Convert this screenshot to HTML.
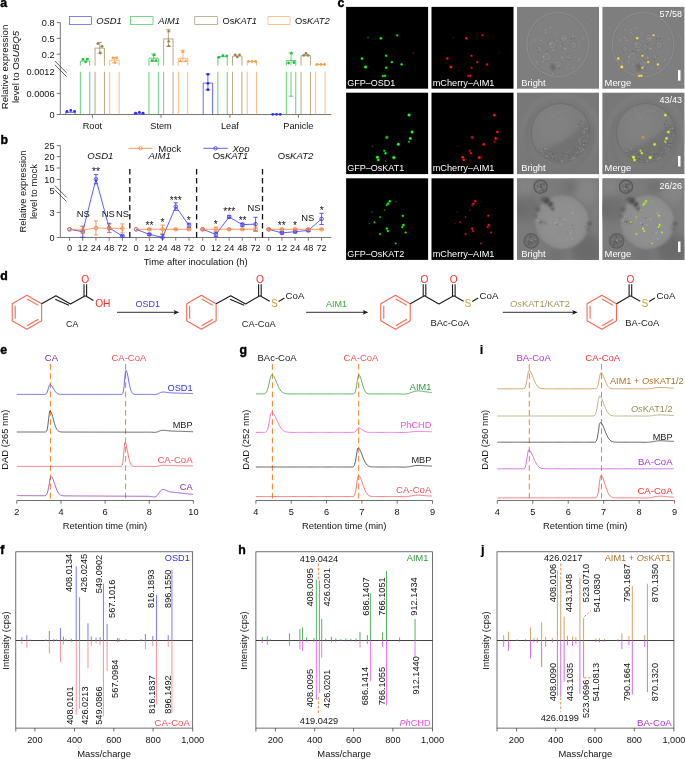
<!DOCTYPE html>
<html><head><meta charset="utf-8"><title>Figure</title>
<style>
html,body{margin:0;padding:0;background:#fff;}
svg{display:block;font-family:"Liberation Sans",sans-serif;}
</style></head><body>
<svg width="685" height="759" viewBox="0 0 685 759">
<rect width="685" height="759" fill="#fff"/>
<text x="0.20" y="6.60" font-size="12.3" fill="#000" font-weight="bold" stroke="#000" stroke-width="0.4" stroke-linejoin="round">a</text>
<text x="7.80" y="67.00" font-size="9.7" text-anchor="middle" fill="#111" transform="rotate(-90 7.80 67.00)">Relative expression</text>
<text x="18.80" y="67.00" font-size="9.7" text-anchor="middle" fill="#111" transform="rotate(-90 18.80 67.00)">level to Os<tspan font-style="italic">UBQ5</tspan></text>
<line x1="60.30" y1="22.60" x2="60.30" y2="114.50" stroke="#777" stroke-width="1.0" />
<line x1="54.80" y1="61.00" x2="66.60" y2="72.80" stroke="#3a3a3a" stroke-width="0.8" />
<line x1="54.80" y1="64.80" x2="66.60" y2="76.60" stroke="#3a3a3a" stroke-width="0.8" />
<line x1="56.80" y1="22.60" x2="60.30" y2="22.60" stroke="#777" stroke-width="1.0" />
<text x="54.60" y="25.90" font-size="9.2" text-anchor="end" fill="#111">0.8</text>
<line x1="56.80" y1="38.40" x2="60.30" y2="38.40" stroke="#777" stroke-width="1.0" />
<text x="54.60" y="41.70" font-size="9.2" text-anchor="end" fill="#111">0.5</text>
<line x1="56.80" y1="54.20" x2="60.30" y2="54.20" stroke="#777" stroke-width="1.0" />
<text x="54.60" y="57.50" font-size="9.2" text-anchor="end" fill="#111">0.2</text>
<text x="54.60" y="75.00" font-size="9.2" text-anchor="end" fill="#111">0.0012</text>
<line x1="56.80" y1="93.40" x2="60.30" y2="93.40" stroke="#777" stroke-width="1.0" />
<text x="54.60" y="96.70" font-size="9.2" text-anchor="end" fill="#111">0.0006</text>
<line x1="56.80" y1="114.50" x2="60.30" y2="114.50" stroke="#777" stroke-width="1.0" />
<text x="54.60" y="117.80" font-size="9.2" text-anchor="end" fill="#111">0</text>
<line x1="59.80" y1="114.50" x2="331.40" y2="114.50" stroke="#777" stroke-width="1.0" />
<line x1="92.40" y1="114.50" x2="92.40" y2="117.80" stroke="#777" stroke-width="1.0" />
<text x="92.40" y="128.60" font-size="9.2" text-anchor="middle" fill="#111">Root</text>
<line x1="161.00" y1="114.50" x2="161.00" y2="117.80" stroke="#777" stroke-width="1.0" />
<text x="161.00" y="128.60" font-size="9.2" text-anchor="middle" fill="#111">Stem</text>
<line x1="229.90" y1="114.50" x2="229.90" y2="117.80" stroke="#777" stroke-width="1.0" />
<text x="229.90" y="128.60" font-size="9.2" text-anchor="middle" fill="#111">Leaf</text>
<line x1="298.40" y1="114.50" x2="298.40" y2="117.80" stroke="#777" stroke-width="1.0" />
<text x="298.40" y="128.60" font-size="9.2" text-anchor="middle" fill="#111">Panicle</text>
<rect x="69.60" y="16.70" width="22.00" height="7.60" fill="none" stroke="#2a2aff" stroke-width="0.6" />
<text x="96.20" y="24.00" font-size="9.35" fill="#111"><tspan font-style="italic">OSD1</tspan></text>
<rect x="130.40" y="16.70" width="22.60" height="7.60" fill="none" stroke="#1fbf3a" stroke-width="0.6" />
<text x="158.20" y="24.00" font-size="9.35" fill="#111"><tspan font-style="italic">AIM1</tspan></text>
<rect x="194.80" y="16.70" width="22.80" height="7.60" fill="none" stroke="#9a8450" stroke-width="0.6" />
<text x="222.40" y="24.00" font-size="9.35" fill="#111">Os<tspan font-style="italic">KAT1</tspan></text>
<rect x="268.00" y="16.70" width="22.00" height="7.60" fill="none" stroke="#ff9d45" stroke-width="0.6" />
<text x="295.00" y="24.00" font-size="9.35" fill="#111">Os<tspan font-style="italic">KAT2</tspan></text>
<path d="M65.70,114.5 V112.30 H75.10 V114.5" fill="none" stroke="#2a2aff" stroke-width="0.7" />
<circle cx="66.90" cy="111.50" r="1.40" fill="#2a2aff" />
<circle cx="70.80" cy="110.40" r="1.40" fill="#2a2aff" />
<circle cx="74.60" cy="111.40" r="1.40" fill="#2a2aff" />
<path d="M80.35,65.6 V61.00 H89.75 V65.6" fill="none" stroke="#1fbf3a" stroke-width="0.7" />
<line x1="80.35" y1="71.80" x2="80.35" y2="114.50" stroke="#1fbf3a" stroke-width="0.7" />
<line x1="89.75" y1="71.80" x2="89.75" y2="114.50" stroke="#1fbf3a" stroke-width="0.7" />
<circle cx="83.00" cy="59.40" r="1.40" fill="#1fbf3a" />
<circle cx="87.40" cy="59.20" r="1.40" fill="#1fbf3a" />
<circle cx="85.70" cy="61.80" r="1.40" fill="#1fbf3a" />
<path d="M95.05,65.6 V48.10 H104.45 V65.6" fill="none" stroke="#9a8450" stroke-width="0.7" />
<line x1="95.05" y1="71.80" x2="95.05" y2="114.50" stroke="#9a8450" stroke-width="0.7" />
<line x1="104.45" y1="71.80" x2="104.45" y2="114.50" stroke="#9a8450" stroke-width="0.7" />
<line x1="99.75" y1="42.40" x2="99.75" y2="53.30" stroke="#9a8450" stroke-width="0.7" />
<line x1="97.35" y1="42.40" x2="102.15" y2="42.40" stroke="#9a8450" stroke-width="0.7" />
<line x1="97.35" y1="53.30" x2="102.15" y2="53.30" stroke="#9a8450" stroke-width="0.7" />
<circle cx="97.90" cy="43.70" r="1.40" fill="#9a8450" />
<circle cx="102.00" cy="46.30" r="1.40" fill="#9a8450" />
<circle cx="100.20" cy="53.00" r="1.40" fill="#9a8450" />
<path d="M109.70,65.6 V60.30 H119.10 V65.6" fill="none" stroke="#ff9d45" stroke-width="0.7" />
<line x1="109.70" y1="71.80" x2="109.70" y2="114.50" stroke="#ff9d45" stroke-width="0.7" />
<line x1="119.10" y1="71.80" x2="119.10" y2="114.50" stroke="#ff9d45" stroke-width="0.7" />
<line x1="114.40" y1="57.60" x2="114.40" y2="62.80" stroke="#ff9d45" stroke-width="0.7" />
<line x1="112.00" y1="57.60" x2="116.80" y2="57.60" stroke="#ff9d45" stroke-width="0.7" />
<line x1="112.00" y1="62.80" x2="116.80" y2="62.80" stroke="#ff9d45" stroke-width="0.7" />
<circle cx="112.80" cy="57.80" r="1.40" fill="#ff9d45" />
<circle cx="116.70" cy="57.80" r="1.40" fill="#ff9d45" />
<circle cx="114.90" cy="62.60" r="1.40" fill="#ff9d45" />
<path d="M134.30,114.5 V113.20 H143.70 V114.5" fill="none" stroke="#2a2aff" stroke-width="0.7" />
<circle cx="135.60" cy="113.20" r="1.40" fill="#2a2aff" />
<circle cx="139.40" cy="112.30" r="1.40" fill="#2a2aff" />
<circle cx="143.10" cy="113.20" r="1.40" fill="#2a2aff" />
<path d="M148.95,65.6 V58.20 H158.35 V65.6" fill="none" stroke="#1fbf3a" stroke-width="0.7" />
<line x1="148.95" y1="71.80" x2="148.95" y2="114.50" stroke="#1fbf3a" stroke-width="0.7" />
<line x1="158.35" y1="71.80" x2="158.35" y2="114.50" stroke="#1fbf3a" stroke-width="0.7" />
<line x1="153.65" y1="54.00" x2="153.65" y2="61.20" stroke="#1fbf3a" stroke-width="0.7" />
<line x1="151.25" y1="54.00" x2="156.05" y2="54.00" stroke="#1fbf3a" stroke-width="0.7" />
<line x1="151.25" y1="61.20" x2="156.05" y2="61.20" stroke="#1fbf3a" stroke-width="0.7" />
<path d="M152.20,55.90 L155.80,55.90 L154.00,52.80Z" fill="#1fbf3a" stroke="none" stroke-width="0" />
<path d="M150.10,61.70 L153.70,61.70 L151.90,58.60Z" fill="#1fbf3a" stroke="none" stroke-width="0" />
<path d="M154.30,61.70 L157.90,61.70 L156.10,58.60Z" fill="#1fbf3a" stroke="none" stroke-width="0" />
<path d="M163.65,65.6 V38.90 H173.05 V65.6" fill="none" stroke="#9a8450" stroke-width="0.7" />
<line x1="163.65" y1="71.80" x2="163.65" y2="114.50" stroke="#9a8450" stroke-width="0.7" />
<line x1="173.05" y1="71.80" x2="173.05" y2="114.50" stroke="#9a8450" stroke-width="0.7" />
<line x1="168.35" y1="29.80" x2="168.35" y2="46.40" stroke="#9a8450" stroke-width="0.7" />
<line x1="165.95" y1="29.80" x2="170.75" y2="29.80" stroke="#9a8450" stroke-width="0.7" />
<line x1="165.95" y1="46.40" x2="170.75" y2="46.40" stroke="#9a8450" stroke-width="0.7" />
<path d="M166.90,32.30 L170.50,32.30 L168.70,29.20Z" fill="#9a8450" stroke="none" stroke-width="0" />
<path d="M166.90,42.30 L170.50,42.30 L168.70,39.20Z" fill="#9a8450" stroke="none" stroke-width="0" />
<path d="M166.90,46.90 L170.50,46.90 L168.70,43.80Z" fill="#9a8450" stroke="none" stroke-width="0" />
<path d="M178.30,65.6 V58.20 H187.70 V65.6" fill="none" stroke="#ff9d45" stroke-width="0.7" />
<line x1="178.30" y1="71.80" x2="178.30" y2="114.50" stroke="#ff9d45" stroke-width="0.7" />
<line x1="187.70" y1="71.80" x2="187.70" y2="114.50" stroke="#ff9d45" stroke-width="0.7" />
<line x1="183.00" y1="50.40" x2="183.00" y2="61.60" stroke="#ff9d45" stroke-width="0.7" />
<line x1="180.60" y1="50.40" x2="185.40" y2="50.40" stroke="#ff9d45" stroke-width="0.7" />
<line x1="180.60" y1="61.60" x2="185.40" y2="61.60" stroke="#ff9d45" stroke-width="0.7" />
<path d="M181.00,52.70 L184.60,52.70 L182.80,49.60Z" fill="#ff9d45" stroke="none" stroke-width="0" />
<path d="M178.60,62.10 L182.20,62.10 L180.40,59.00Z" fill="#ff9d45" stroke="none" stroke-width="0" />
<path d="M183.90,62.10 L187.50,62.10 L185.70,59.00Z" fill="#ff9d45" stroke="none" stroke-width="0" />
<path d="M203.20,114.5 V83.10 H212.60 V114.5" fill="none" stroke="#2a2aff" stroke-width="0.7" />
<line x1="207.90" y1="74.10" x2="207.90" y2="90.00" stroke="#2a2aff" stroke-width="0.7" />
<line x1="205.50" y1="74.10" x2="210.30" y2="74.10" stroke="#2a2aff" stroke-width="0.7" />
<line x1="205.50" y1="90.00" x2="210.30" y2="90.00" stroke="#2a2aff" stroke-width="0.7" />
<circle cx="207.90" cy="74.30" r="1.40" fill="#2a2aff" />
<circle cx="207.90" cy="83.30" r="1.40" fill="#2a2aff" />
<circle cx="207.90" cy="89.70" r="1.40" fill="#2a2aff" />
<path d="M217.85,65.6 V56.60 H227.25 V65.6" fill="none" stroke="#1fbf3a" stroke-width="0.7" />
<line x1="217.85" y1="71.80" x2="217.85" y2="114.50" stroke="#1fbf3a" stroke-width="0.7" />
<line x1="227.25" y1="71.80" x2="227.25" y2="114.50" stroke="#1fbf3a" stroke-width="0.7" />
<circle cx="218.90" cy="57.30" r="1.40" fill="#1fbf3a" />
<circle cx="223.00" cy="55.70" r="1.40" fill="#1fbf3a" />
<circle cx="226.70" cy="55.90" r="1.40" fill="#1fbf3a" />
<path d="M232.55,65.6 V56.10 H241.95 V65.6" fill="none" stroke="#9a8450" stroke-width="0.7" />
<line x1="232.55" y1="71.80" x2="232.55" y2="114.50" stroke="#9a8450" stroke-width="0.7" />
<line x1="241.95" y1="71.80" x2="241.95" y2="114.50" stroke="#9a8450" stroke-width="0.7" />
<circle cx="235.20" cy="54.80" r="1.40" fill="#9a8450" />
<circle cx="237.30" cy="56.90" r="1.40" fill="#9a8450" />
<circle cx="239.50" cy="54.80" r="1.40" fill="#9a8450" />
<path d="M247.20,65.6 V61.60 H256.60 V65.6" fill="none" stroke="#ff9d45" stroke-width="0.7" />
<line x1="247.20" y1="71.80" x2="247.20" y2="114.50" stroke="#ff9d45" stroke-width="0.7" />
<line x1="256.60" y1="71.80" x2="256.60" y2="114.50" stroke="#ff9d45" stroke-width="0.7" />
<line x1="247.90" y1="61.40" x2="255.90" y2="61.40" stroke="#ff9d45" stroke-width="0.7" />
<circle cx="248.50" cy="61.40" r="1.40" fill="#ff9d45" />
<circle cx="252.10" cy="61.40" r="1.40" fill="#ff9d45" />
<circle cx="255.70" cy="61.40" r="1.40" fill="#ff9d45" />
<line x1="272.40" y1="114.30" x2="280.40" y2="114.30" stroke="#2a2aff" stroke-width="0.7" />
<circle cx="272.70" cy="114.30" r="1.40" fill="#2a2aff" />
<circle cx="276.50" cy="114.30" r="1.40" fill="#2a2aff" />
<circle cx="280.20" cy="114.30" r="1.40" fill="#2a2aff" />
<path d="M286.35,65.6 V60.50 H295.75 V65.6" fill="none" stroke="#1fbf3a" stroke-width="0.7" />
<line x1="286.35" y1="71.80" x2="286.35" y2="114.50" stroke="#1fbf3a" stroke-width="0.7" />
<line x1="295.75" y1="71.80" x2="295.75" y2="114.50" stroke="#1fbf3a" stroke-width="0.7" />
<line x1="291.05" y1="52.80" x2="291.05" y2="65.60" stroke="#1fbf3a" stroke-width="0.7" />
<line x1="291.05" y1="71.80" x2="291.05" y2="96.20" stroke="#1fbf3a" stroke-width="0.7" />
<line x1="288.65" y1="52.80" x2="293.45" y2="52.80" stroke="#1fbf3a" stroke-width="0.7" />
<line x1="288.65" y1="96.20" x2="293.45" y2="96.20" stroke="#1fbf3a" stroke-width="0.7" />
<path d="M289.60,54.30 L293.20,54.30 L291.40,51.20Z" fill="#1fbf3a" stroke="none" stroke-width="0" />
<circle cx="288.60" cy="63.00" r="1.40" fill="#1fbf3a" />
<circle cx="293.90" cy="62.50" r="1.40" fill="#1fbf3a" />
<path d="M301.05,65.6 V55.70 H310.45 V65.6" fill="none" stroke="#9a8450" stroke-width="0.7" />
<line x1="301.05" y1="71.80" x2="301.05" y2="114.50" stroke="#9a8450" stroke-width="0.7" />
<line x1="310.45" y1="71.80" x2="310.45" y2="114.50" stroke="#9a8450" stroke-width="0.7" />
<circle cx="303.90" cy="55.30" r="1.40" fill="#9a8450" />
<circle cx="306.00" cy="53.40" r="1.40" fill="#9a8450" />
<circle cx="308.00" cy="55.30" r="1.40" fill="#9a8450" />
<path d="M315.70,65.6 V64.40 H325.10 V65.6" fill="none" stroke="#ff9d45" stroke-width="0.7" />
<line x1="315.70" y1="71.80" x2="315.70" y2="114.50" stroke="#ff9d45" stroke-width="0.7" />
<line x1="325.10" y1="71.80" x2="325.10" y2="114.50" stroke="#ff9d45" stroke-width="0.7" />
<line x1="316.40" y1="64.50" x2="324.40" y2="64.50" stroke="#ff9d45" stroke-width="0.7" />
<circle cx="317.20" cy="64.50" r="1.40" fill="#ff9d45" />
<circle cx="320.90" cy="64.50" r="1.40" fill="#ff9d45" />
<circle cx="324.60" cy="64.50" r="1.40" fill="#ff9d45" />
<text x="0.40" y="143.70" font-size="12.3" fill="#000" font-weight="bold" stroke="#000" stroke-width="0.4" stroke-linejoin="round">b</text>
<text x="25.60" y="191.50" font-size="9.4" text-anchor="middle" fill="#111" transform="rotate(-90 25.60 191.50)">Relative expression</text>
<text x="36.70" y="191.50" font-size="9.45" text-anchor="middle" fill="#111" transform="rotate(-90 36.70 191.50)">level to mock</text>
<line x1="60.30" y1="145.60" x2="60.30" y2="237.50" stroke="#777" stroke-width="1.0" />
<line x1="54.80" y1="185.60" x2="66.80" y2="197.60" stroke="#3a3a3a" stroke-width="0.8" />
<line x1="54.80" y1="189.80" x2="66.40" y2="201.40" stroke="#3a3a3a" stroke-width="0.8" />
<line x1="56.80" y1="145.60" x2="60.30" y2="145.60" stroke="#777" stroke-width="1.0" />
<text x="54.60" y="148.90" font-size="9.2" text-anchor="end" fill="#111">25</text>
<line x1="56.80" y1="156.60" x2="60.30" y2="156.60" stroke="#777" stroke-width="1.0" />
<text x="54.60" y="159.90" font-size="9.2" text-anchor="end" fill="#111">20</text>
<line x1="56.80" y1="168.00" x2="60.30" y2="168.00" stroke="#777" stroke-width="1.0" />
<text x="54.60" y="171.30" font-size="9.2" text-anchor="end" fill="#111">15</text>
<line x1="56.80" y1="179.40" x2="60.30" y2="179.40" stroke="#777" stroke-width="1.0" />
<text x="54.60" y="182.70" font-size="9.2" text-anchor="end" fill="#111">10</text>
<text x="54.60" y="194.10" font-size="9.2" text-anchor="end" fill="#111">5</text>
<line x1="56.80" y1="212.40" x2="60.30" y2="212.40" stroke="#777" stroke-width="1.0" />
<text x="54.60" y="215.70" font-size="9.2" text-anchor="end" fill="#111">3</text>
<line x1="56.80" y1="237.50" x2="60.30" y2="237.50" stroke="#777" stroke-width="1.0" />
<text x="54.60" y="240.80" font-size="9.2" text-anchor="end" fill="#111">0</text>
<line x1="59.80" y1="237.50" x2="331.40" y2="237.50" stroke="#777" stroke-width="1.0" />
<line x1="69.50" y1="237.50" x2="69.50" y2="240.70" stroke="#777" stroke-width="1.0" />
<text x="69.50" y="251.30" font-size="9.2" text-anchor="middle" fill="#111">0</text>
<line x1="82.72" y1="237.50" x2="82.72" y2="240.70" stroke="#777" stroke-width="1.0" />
<text x="82.72" y="251.30" font-size="9.2" text-anchor="middle" fill="#111">12</text>
<line x1="95.94" y1="237.50" x2="95.94" y2="240.70" stroke="#777" stroke-width="1.0" />
<text x="95.94" y="251.30" font-size="9.2" text-anchor="middle" fill="#111">24</text>
<line x1="109.16" y1="237.50" x2="109.16" y2="240.70" stroke="#777" stroke-width="1.0" />
<text x="109.16" y="251.30" font-size="9.2" text-anchor="middle" fill="#111">48</text>
<line x1="122.38" y1="237.50" x2="122.38" y2="240.70" stroke="#777" stroke-width="1.0" />
<text x="122.38" y="251.30" font-size="9.2" text-anchor="middle" fill="#111">72</text>
<line x1="136.10" y1="237.50" x2="136.10" y2="240.70" stroke="#777" stroke-width="1.0" />
<text x="136.10" y="251.30" font-size="9.2" text-anchor="middle" fill="#111">0</text>
<line x1="149.32" y1="237.50" x2="149.32" y2="240.70" stroke="#777" stroke-width="1.0" />
<text x="149.32" y="251.30" font-size="9.2" text-anchor="middle" fill="#111">12</text>
<line x1="162.54" y1="237.50" x2="162.54" y2="240.70" stroke="#777" stroke-width="1.0" />
<text x="162.54" y="251.30" font-size="9.2" text-anchor="middle" fill="#111">24</text>
<line x1="175.76" y1="237.50" x2="175.76" y2="240.70" stroke="#777" stroke-width="1.0" />
<text x="175.76" y="251.30" font-size="9.2" text-anchor="middle" fill="#111">48</text>
<line x1="188.98" y1="237.50" x2="188.98" y2="240.70" stroke="#777" stroke-width="1.0" />
<text x="188.98" y="251.30" font-size="9.2" text-anchor="middle" fill="#111">72</text>
<line x1="202.70" y1="237.50" x2="202.70" y2="240.70" stroke="#777" stroke-width="1.0" />
<text x="202.70" y="251.30" font-size="9.2" text-anchor="middle" fill="#111">0</text>
<line x1="215.92" y1="237.50" x2="215.92" y2="240.70" stroke="#777" stroke-width="1.0" />
<text x="215.92" y="251.30" font-size="9.2" text-anchor="middle" fill="#111">12</text>
<line x1="229.14" y1="237.50" x2="229.14" y2="240.70" stroke="#777" stroke-width="1.0" />
<text x="229.14" y="251.30" font-size="9.2" text-anchor="middle" fill="#111">24</text>
<line x1="242.36" y1="237.50" x2="242.36" y2="240.70" stroke="#777" stroke-width="1.0" />
<text x="242.36" y="251.30" font-size="9.2" text-anchor="middle" fill="#111">48</text>
<line x1="255.58" y1="237.50" x2="255.58" y2="240.70" stroke="#777" stroke-width="1.0" />
<text x="255.58" y="251.30" font-size="9.2" text-anchor="middle" fill="#111">72</text>
<line x1="268.70" y1="237.50" x2="268.70" y2="240.70" stroke="#777" stroke-width="1.0" />
<text x="268.70" y="251.30" font-size="9.2" text-anchor="middle" fill="#111">0</text>
<line x1="281.92" y1="237.50" x2="281.92" y2="240.70" stroke="#777" stroke-width="1.0" />
<text x="281.92" y="251.30" font-size="9.2" text-anchor="middle" fill="#111">12</text>
<line x1="295.14" y1="237.50" x2="295.14" y2="240.70" stroke="#777" stroke-width="1.0" />
<text x="295.14" y="251.30" font-size="9.2" text-anchor="middle" fill="#111">24</text>
<line x1="308.36" y1="237.50" x2="308.36" y2="240.70" stroke="#777" stroke-width="1.0" />
<text x="308.36" y="251.30" font-size="9.2" text-anchor="middle" fill="#111">48</text>
<line x1="321.58" y1="237.50" x2="321.58" y2="240.70" stroke="#777" stroke-width="1.0" />
<text x="321.58" y="251.30" font-size="9.2" text-anchor="middle" fill="#111">72</text>
<text x="195.70" y="265.30" font-size="9.45" text-anchor="middle" fill="#111">Time after inoculation (h)</text>
<line x1="129.80" y1="169.00" x2="129.80" y2="237.50" stroke="#111" stroke-width="1.3" stroke-dasharray="5.6 3.4"/>
<line x1="196.60" y1="169.00" x2="196.60" y2="237.50" stroke="#111" stroke-width="1.3" stroke-dasharray="5.6 3.4"/>
<line x1="262.50" y1="169.00" x2="262.50" y2="237.50" stroke="#111" stroke-width="1.3" stroke-dasharray="5.6 3.4"/>
<text x="100.40" y="159.30" font-size="9.6" text-anchor="middle" fill="#111"><tspan font-style="italic">OSD1</tspan></text>
<text x="159.60" y="159.30" font-size="9.6" text-anchor="middle" fill="#111"><tspan font-style="italic">AIM1</tspan></text>
<text x="230.40" y="159.30" font-size="9.6" text-anchor="middle" fill="#111">Os<tspan font-style="italic">KAT1</tspan></text>
<text x="295.60" y="159.30" font-size="9.6" text-anchor="middle" fill="#111">Os<tspan font-style="italic">KAT2</tspan></text>
<line x1="128.50" y1="148.30" x2="152.60" y2="148.30" stroke="#f5823e" stroke-width="0.8" />
<circle cx="140.50" cy="148.30" r="1.70" fill="none" stroke="#f5823e" stroke-width="0.8" />
<text x="158.20" y="151.70" font-size="9.6" fill="#111">Mock</text>
<line x1="203.40" y1="148.30" x2="227.70" y2="148.30" stroke="#3636f5" stroke-width="0.8" />
<circle cx="215.50" cy="148.30" r="1.70" fill="none" stroke="#3636f5" stroke-width="0.8" />
<text x="232.40" y="151.70" font-size="9.6" fill="#111"><tspan font-style="italic">Xoo</tspan></text>
<path d="M69.50,229.30 L82.72,231.70 L95.94,179.20 L109.16,227.90 L122.38,236.00" fill="none" stroke="#3636f5" stroke-width="0.8" />
<circle cx="69.50" cy="229.30" r="1.80" fill="none" stroke="#3636f5" stroke-width="0.8" />
<line x1="82.72" y1="226.20" x2="82.72" y2="237.20" stroke="#3636f5" stroke-width="0.8" />
<line x1="80.52" y1="226.20" x2="84.92" y2="226.20" stroke="#3636f5" stroke-width="0.8" />
<line x1="80.52" y1="237.20" x2="84.92" y2="237.20" stroke="#3636f5" stroke-width="0.8" />
<circle cx="82.72" cy="231.70" r="1.80" fill="none" stroke="#3636f5" stroke-width="0.8" />
<line x1="95.94" y1="174.60" x2="95.94" y2="183.80" stroke="#3636f5" stroke-width="0.8" />
<line x1="93.74" y1="174.60" x2="98.14" y2="174.60" stroke="#3636f5" stroke-width="0.8" />
<line x1="93.74" y1="183.80" x2="98.14" y2="183.80" stroke="#3636f5" stroke-width="0.8" />
<circle cx="95.94" cy="179.20" r="1.80" fill="none" stroke="#3636f5" stroke-width="0.8" />
<line x1="109.16" y1="223.30" x2="109.16" y2="232.50" stroke="#3636f5" stroke-width="0.8" />
<line x1="106.96" y1="223.30" x2="111.36" y2="223.30" stroke="#3636f5" stroke-width="0.8" />
<line x1="106.96" y1="232.50" x2="111.36" y2="232.50" stroke="#3636f5" stroke-width="0.8" />
<circle cx="109.16" cy="227.90" r="1.80" fill="none" stroke="#3636f5" stroke-width="0.8" />
<line x1="122.38" y1="235.00" x2="122.38" y2="237.00" stroke="#3636f5" stroke-width="0.8" />
<line x1="120.18" y1="235.00" x2="124.58" y2="235.00" stroke="#3636f5" stroke-width="0.8" />
<line x1="120.18" y1="237.00" x2="124.58" y2="237.00" stroke="#3636f5" stroke-width="0.8" />
<circle cx="122.38" cy="236.00" r="1.80" fill="none" stroke="#3636f5" stroke-width="0.8" />
<path d="M69.50,229.30 L82.72,230.20 L95.94,227.90 L109.16,228.40 L122.38,228.40" fill="none" stroke="#f5823e" stroke-width="0.8" />
<circle cx="69.50" cy="229.30" r="1.80" fill="none" stroke="#f5823e" stroke-width="0.8" />
<line x1="82.72" y1="226.60" x2="82.72" y2="233.80" stroke="#f5823e" stroke-width="0.8" />
<line x1="80.52" y1="226.60" x2="84.92" y2="226.60" stroke="#f5823e" stroke-width="0.8" />
<line x1="80.52" y1="233.80" x2="84.92" y2="233.80" stroke="#f5823e" stroke-width="0.8" />
<circle cx="82.72" cy="230.20" r="1.80" fill="none" stroke="#f5823e" stroke-width="0.8" />
<line x1="95.94" y1="220.90" x2="95.94" y2="234.90" stroke="#f5823e" stroke-width="0.8" />
<line x1="93.74" y1="220.90" x2="98.14" y2="220.90" stroke="#f5823e" stroke-width="0.8" />
<line x1="93.74" y1="234.90" x2="98.14" y2="234.90" stroke="#f5823e" stroke-width="0.8" />
<circle cx="95.94" cy="227.90" r="1.80" fill="none" stroke="#f5823e" stroke-width="0.8" />
<line x1="109.16" y1="224.20" x2="109.16" y2="232.60" stroke="#f5823e" stroke-width="0.8" />
<line x1="106.96" y1="224.20" x2="111.36" y2="224.20" stroke="#f5823e" stroke-width="0.8" />
<line x1="106.96" y1="232.60" x2="111.36" y2="232.60" stroke="#f5823e" stroke-width="0.8" />
<circle cx="109.16" cy="228.40" r="1.80" fill="none" stroke="#f5823e" stroke-width="0.8" />
<line x1="122.38" y1="223.90" x2="122.38" y2="232.90" stroke="#f5823e" stroke-width="0.8" />
<line x1="120.18" y1="223.90" x2="124.58" y2="223.90" stroke="#f5823e" stroke-width="0.8" />
<line x1="120.18" y1="232.90" x2="124.58" y2="232.90" stroke="#f5823e" stroke-width="0.8" />
<circle cx="122.38" cy="228.40" r="1.80" fill="none" stroke="#f5823e" stroke-width="0.8" />
<path d="M136.10,229.30 L149.32,234.40 L162.54,237.40 L175.76,206.60 L188.98,225.40" fill="none" stroke="#3636f5" stroke-width="0.8" />
<circle cx="136.10" cy="229.30" r="1.80" fill="none" stroke="#3636f5" stroke-width="0.8" />
<line x1="149.32" y1="233.40" x2="149.32" y2="235.40" stroke="#3636f5" stroke-width="0.8" />
<line x1="147.12" y1="233.40" x2="151.52" y2="233.40" stroke="#3636f5" stroke-width="0.8" />
<line x1="147.12" y1="235.40" x2="151.52" y2="235.40" stroke="#3636f5" stroke-width="0.8" />
<circle cx="149.32" cy="234.40" r="1.80" fill="none" stroke="#3636f5" stroke-width="0.8" />
<line x1="162.54" y1="234.60" x2="162.54" y2="240.20" stroke="#3636f5" stroke-width="0.8" />
<line x1="160.34" y1="234.60" x2="164.74" y2="234.60" stroke="#3636f5" stroke-width="0.8" />
<circle cx="162.54" cy="237.40" r="1.80" fill="none" stroke="#3636f5" stroke-width="0.8" />
<line x1="175.76" y1="202.80" x2="175.76" y2="210.40" stroke="#3636f5" stroke-width="0.8" />
<line x1="173.56" y1="202.80" x2="177.96" y2="202.80" stroke="#3636f5" stroke-width="0.8" />
<line x1="173.56" y1="210.40" x2="177.96" y2="210.40" stroke="#3636f5" stroke-width="0.8" />
<circle cx="175.76" cy="206.60" r="1.80" fill="none" stroke="#3636f5" stroke-width="0.8" />
<line x1="188.98" y1="223.20" x2="188.98" y2="227.60" stroke="#3636f5" stroke-width="0.8" />
<line x1="186.78" y1="223.20" x2="191.18" y2="223.20" stroke="#3636f5" stroke-width="0.8" />
<line x1="186.78" y1="227.60" x2="191.18" y2="227.60" stroke="#3636f5" stroke-width="0.8" />
<circle cx="188.98" cy="225.40" r="1.80" fill="none" stroke="#3636f5" stroke-width="0.8" />
<path d="M136.10,229.30 L149.32,229.30 L162.54,229.30 L175.76,229.30 L188.98,229.30" fill="none" stroke="#f5823e" stroke-width="0.8" />
<circle cx="136.10" cy="229.30" r="1.80" fill="none" stroke="#f5823e" stroke-width="0.8" />
<line x1="149.32" y1="228.50" x2="149.32" y2="230.10" stroke="#f5823e" stroke-width="0.8" />
<line x1="147.12" y1="228.50" x2="151.52" y2="228.50" stroke="#f5823e" stroke-width="0.8" />
<line x1="147.12" y1="230.10" x2="151.52" y2="230.10" stroke="#f5823e" stroke-width="0.8" />
<circle cx="149.32" cy="229.30" r="1.80" fill="none" stroke="#f5823e" stroke-width="0.8" />
<line x1="162.54" y1="225.10" x2="162.54" y2="233.50" stroke="#f5823e" stroke-width="0.8" />
<line x1="160.34" y1="225.10" x2="164.74" y2="225.10" stroke="#f5823e" stroke-width="0.8" />
<line x1="160.34" y1="233.50" x2="164.74" y2="233.50" stroke="#f5823e" stroke-width="0.8" />
<circle cx="162.54" cy="229.30" r="1.80" fill="none" stroke="#f5823e" stroke-width="0.8" />
<line x1="175.76" y1="228.70" x2="175.76" y2="229.90" stroke="#f5823e" stroke-width="0.8" />
<line x1="173.56" y1="228.70" x2="177.96" y2="228.70" stroke="#f5823e" stroke-width="0.8" />
<line x1="173.56" y1="229.90" x2="177.96" y2="229.90" stroke="#f5823e" stroke-width="0.8" />
<circle cx="175.76" cy="229.30" r="1.80" fill="none" stroke="#f5823e" stroke-width="0.8" />
<line x1="188.98" y1="228.70" x2="188.98" y2="229.90" stroke="#f5823e" stroke-width="0.8" />
<line x1="186.78" y1="228.70" x2="191.18" y2="228.70" stroke="#f5823e" stroke-width="0.8" />
<line x1="186.78" y1="229.90" x2="191.18" y2="229.90" stroke="#f5823e" stroke-width="0.8" />
<circle cx="188.98" cy="229.30" r="1.80" fill="none" stroke="#f5823e" stroke-width="0.8" />
<path d="M202.70,229.30 L215.92,234.40 L229.14,216.90 L242.36,224.70 L255.58,224.10" fill="none" stroke="#3636f5" stroke-width="0.8" />
<circle cx="202.70" cy="229.30" r="1.80" fill="none" stroke="#3636f5" stroke-width="0.8" />
<line x1="215.92" y1="232.20" x2="215.92" y2="236.60" stroke="#3636f5" stroke-width="0.8" />
<line x1="213.72" y1="232.20" x2="218.12" y2="232.20" stroke="#3636f5" stroke-width="0.8" />
<line x1="213.72" y1="236.60" x2="218.12" y2="236.60" stroke="#3636f5" stroke-width="0.8" />
<circle cx="215.92" cy="234.40" r="1.80" fill="none" stroke="#3636f5" stroke-width="0.8" />
<line x1="229.14" y1="215.70" x2="229.14" y2="218.10" stroke="#3636f5" stroke-width="0.8" />
<line x1="226.94" y1="215.70" x2="231.34" y2="215.70" stroke="#3636f5" stroke-width="0.8" />
<line x1="226.94" y1="218.10" x2="231.34" y2="218.10" stroke="#3636f5" stroke-width="0.8" />
<circle cx="229.14" cy="216.90" r="1.80" fill="none" stroke="#3636f5" stroke-width="0.8" />
<line x1="242.36" y1="223.10" x2="242.36" y2="226.30" stroke="#3636f5" stroke-width="0.8" />
<line x1="240.16" y1="223.10" x2="244.56" y2="223.10" stroke="#3636f5" stroke-width="0.8" />
<line x1="240.16" y1="226.30" x2="244.56" y2="226.30" stroke="#3636f5" stroke-width="0.8" />
<circle cx="242.36" cy="224.70" r="1.80" fill="none" stroke="#3636f5" stroke-width="0.8" />
<line x1="255.58" y1="217.30" x2="255.58" y2="230.90" stroke="#3636f5" stroke-width="0.8" />
<line x1="253.38" y1="217.30" x2="257.78" y2="217.30" stroke="#3636f5" stroke-width="0.8" />
<line x1="253.38" y1="230.90" x2="257.78" y2="230.90" stroke="#3636f5" stroke-width="0.8" />
<circle cx="255.58" cy="224.10" r="1.80" fill="none" stroke="#3636f5" stroke-width="0.8" />
<path d="M202.70,229.30 L215.92,229.30 L229.14,229.30 L242.36,229.30 L255.58,229.30" fill="none" stroke="#f5823e" stroke-width="0.8" />
<line x1="202.70" y1="228.50" x2="202.70" y2="230.10" stroke="#f5823e" stroke-width="0.8" />
<line x1="200.50" y1="228.50" x2="204.90" y2="228.50" stroke="#f5823e" stroke-width="0.8" />
<line x1="200.50" y1="230.10" x2="204.90" y2="230.10" stroke="#f5823e" stroke-width="0.8" />
<circle cx="202.70" cy="229.30" r="1.80" fill="none" stroke="#f5823e" stroke-width="0.8" />
<line x1="215.92" y1="227.00" x2="215.92" y2="231.60" stroke="#f5823e" stroke-width="0.8" />
<line x1="213.72" y1="227.00" x2="218.12" y2="227.00" stroke="#f5823e" stroke-width="0.8" />
<line x1="213.72" y1="231.60" x2="218.12" y2="231.60" stroke="#f5823e" stroke-width="0.8" />
<circle cx="215.92" cy="229.30" r="1.80" fill="none" stroke="#f5823e" stroke-width="0.8" />
<line x1="229.14" y1="228.50" x2="229.14" y2="230.10" stroke="#f5823e" stroke-width="0.8" />
<line x1="226.94" y1="228.50" x2="231.34" y2="228.50" stroke="#f5823e" stroke-width="0.8" />
<line x1="226.94" y1="230.10" x2="231.34" y2="230.10" stroke="#f5823e" stroke-width="0.8" />
<circle cx="229.14" cy="229.30" r="1.80" fill="none" stroke="#f5823e" stroke-width="0.8" />
<line x1="242.36" y1="228.70" x2="242.36" y2="229.90" stroke="#f5823e" stroke-width="0.8" />
<line x1="240.16" y1="228.70" x2="244.56" y2="228.70" stroke="#f5823e" stroke-width="0.8" />
<line x1="240.16" y1="229.90" x2="244.56" y2="229.90" stroke="#f5823e" stroke-width="0.8" />
<circle cx="242.36" cy="229.30" r="1.80" fill="none" stroke="#f5823e" stroke-width="0.8" />
<line x1="255.58" y1="227.10" x2="255.58" y2="231.50" stroke="#f5823e" stroke-width="0.8" />
<line x1="253.38" y1="227.10" x2="257.78" y2="227.10" stroke="#f5823e" stroke-width="0.8" />
<line x1="253.38" y1="231.50" x2="257.78" y2="231.50" stroke="#f5823e" stroke-width="0.8" />
<circle cx="255.58" cy="229.30" r="1.80" fill="none" stroke="#f5823e" stroke-width="0.8" />
<path d="M268.70,229.30 L281.92,232.90 L295.14,231.70 L308.36,230.40 L321.58,218.90" fill="none" stroke="#3636f5" stroke-width="0.8" />
<circle cx="268.70" cy="229.30" r="1.80" fill="none" stroke="#3636f5" stroke-width="0.8" />
<line x1="281.92" y1="231.70" x2="281.92" y2="234.10" stroke="#3636f5" stroke-width="0.8" />
<line x1="279.72" y1="231.70" x2="284.12" y2="231.70" stroke="#3636f5" stroke-width="0.8" />
<line x1="279.72" y1="234.10" x2="284.12" y2="234.10" stroke="#3636f5" stroke-width="0.8" />
<circle cx="281.92" cy="232.90" r="1.80" fill="none" stroke="#3636f5" stroke-width="0.8" />
<line x1="295.14" y1="230.50" x2="295.14" y2="232.90" stroke="#3636f5" stroke-width="0.8" />
<line x1="292.94" y1="230.50" x2="297.34" y2="230.50" stroke="#3636f5" stroke-width="0.8" />
<line x1="292.94" y1="232.90" x2="297.34" y2="232.90" stroke="#3636f5" stroke-width="0.8" />
<circle cx="295.14" cy="231.70" r="1.80" fill="none" stroke="#3636f5" stroke-width="0.8" />
<line x1="308.36" y1="229.20" x2="308.36" y2="231.60" stroke="#3636f5" stroke-width="0.8" />
<line x1="306.16" y1="229.20" x2="310.56" y2="229.20" stroke="#3636f5" stroke-width="0.8" />
<line x1="306.16" y1="231.60" x2="310.56" y2="231.60" stroke="#3636f5" stroke-width="0.8" />
<circle cx="308.36" cy="230.40" r="1.80" fill="none" stroke="#3636f5" stroke-width="0.8" />
<line x1="321.58" y1="213.30" x2="321.58" y2="224.50" stroke="#3636f5" stroke-width="0.8" />
<line x1="319.38" y1="213.30" x2="323.78" y2="213.30" stroke="#3636f5" stroke-width="0.8" />
<line x1="319.38" y1="224.50" x2="323.78" y2="224.50" stroke="#3636f5" stroke-width="0.8" />
<circle cx="321.58" cy="218.90" r="1.80" fill="none" stroke="#3636f5" stroke-width="0.8" />
<path d="M268.70,229.30 L281.92,229.30 L295.14,229.30 L308.36,229.30 L321.58,229.30" fill="none" stroke="#f5823e" stroke-width="0.8" />
<line x1="268.70" y1="228.50" x2="268.70" y2="230.10" stroke="#f5823e" stroke-width="0.8" />
<line x1="266.50" y1="228.50" x2="270.90" y2="228.50" stroke="#f5823e" stroke-width="0.8" />
<line x1="266.50" y1="230.10" x2="270.90" y2="230.10" stroke="#f5823e" stroke-width="0.8" />
<circle cx="268.70" cy="229.30" r="1.80" fill="none" stroke="#f5823e" stroke-width="0.8" />
<line x1="281.92" y1="228.70" x2="281.92" y2="229.90" stroke="#f5823e" stroke-width="0.8" />
<line x1="279.72" y1="228.70" x2="284.12" y2="228.70" stroke="#f5823e" stroke-width="0.8" />
<line x1="279.72" y1="229.90" x2="284.12" y2="229.90" stroke="#f5823e" stroke-width="0.8" />
<circle cx="281.92" cy="229.30" r="1.80" fill="none" stroke="#f5823e" stroke-width="0.8" />
<line x1="295.14" y1="228.70" x2="295.14" y2="229.90" stroke="#f5823e" stroke-width="0.8" />
<line x1="292.94" y1="228.70" x2="297.34" y2="228.70" stroke="#f5823e" stroke-width="0.8" />
<line x1="292.94" y1="229.90" x2="297.34" y2="229.90" stroke="#f5823e" stroke-width="0.8" />
<circle cx="295.14" cy="229.30" r="1.80" fill="none" stroke="#f5823e" stroke-width="0.8" />
<line x1="308.36" y1="228.70" x2="308.36" y2="229.90" stroke="#f5823e" stroke-width="0.8" />
<line x1="306.16" y1="228.70" x2="310.56" y2="228.70" stroke="#f5823e" stroke-width="0.8" />
<line x1="306.16" y1="229.90" x2="310.56" y2="229.90" stroke="#f5823e" stroke-width="0.8" />
<circle cx="308.36" cy="229.30" r="1.80" fill="none" stroke="#f5823e" stroke-width="0.8" />
<line x1="321.58" y1="228.70" x2="321.58" y2="229.90" stroke="#f5823e" stroke-width="0.8" />
<line x1="319.38" y1="228.70" x2="323.78" y2="228.70" stroke="#f5823e" stroke-width="0.8" />
<line x1="319.38" y1="229.90" x2="323.78" y2="229.90" stroke="#f5823e" stroke-width="0.8" />
<circle cx="321.58" cy="229.30" r="1.80" fill="none" stroke="#f5823e" stroke-width="0.8" />
<text x="95.90" y="175.10" font-size="10.2" text-anchor="middle" fill="#111">**</text>
<text x="83.30" y="217.00" font-size="9.4" text-anchor="middle" fill="#111">NS</text>
<text x="108.30" y="217.00" font-size="9.4" text-anchor="middle" fill="#111">NS</text>
<text x="122.60" y="217.00" font-size="9.4" text-anchor="middle" fill="#111">NS</text>
<text x="149.40" y="228.80" font-size="10.2" text-anchor="middle" fill="#111">**</text>
<text x="162.40" y="225.60" font-size="10.2" text-anchor="middle" fill="#111">*</text>
<text x="175.80" y="204.10" font-size="10.2" text-anchor="middle" fill="#111">***</text>
<text x="188.80" y="224.10" font-size="10.2" text-anchor="middle" fill="#111">*</text>
<text x="215.70" y="227.80" font-size="10.2" text-anchor="middle" fill="#111">*</text>
<text x="229.20" y="215.30" font-size="10.2" text-anchor="middle" fill="#111">***</text>
<text x="242.60" y="223.80" font-size="10.2" text-anchor="middle" fill="#111">**</text>
<text x="254.00" y="210.50" font-size="9.4" text-anchor="middle" fill="#111">NS</text>
<text x="281.70" y="229.40" font-size="10.2" text-anchor="middle" fill="#111">**</text>
<text x="295.00" y="229.40" font-size="10.2" text-anchor="middle" fill="#111">*</text>
<text x="307.70" y="221.00" font-size="9.4" text-anchor="middle" fill="#111">NS</text>
<text x="321.80" y="214.30" font-size="10.2" text-anchor="middle" fill="#111">*</text>
<defs>
<filter id="b05" x="-50%" y="-50%" width="200%" height="200%"><feGaussianBlur stdDeviation="0.45"/></filter>
<filter id="b1" x="-50%" y="-50%" width="200%" height="200%"><feGaussianBlur stdDeviation="1"/></filter>
<filter id="b2" x="-50%" y="-50%" width="200%" height="200%"><feGaussianBlur stdDeviation="2.2"/></filter>
<filter id="b4" x="-50%" y="-50%" width="200%" height="200%"><feGaussianBlur stdDeviation="4.5"/></filter>
<filter id="nz" x="0" y="0" width="100%" height="100%"><feTurbulence type="fractalNoise" baseFrequency="0.9" numOctaves="2" seed="4" result="t"/><feColorMatrix type="matrix" values="0 0 0 0 0.5  0 0 0 0 0.5  0 0 0 0 0.5  0.9 0 0 0 -0.33"/></filter>
</defs>
<text x="337.60" y="6.50" font-size="12.3" fill="#000" font-weight="bold" stroke="#000" stroke-width="0.4" stroke-linejoin="round">c</text>
<defs>
<clipPath id="cp02"><rect x="517.0" y="6.9" width="82.0" height="81.8"/></clipPath>
<clipPath id="cp03"><rect x="602.4" y="6.9" width="82.0" height="81.8"/></clipPath>
<clipPath id="cp12"><rect x="517.0" y="92.7" width="82.0" height="81.4"/></clipPath>
<clipPath id="cp13"><rect x="602.4" y="92.7" width="82.0" height="81.4"/></clipPath>
<clipPath id="cp22"><rect x="517.0" y="178.3" width="82.0" height="81.6"/></clipPath>
<clipPath id="cp23"><rect x="602.4" y="178.3" width="82.0" height="81.6"/></clipPath>
<clipPath id="cp12c"><circle cx="560.6" cy="133.0" r="29.4"/></clipPath>
<clipPath id="cp13c"><circle cx="646.0" cy="133.0" r="29.4"/></clipPath>
</defs>
<rect x="346.10" y="6.90" width="82.00" height="81.80" fill="#000" />
<rect x="431.50" y="6.90" width="82.00" height="81.80" fill="#000" />
<circle cx="380.90" cy="38.30" r="1.52" fill="rgb(0,127,0)" filter="url(#b05)"/>
<circle cx="380.90" cy="38.30" r="1.02" fill="rgb(30,255,30)" filter="url(#b05)"/>
<circle cx="466.30" cy="38.30" r="1.42" fill="rgb(137,0,0)" filter="url(#b05)"/>
<circle cx="466.30" cy="38.30" r="0.96" fill="rgb(250,20,20)" filter="url(#b05)"/>
<circle cx="397.20" cy="35.30" r="1.35" fill="rgb(0,118,0)" filter="url(#b05)"/>
<circle cx="397.20" cy="35.30" r="0.85" fill="rgb(27,237,27)" filter="url(#b05)"/>
<circle cx="482.60" cy="35.30" r="1.25" fill="rgb(129,0,0)" filter="url(#b05)"/>
<circle cx="482.60" cy="35.30" r="0.80" fill="rgb(236,18,18)" filter="url(#b05)"/>
<circle cx="362.00" cy="58.50" r="1.52" fill="rgb(0,127,0)" filter="url(#b05)"/>
<circle cx="362.00" cy="58.50" r="1.02" fill="rgb(30,255,30)" filter="url(#b05)"/>
<circle cx="447.40" cy="58.50" r="1.42" fill="rgb(137,0,0)" filter="url(#b05)"/>
<circle cx="447.40" cy="58.50" r="0.96" fill="rgb(250,20,20)" filter="url(#b05)"/>
<circle cx="386.20" cy="55.70" r="1.35" fill="rgb(0,127,0)" filter="url(#b05)"/>
<circle cx="386.20" cy="55.70" r="0.85" fill="rgb(30,255,30)" filter="url(#b05)"/>
<circle cx="471.60" cy="55.70" r="1.25" fill="rgb(137,0,0)" filter="url(#b05)"/>
<circle cx="471.60" cy="55.70" r="0.80" fill="rgb(250,20,20)" filter="url(#b05)"/>
<circle cx="391.90" cy="62.10" r="1.44" fill="rgb(0,127,0)" filter="url(#b05)"/>
<circle cx="391.90" cy="62.10" r="0.94" fill="rgb(30,255,30)" filter="url(#b05)"/>
<circle cx="477.30" cy="62.10" r="1.33" fill="rgb(137,0,0)" filter="url(#b05)"/>
<circle cx="477.30" cy="62.10" r="0.88" fill="rgb(250,20,20)" filter="url(#b05)"/>
<circle cx="401.60" cy="64.40" r="1.44" fill="rgb(0,127,0)" filter="url(#b05)"/>
<circle cx="401.60" cy="64.40" r="0.94" fill="rgb(30,255,30)" filter="url(#b05)"/>
<circle cx="487.00" cy="64.40" r="1.33" fill="rgb(137,0,0)" filter="url(#b05)"/>
<circle cx="487.00" cy="64.40" r="0.88" fill="rgb(250,20,20)" filter="url(#b05)"/>
<circle cx="365.50" cy="66.90" r="1.77" fill="rgb(0,127,0)" filter="url(#b05)"/>
<circle cx="365.50" cy="66.90" r="1.27" fill="rgb(30,255,30)" filter="url(#b05)"/>
<circle cx="450.90" cy="66.90" r="1.67" fill="rgb(137,0,0)" filter="url(#b05)"/>
<circle cx="450.90" cy="66.90" r="1.20" fill="rgb(250,20,20)" filter="url(#b05)"/>
<circle cx="386.20" cy="67.70" r="1.35" fill="rgb(0,127,0)" filter="url(#b05)"/>
<circle cx="386.20" cy="67.70" r="0.85" fill="rgb(30,255,30)" filter="url(#b05)"/>
<circle cx="471.60" cy="67.70" r="1.25" fill="rgb(137,0,0)" filter="url(#b05)"/>
<circle cx="471.60" cy="67.70" r="0.80" fill="rgb(250,20,20)" filter="url(#b05)"/>
<circle cx="383.00" cy="75.90" r="1.52" fill="rgb(0,118,0)" filter="url(#b05)"/>
<circle cx="383.00" cy="75.90" r="1.02" fill="rgb(27,237,27)" filter="url(#b05)"/>
<circle cx="468.40" cy="75.90" r="1.42" fill="rgb(129,0,0)" filter="url(#b05)"/>
<circle cx="468.40" cy="75.90" r="0.96" fill="rgb(236,18,18)" filter="url(#b05)"/>
<circle cx="385.00" cy="75.70" r="1.52" fill="rgb(0,118,0)" filter="url(#b05)"/>
<circle cx="385.00" cy="75.70" r="1.02" fill="rgb(27,237,27)" filter="url(#b05)"/>
<circle cx="470.40" cy="75.70" r="1.42" fill="rgb(129,0,0)" filter="url(#b05)"/>
<circle cx="470.40" cy="75.70" r="0.96" fill="rgb(236,18,18)" filter="url(#b05)"/>
<circle cx="368.00" cy="37.50" r="1.01" fill="rgb(0,66,0)" filter="url(#b05)"/>
<circle cx="368.00" cy="37.50" r="0.51" fill="rgb(9,132,9)" filter="url(#b05)"/>
<circle cx="453.40" cy="37.50" r="0.91" fill="rgb(68,0,0)" filter="url(#b05)"/>
<circle cx="453.40" cy="37.50" r="0.48" fill="rgb(125,6,6)" filter="url(#b05)"/>
<circle cx="413.50" cy="53.00" r="0.93" fill="rgb(0,61,0)" filter="url(#b05)"/>
<circle cx="413.50" cy="53.00" r="0.42" fill="rgb(7,123,7)" filter="url(#b05)"/>
<circle cx="498.90" cy="53.00" r="0.82" fill="rgb(63,0,0)" filter="url(#b05)"/>
<circle cx="498.90" cy="53.00" r="0.40" fill="rgb(116,5,5)" filter="url(#b05)"/>
<rect x="517.00" y="6.90" width="82.00" height="81.80" fill="#7e7e7e" />
<g clip-path="url(#cp02)">
<ellipse cx="557.70" cy="44.50" rx="30.7" ry="31.9" fill="#808080" stroke="#8e8e8e" stroke-width="1.0" filter="url(#b05)"/>
<ellipse cx="557.70" cy="44.50" rx="29.6" ry="30.8" fill="none" stroke="#777777" stroke-width="0.6" filter="url(#b05)"/>
<circle cx="552.20" cy="44.90" r="3.20" fill="#828282" stroke="#949494" stroke-width="0.7" filter="url(#b05)"/>
<circle cx="552.20" cy="44.90" r="4.00" fill="none" stroke="#727272" stroke-width="0.5" filter="url(#b05)"/>
<circle cx="546.50" cy="56.70" r="3.50" fill="#828282" stroke="#949494" stroke-width="0.7" filter="url(#b05)"/>
<circle cx="546.50" cy="56.70" r="4.30" fill="none" stroke="#727272" stroke-width="0.5" filter="url(#b05)"/>
<circle cx="563.90" cy="37.70" r="3.00" fill="#828282" stroke="#949494" stroke-width="0.7" filter="url(#b05)"/>
<circle cx="563.90" cy="37.70" r="3.80" fill="none" stroke="#727272" stroke-width="0.5" filter="url(#b05)"/>
<circle cx="573.80" cy="45.10" r="2.50" fill="#828282" stroke="#949494" stroke-width="0.7" filter="url(#b05)"/>
<circle cx="573.80" cy="45.10" r="3.30" fill="none" stroke="#727272" stroke-width="0.5" filter="url(#b05)"/>
<circle cx="557.70" cy="64.20" r="3.00" fill="#828282" stroke="#949494" stroke-width="0.7" filter="url(#b05)"/>
<circle cx="557.70" cy="64.20" r="3.80" fill="none" stroke="#727272" stroke-width="0.5" filter="url(#b05)"/>
<circle cx="539.50" cy="48.90" r="1.80" fill="#828282" stroke="#949494" stroke-width="0.7" filter="url(#b05)"/>
<circle cx="539.50" cy="48.90" r="2.60" fill="none" stroke="#727272" stroke-width="0.5" filter="url(#b05)"/>
<circle cx="569.00" cy="56.90" r="1.60" fill="#828282" stroke="#949494" stroke-width="0.7" filter="url(#b05)"/>
<circle cx="569.00" cy="56.90" r="2.40" fill="none" stroke="#727272" stroke-width="0.5" filter="url(#b05)"/>
<circle cx="538.14" cy="52.23" r="0.73" fill="#727272" filter="url(#b05)"/>
<circle cx="564.26" cy="38.47" r="0.74" fill="#9e9e9e" filter="url(#b05)"/>
<circle cx="549.72" cy="39.90" r="0.65" fill="#727272" filter="url(#b05)"/>
<circle cx="579.21" cy="59.59" r="0.80" fill="#989898" filter="url(#b05)"/>
<circle cx="543.37" cy="56.90" r="0.83" fill="#9e9e9e" filter="url(#b05)"/>
<circle cx="539.13" cy="29.26" r="0.53" fill="#989898" filter="url(#b05)"/>
<circle cx="562.24" cy="57.44" r="0.89" fill="#989898" filter="url(#b05)"/>
<circle cx="547.94" cy="64.33" r="0.76" fill="#929292" filter="url(#b05)"/>
<circle cx="545.53" cy="32.48" r="0.73" fill="#989898" filter="url(#b05)"/>
<circle cx="552.60" cy="73.58" r="0.85" fill="#989898" filter="url(#b05)"/>
<circle cx="552.92" cy="56.95" r="0.51" fill="#6e6e6e" filter="url(#b05)"/>
<circle cx="550.67" cy="43.70" r="0.92" fill="#989898" filter="url(#b05)"/>
<circle cx="536.32" cy="64.06" r="0.61" fill="#989898" filter="url(#b05)"/>
<circle cx="562.13" cy="44.42" r="0.99" fill="#727272" filter="url(#b05)"/>
<circle cx="552.88" cy="49.94" r="0.89" fill="#929292" filter="url(#b05)"/>
<circle cx="556.87" cy="52.82" r="0.51" fill="#6e6e6e" filter="url(#b05)"/>
<circle cx="534.36" cy="60.56" r="0.62" fill="#929292" filter="url(#b05)"/>
<circle cx="562.01" cy="49.52" r="0.59" fill="#727272" filter="url(#b05)"/>
<circle cx="541.03" cy="40.31" r="0.99" fill="#929292" filter="url(#b05)"/>
<circle cx="559.81" cy="30.27" r="0.56" fill="#727272" filter="url(#b05)"/>
<circle cx="547.63" cy="51.70" r="0.93" fill="#6e6e6e" filter="url(#b05)"/>
<circle cx="578.63" cy="43.33" r="0.61" fill="#989898" filter="url(#b05)"/>
<circle cx="536.92" cy="61.95" r="0.55" fill="#9e9e9e" filter="url(#b05)"/>
<circle cx="569.15" cy="45.77" r="0.50" fill="#6e6e6e" filter="url(#b05)"/>
<circle cx="537.75" cy="30.75" r="0.54" fill="#727272" filter="url(#b05)"/>
<circle cx="575.40" cy="57.19" r="0.51" fill="#929292" filter="url(#b05)"/>
<circle cx="542.90" cy="61.72" r="0.98" fill="#929292" filter="url(#b05)"/>
<circle cx="537.01" cy="48.52" r="0.59" fill="#727272" filter="url(#b05)"/>
<circle cx="573.21" cy="67.93" r="0.62" fill="#9e9e9e" filter="url(#b05)"/>
<circle cx="566.64" cy="67.86" r="0.60" fill="#9e9e9e" filter="url(#b05)"/>
<circle cx="583.29" cy="38.62" r="0.54" fill="#9e9e9e" filter="url(#b05)"/>
<circle cx="565.04" cy="48.64" r="0.98" fill="#9e9e9e" filter="url(#b05)"/>
<circle cx="559.41" cy="68.77" r="0.71" fill="#6e6e6e" filter="url(#b05)"/>
<circle cx="573.34" cy="36.38" r="0.59" fill="#9e9e9e" filter="url(#b05)"/>
<circle cx="556.62" cy="41.07" r="0.74" fill="#929292" filter="url(#b05)"/>
<circle cx="545.35" cy="29.57" r="0.64" fill="#989898" filter="url(#b05)"/>
<circle cx="567.40" cy="41.23" r="0.53" fill="#989898" filter="url(#b05)"/>
<circle cx="547.01" cy="52.82" r="0.59" fill="#989898" filter="url(#b05)"/>
<circle cx="543.61" cy="60.97" r="0.55" fill="#929292" filter="url(#b05)"/>
<circle cx="569.29" cy="59.54" r="0.83" fill="#6e6e6e" filter="url(#b05)"/>
<circle cx="550.12" cy="27.89" r="0.79" fill="#929292" filter="url(#b05)"/>
<circle cx="574.15" cy="38.36" r="0.85" fill="#6e6e6e" filter="url(#b05)"/>
<circle cx="560.50" cy="45.87" r="0.74" fill="#989898" filter="url(#b05)"/>
<circle cx="555.91" cy="32.73" r="0.54" fill="#989898" filter="url(#b05)"/>
<circle cx="534.56" cy="39.95" r="0.90" fill="#929292" filter="url(#b05)"/>
<circle cx="571.04" cy="39.01" r="0.95" fill="#727272" filter="url(#b05)"/>
<circle cx="588.20" cy="16.40" r="0.90" fill="#a0a0a0" stroke="#666" stroke-width="0.4" filter="url(#b05)"/>
<circle cx="590.60" cy="19.50" r="0.90" fill="#a0a0a0" stroke="#666" stroke-width="0.4" filter="url(#b05)"/>
<circle cx="595.50" cy="39.40" r="0.90" fill="#a0a0a0" stroke="#666" stroke-width="0.4" filter="url(#b05)"/>
<circle cx="585.70" cy="74.90" r="0.90" fill="#a0a0a0" stroke="#666" stroke-width="0.4" filter="url(#b05)"/>
<circle cx="575.80" cy="73.90" r="0.90" fill="#a0a0a0" stroke="#666" stroke-width="0.4" filter="url(#b05)"/>
<circle cx="525.00" cy="29.40" r="0.90" fill="#a0a0a0" stroke="#666" stroke-width="0.4" filter="url(#b05)"/>
<circle cx="528.60" cy="53.90" r="0.90" fill="#a0a0a0" stroke="#666" stroke-width="0.4" filter="url(#b05)"/>
<circle cx="583.00" cy="28.90" r="0.90" fill="#a0a0a0" stroke="#666" stroke-width="0.4" filter="url(#b05)"/>
<circle cx="533.00" cy="68.90" r="0.90" fill="#a0a0a0" stroke="#666" stroke-width="0.4" filter="url(#b05)"/>
<circle cx="592.00" cy="61.90" r="0.90" fill="#a0a0a0" stroke="#666" stroke-width="0.4" filter="url(#b05)"/>
<path d="M550.0,63.9 l3.5,9 l2.2,-8z" fill="#686868" stroke="none" stroke-width="0" filter="url(#b1)"/>
</g>
<rect x="602.40" y="6.90" width="82.00" height="81.80" fill="#7e7e7e" />
<g clip-path="url(#cp03)">
<ellipse cx="643.10" cy="44.50" rx="30.7" ry="31.9" fill="#808080" stroke="#8e8e8e" stroke-width="1.0" filter="url(#b05)"/>
<ellipse cx="643.10" cy="44.50" rx="29.6" ry="30.8" fill="none" stroke="#777777" stroke-width="0.6" filter="url(#b05)"/>
<circle cx="637.60" cy="44.90" r="3.20" fill="#828282" stroke="#949494" stroke-width="0.7" filter="url(#b05)"/>
<circle cx="637.60" cy="44.90" r="4.00" fill="none" stroke="#727272" stroke-width="0.5" filter="url(#b05)"/>
<circle cx="631.90" cy="56.70" r="3.50" fill="#828282" stroke="#949494" stroke-width="0.7" filter="url(#b05)"/>
<circle cx="631.90" cy="56.70" r="4.30" fill="none" stroke="#727272" stroke-width="0.5" filter="url(#b05)"/>
<circle cx="649.30" cy="37.70" r="3.00" fill="#828282" stroke="#949494" stroke-width="0.7" filter="url(#b05)"/>
<circle cx="649.30" cy="37.70" r="3.80" fill="none" stroke="#727272" stroke-width="0.5" filter="url(#b05)"/>
<circle cx="659.20" cy="45.10" r="2.50" fill="#828282" stroke="#949494" stroke-width="0.7" filter="url(#b05)"/>
<circle cx="659.20" cy="45.10" r="3.30" fill="none" stroke="#727272" stroke-width="0.5" filter="url(#b05)"/>
<circle cx="643.10" cy="64.20" r="3.00" fill="#828282" stroke="#949494" stroke-width="0.7" filter="url(#b05)"/>
<circle cx="643.10" cy="64.20" r="3.80" fill="none" stroke="#727272" stroke-width="0.5" filter="url(#b05)"/>
<circle cx="624.90" cy="48.90" r="1.80" fill="#828282" stroke="#949494" stroke-width="0.7" filter="url(#b05)"/>
<circle cx="624.90" cy="48.90" r="2.60" fill="none" stroke="#727272" stroke-width="0.5" filter="url(#b05)"/>
<circle cx="654.40" cy="56.90" r="1.60" fill="#828282" stroke="#949494" stroke-width="0.7" filter="url(#b05)"/>
<circle cx="654.40" cy="56.90" r="2.40" fill="none" stroke="#727272" stroke-width="0.5" filter="url(#b05)"/>
<circle cx="623.54" cy="52.23" r="0.73" fill="#727272" filter="url(#b05)"/>
<circle cx="649.66" cy="38.47" r="0.74" fill="#9e9e9e" filter="url(#b05)"/>
<circle cx="635.12" cy="39.90" r="0.65" fill="#727272" filter="url(#b05)"/>
<circle cx="664.61" cy="59.59" r="0.80" fill="#989898" filter="url(#b05)"/>
<circle cx="628.77" cy="56.90" r="0.83" fill="#9e9e9e" filter="url(#b05)"/>
<circle cx="624.53" cy="29.26" r="0.53" fill="#989898" filter="url(#b05)"/>
<circle cx="647.64" cy="57.44" r="0.89" fill="#989898" filter="url(#b05)"/>
<circle cx="633.34" cy="64.33" r="0.76" fill="#929292" filter="url(#b05)"/>
<circle cx="630.93" cy="32.48" r="0.73" fill="#989898" filter="url(#b05)"/>
<circle cx="638.00" cy="73.58" r="0.85" fill="#989898" filter="url(#b05)"/>
<circle cx="638.32" cy="56.95" r="0.51" fill="#6e6e6e" filter="url(#b05)"/>
<circle cx="636.07" cy="43.70" r="0.92" fill="#989898" filter="url(#b05)"/>
<circle cx="621.72" cy="64.06" r="0.61" fill="#989898" filter="url(#b05)"/>
<circle cx="647.53" cy="44.42" r="0.99" fill="#727272" filter="url(#b05)"/>
<circle cx="638.28" cy="49.94" r="0.89" fill="#929292" filter="url(#b05)"/>
<circle cx="642.27" cy="52.82" r="0.51" fill="#6e6e6e" filter="url(#b05)"/>
<circle cx="619.76" cy="60.56" r="0.62" fill="#929292" filter="url(#b05)"/>
<circle cx="647.41" cy="49.52" r="0.59" fill="#727272" filter="url(#b05)"/>
<circle cx="626.43" cy="40.31" r="0.99" fill="#929292" filter="url(#b05)"/>
<circle cx="645.21" cy="30.27" r="0.56" fill="#727272" filter="url(#b05)"/>
<circle cx="633.03" cy="51.70" r="0.93" fill="#6e6e6e" filter="url(#b05)"/>
<circle cx="664.03" cy="43.33" r="0.61" fill="#989898" filter="url(#b05)"/>
<circle cx="622.32" cy="61.95" r="0.55" fill="#9e9e9e" filter="url(#b05)"/>
<circle cx="654.55" cy="45.77" r="0.50" fill="#6e6e6e" filter="url(#b05)"/>
<circle cx="623.15" cy="30.75" r="0.54" fill="#727272" filter="url(#b05)"/>
<circle cx="660.80" cy="57.19" r="0.51" fill="#929292" filter="url(#b05)"/>
<circle cx="628.30" cy="61.72" r="0.98" fill="#929292" filter="url(#b05)"/>
<circle cx="622.41" cy="48.52" r="0.59" fill="#727272" filter="url(#b05)"/>
<circle cx="658.61" cy="67.93" r="0.62" fill="#9e9e9e" filter="url(#b05)"/>
<circle cx="652.04" cy="67.86" r="0.60" fill="#9e9e9e" filter="url(#b05)"/>
<circle cx="668.69" cy="38.62" r="0.54" fill="#9e9e9e" filter="url(#b05)"/>
<circle cx="650.44" cy="48.64" r="0.98" fill="#9e9e9e" filter="url(#b05)"/>
<circle cx="644.81" cy="68.77" r="0.71" fill="#6e6e6e" filter="url(#b05)"/>
<circle cx="658.74" cy="36.38" r="0.59" fill="#9e9e9e" filter="url(#b05)"/>
<circle cx="642.02" cy="41.07" r="0.74" fill="#929292" filter="url(#b05)"/>
<circle cx="630.75" cy="29.57" r="0.64" fill="#989898" filter="url(#b05)"/>
<circle cx="652.80" cy="41.23" r="0.53" fill="#989898" filter="url(#b05)"/>
<circle cx="632.41" cy="52.82" r="0.59" fill="#989898" filter="url(#b05)"/>
<circle cx="629.01" cy="60.97" r="0.55" fill="#929292" filter="url(#b05)"/>
<circle cx="654.69" cy="59.54" r="0.83" fill="#6e6e6e" filter="url(#b05)"/>
<circle cx="635.52" cy="27.89" r="0.79" fill="#929292" filter="url(#b05)"/>
<circle cx="659.55" cy="38.36" r="0.85" fill="#6e6e6e" filter="url(#b05)"/>
<circle cx="645.90" cy="45.87" r="0.74" fill="#989898" filter="url(#b05)"/>
<circle cx="641.31" cy="32.73" r="0.54" fill="#989898" filter="url(#b05)"/>
<circle cx="619.96" cy="39.95" r="0.90" fill="#929292" filter="url(#b05)"/>
<circle cx="656.44" cy="39.01" r="0.95" fill="#727272" filter="url(#b05)"/>
<circle cx="673.60" cy="16.40" r="0.90" fill="#a0a0a0" stroke="#666" stroke-width="0.4" filter="url(#b05)"/>
<circle cx="676.00" cy="19.50" r="0.90" fill="#a0a0a0" stroke="#666" stroke-width="0.4" filter="url(#b05)"/>
<circle cx="680.90" cy="39.40" r="0.90" fill="#a0a0a0" stroke="#666" stroke-width="0.4" filter="url(#b05)"/>
<circle cx="671.10" cy="74.90" r="0.90" fill="#a0a0a0" stroke="#666" stroke-width="0.4" filter="url(#b05)"/>
<circle cx="661.20" cy="73.90" r="0.90" fill="#a0a0a0" stroke="#666" stroke-width="0.4" filter="url(#b05)"/>
<circle cx="610.40" cy="29.40" r="0.90" fill="#a0a0a0" stroke="#666" stroke-width="0.4" filter="url(#b05)"/>
<circle cx="614.00" cy="53.90" r="0.90" fill="#a0a0a0" stroke="#666" stroke-width="0.4" filter="url(#b05)"/>
<circle cx="668.40" cy="28.90" r="0.90" fill="#a0a0a0" stroke="#666" stroke-width="0.4" filter="url(#b05)"/>
<circle cx="618.40" cy="68.90" r="0.90" fill="#a0a0a0" stroke="#666" stroke-width="0.4" filter="url(#b05)"/>
<circle cx="677.40" cy="61.90" r="0.90" fill="#a0a0a0" stroke="#666" stroke-width="0.4" filter="url(#b05)"/>
<path d="M635.4,63.9 l3.5,9 l2.2,-8z" fill="#686868" stroke="none" stroke-width="0" filter="url(#b1)"/>
</g>
<circle cx="637.20" cy="38.30" r="1.46" fill="#e2b040" filter="url(#b05)" opacity="0.75"/>
<circle cx="637.20" cy="38.30" r="0.96" fill="#fbe92e" filter="url(#b05)" opacity="1.00"/>
<circle cx="653.50" cy="35.30" r="1.30" fill="#e2b040" filter="url(#b05)" opacity="0.68"/>
<circle cx="653.50" cy="35.30" r="0.80" fill="#fbe92e" filter="url(#b05)" opacity="0.90"/>
<circle cx="618.30" cy="58.50" r="1.46" fill="#e2b040" filter="url(#b05)" opacity="0.75"/>
<circle cx="618.30" cy="58.50" r="0.96" fill="#fbe92e" filter="url(#b05)" opacity="1.00"/>
<circle cx="642.50" cy="55.70" r="1.30" fill="#e2b040" filter="url(#b05)" opacity="0.75"/>
<circle cx="642.50" cy="55.70" r="0.80" fill="#fbe92e" filter="url(#b05)" opacity="1.00"/>
<circle cx="648.20" cy="62.10" r="1.38" fill="#e2b040" filter="url(#b05)" opacity="0.75"/>
<circle cx="648.20" cy="62.10" r="0.88" fill="#fbe92e" filter="url(#b05)" opacity="1.00"/>
<circle cx="657.90" cy="64.40" r="1.38" fill="#e2b040" filter="url(#b05)" opacity="0.75"/>
<circle cx="657.90" cy="64.40" r="0.88" fill="#fbe92e" filter="url(#b05)" opacity="1.00"/>
<circle cx="621.80" cy="66.90" r="1.70" fill="#e2b040" filter="url(#b05)" opacity="0.75"/>
<circle cx="621.80" cy="66.90" r="1.20" fill="#fbe92e" filter="url(#b05)" opacity="1.00"/>
<circle cx="642.50" cy="67.70" r="1.30" fill="#e2b040" filter="url(#b05)" opacity="0.75"/>
<circle cx="642.50" cy="67.70" r="0.80" fill="#fbe92e" filter="url(#b05)" opacity="1.00"/>
<circle cx="639.30" cy="75.90" r="1.46" fill="#e2b040" filter="url(#b05)" opacity="0.68"/>
<circle cx="639.30" cy="75.90" r="0.96" fill="#fbe92e" filter="url(#b05)" opacity="0.90"/>
<circle cx="641.30" cy="75.70" r="1.46" fill="#e2b040" filter="url(#b05)" opacity="0.68"/>
<circle cx="641.30" cy="75.70" r="0.96" fill="#fbe92e" filter="url(#b05)" opacity="0.90"/>
<circle cx="624.30" cy="37.50" r="0.98" fill="#e2b040" filter="url(#b05)" opacity="0.22"/>
<circle cx="624.30" cy="37.50" r="0.48" fill="#fbe92e" filter="url(#b05)" opacity="0.30"/>
<text x="347.30" y="85.80" font-size="9.0" fill="#fff">GFP–OSD1</text>
<text x="432.70" y="85.80" font-size="9.2" fill="#fff">mCherry–AIM1</text>
<text x="521.20" y="85.80" font-size="9.4" fill="#fff">Bright</text>
<text x="604.60" y="85.80" font-size="9.4" fill="#fff">Merge</text>
<text x="682.00" y="17.20" font-size="9.0" text-anchor="end" fill="#fff">57/58</text>
<rect x="678.00" y="70.10" width="2.50" height="10.60" fill="#fff" />
<rect x="346.10" y="92.70" width="82.00" height="81.40" fill="#000" />
<rect x="431.50" y="92.70" width="82.00" height="81.40" fill="#000" />
<circle cx="409.00" cy="115.10" r="1.77" fill="rgb(0,127,0)" filter="url(#b05)"/>
<circle cx="409.00" cy="115.10" r="1.27" fill="rgb(30,255,30)" filter="url(#b05)"/>
<circle cx="494.40" cy="115.10" r="1.67" fill="rgb(137,0,0)" filter="url(#b05)"/>
<circle cx="494.40" cy="115.10" r="1.20" fill="rgb(250,20,20)" filter="url(#b05)"/>
<circle cx="412.00" cy="132.00" r="1.69" fill="rgb(0,127,0)" filter="url(#b05)"/>
<circle cx="412.00" cy="132.00" r="1.19" fill="rgb(30,255,30)" filter="url(#b05)"/>
<circle cx="497.40" cy="132.00" r="1.59" fill="rgb(137,0,0)" filter="url(#b05)"/>
<circle cx="497.40" cy="132.00" r="1.12" fill="rgb(250,20,20)" filter="url(#b05)"/>
<circle cx="410.30" cy="138.40" r="1.69" fill="rgb(0,127,0)" filter="url(#b05)"/>
<circle cx="410.30" cy="138.40" r="1.19" fill="rgb(30,255,30)" filter="url(#b05)"/>
<circle cx="495.70" cy="138.40" r="1.59" fill="rgb(137,0,0)" filter="url(#b05)"/>
<circle cx="495.70" cy="138.40" r="1.12" fill="rgb(250,20,20)" filter="url(#b05)"/>
<circle cx="409.00" cy="141.70" r="1.27" fill="rgb(0,110,0)" filter="url(#b05)"/>
<circle cx="409.00" cy="141.70" r="0.77" fill="rgb(24,220,24)" filter="url(#b05)"/>
<circle cx="494.40" cy="141.70" r="1.17" fill="rgb(119,0,0)" filter="url(#b05)"/>
<circle cx="494.40" cy="141.70" r="0.72" fill="rgb(218,16,16)" filter="url(#b05)"/>
<circle cx="398.30" cy="144.30" r="1.69" fill="rgb(0,127,0)" filter="url(#b05)"/>
<circle cx="398.30" cy="144.30" r="1.19" fill="rgb(30,255,30)" filter="url(#b05)"/>
<circle cx="483.70" cy="144.30" r="1.59" fill="rgb(137,0,0)" filter="url(#b05)"/>
<circle cx="483.70" cy="144.30" r="1.12" fill="rgb(250,20,20)" filter="url(#b05)"/>
<circle cx="386.80" cy="137.40" r="1.86" fill="rgb(0,88,0)" filter="url(#b05)"/>
<circle cx="386.80" cy="137.40" r="1.36" fill="rgb(16,176,16)" filter="url(#b05)"/>
<circle cx="472.20" cy="137.40" r="1.76" fill="rgb(94,0,0)" filter="url(#b05)"/>
<circle cx="472.20" cy="137.40" r="1.28" fill="rgb(171,11,11)" filter="url(#b05)"/>
<circle cx="384.20" cy="150.70" r="1.27" fill="rgb(0,118,0)" filter="url(#b05)"/>
<circle cx="384.20" cy="150.70" r="0.77" fill="rgb(27,237,27)" filter="url(#b05)"/>
<circle cx="469.60" cy="150.70" r="1.17" fill="rgb(129,0,0)" filter="url(#b05)"/>
<circle cx="469.60" cy="150.70" r="0.72" fill="rgb(236,18,18)" filter="url(#b05)"/>
<circle cx="385.50" cy="153.20" r="1.44" fill="rgb(0,127,0)" filter="url(#b05)"/>
<circle cx="385.50" cy="153.20" r="0.94" fill="rgb(30,255,30)" filter="url(#b05)"/>
<circle cx="470.90" cy="153.20" r="1.33" fill="rgb(137,0,0)" filter="url(#b05)"/>
<circle cx="470.90" cy="153.20" r="0.88" fill="rgb(250,20,20)" filter="url(#b05)"/>
<circle cx="377.30" cy="157.30" r="1.77" fill="rgb(0,127,0)" filter="url(#b05)"/>
<circle cx="377.30" cy="157.30" r="1.27" fill="rgb(30,255,30)" filter="url(#b05)"/>
<circle cx="462.70" cy="157.30" r="1.67" fill="rgb(137,0,0)" filter="url(#b05)"/>
<circle cx="462.70" cy="157.30" r="1.20" fill="rgb(250,20,20)" filter="url(#b05)"/>
<circle cx="378.30" cy="159.90" r="1.60" fill="rgb(0,127,0)" filter="url(#b05)"/>
<circle cx="378.30" cy="159.90" r="1.10" fill="rgb(30,255,30)" filter="url(#b05)"/>
<circle cx="463.70" cy="159.90" r="1.50" fill="rgb(137,0,0)" filter="url(#b05)"/>
<circle cx="463.70" cy="159.90" r="1.04" fill="rgb(250,20,20)" filter="url(#b05)"/>
<circle cx="393.90" cy="157.60" r="1.86" fill="rgb(0,127,0)" filter="url(#b05)"/>
<circle cx="393.90" cy="157.60" r="1.36" fill="rgb(30,255,30)" filter="url(#b05)"/>
<circle cx="479.30" cy="157.60" r="1.76" fill="rgb(137,0,0)" filter="url(#b05)"/>
<circle cx="479.30" cy="157.60" r="1.28" fill="rgb(250,20,20)" filter="url(#b05)"/>
<circle cx="372.50" cy="146.30" r="0.93" fill="rgb(0,66,0)" filter="url(#b05)"/>
<circle cx="372.50" cy="146.30" r="0.42" fill="rgb(9,132,9)" filter="url(#b05)"/>
<circle cx="457.90" cy="146.30" r="0.82" fill="rgb(68,0,0)" filter="url(#b05)"/>
<circle cx="457.90" cy="146.30" r="0.40" fill="rgb(125,6,6)" filter="url(#b05)"/>
<circle cx="385.50" cy="161.00" r="0.93" fill="rgb(0,75,0)" filter="url(#b05)"/>
<circle cx="385.50" cy="161.00" r="0.42" fill="rgb(12,150,12)" filter="url(#b05)"/>
<circle cx="470.90" cy="161.00" r="0.82" fill="rgb(79,0,0)" filter="url(#b05)"/>
<circle cx="470.90" cy="161.00" r="0.40" fill="rgb(144,8,8)" filter="url(#b05)"/>
<rect x="517.00" y="92.70" width="82.00" height="81.40" fill="#787878" />
<g clip-path="url(#cp12)">
<circle cx="560.60" cy="133.00" r="37.50" fill="none" stroke="#7f7f7f" stroke-width="4" filter="url(#b2)"/>
<circle cx="558.60" cy="139.00" r="33.00" fill="none" stroke="#717171" stroke-width="3" filter="url(#b2)"/>
<circle cx="560.60" cy="133.00" r="29.40" fill="#7d7d7d" stroke="#686868" stroke-width="0.8" filter="url(#b05)"/>
<circle cx="554.60" cy="126.00" r="17.00" fill="#818181" filter="url(#b4)"/>
<g clip-path="url(#cp12c)">
<path d="M587.6,119.0 Q572.6,141.0 538.6,151.0 L546.6,167.0 L594.6,153.0Z" fill="#727272" stroke="none" stroke-width="0" filter="url(#b2)"/>
</g>
<circle cx="567.01" cy="155.35" r="0.70" fill="#969696" filter="url(#b05)"/>
<circle cx="551.41" cy="155.45" r="0.36" fill="#8a8a8a" filter="url(#b05)"/>
<circle cx="574.89" cy="148.05" r="0.38" fill="#5e5e5e" filter="url(#b05)"/>
<circle cx="587.33" cy="129.46" r="0.47" fill="#969696" filter="url(#b05)"/>
<circle cx="573.08" cy="154.76" r="0.72" fill="#626262" filter="url(#b05)"/>
<circle cx="583.37" cy="149.80" r="0.73" fill="#969696" filter="url(#b05)"/>
<circle cx="583.02" cy="130.22" r="0.66" fill="#686868" filter="url(#b05)"/>
<circle cx="581.54" cy="152.43" r="0.35" fill="#969696" filter="url(#b05)"/>
<circle cx="556.90" cy="153.20" r="0.79" fill="#686868" filter="url(#b05)"/>
<circle cx="580.36" cy="138.53" r="0.79" fill="#8a8a8a" filter="url(#b05)"/>
<circle cx="568.16" cy="160.27" r="0.45" fill="#5e5e5e" filter="url(#b05)"/>
<circle cx="541.97" cy="152.36" r="0.53" fill="#626262" filter="url(#b05)"/>
<circle cx="588.95" cy="130.04" r="0.52" fill="#626262" filter="url(#b05)"/>
<circle cx="552.87" cy="156.73" r="0.69" fill="#8a8a8a" filter="url(#b05)"/>
<circle cx="585.65" cy="144.22" r="0.50" fill="#969696" filter="url(#b05)"/>
<circle cx="562.14" cy="161.24" r="0.70" fill="#909090" filter="url(#b05)"/>
<circle cx="579.03" cy="124.40" r="0.82" fill="#626262" filter="url(#b05)"/>
<circle cx="584.25" cy="145.36" r="0.74" fill="#8a8a8a" filter="url(#b05)"/>
<circle cx="582.48" cy="145.17" r="0.58" fill="#626262" filter="url(#b05)"/>
<circle cx="561.09" cy="157.56" r="0.41" fill="#686868" filter="url(#b05)"/>
<circle cx="582.70" cy="136.13" r="0.52" fill="#909090" filter="url(#b05)"/>
<circle cx="583.37" cy="144.65" r="0.58" fill="#969696" filter="url(#b05)"/>
<circle cx="569.06" cy="154.16" r="0.78" fill="#6c6c6c" filter="url(#b05)"/>
<circle cx="578.80" cy="123.08" r="0.45" fill="#626262" filter="url(#b05)"/>
<circle cx="576.20" cy="155.08" r="0.52" fill="#686868" filter="url(#b05)"/>
<circle cx="545.42" cy="153.34" r="0.69" fill="#6c6c6c" filter="url(#b05)"/>
<circle cx="582.00" cy="140.19" r="0.42" fill="#5e5e5e" filter="url(#b05)"/>
<circle cx="562.14" cy="152.99" r="0.71" fill="#686868" filter="url(#b05)"/>
<circle cx="583.79" cy="124.18" r="0.37" fill="#909090" filter="url(#b05)"/>
<circle cx="558.42" cy="160.10" r="0.58" fill="#6c6c6c" filter="url(#b05)"/>
<circle cx="583.11" cy="151.10" r="0.37" fill="#5e5e5e" filter="url(#b05)"/>
<circle cx="574.39" cy="150.26" r="0.84" fill="#686868" filter="url(#b05)"/>
<circle cx="573.25" cy="158.61" r="0.56" fill="#969696" filter="url(#b05)"/>
<circle cx="587.43" cy="130.44" r="0.77" fill="#626262" filter="url(#b05)"/>
<circle cx="585.76" cy="140.50" r="0.78" fill="#8a8a8a" filter="url(#b05)"/>
<circle cx="541.78" cy="151.30" r="0.69" fill="#909090" filter="url(#b05)"/>
<circle cx="586.54" cy="142.75" r="0.55" fill="#909090" filter="url(#b05)"/>
<circle cx="587.16" cy="128.62" r="0.83" fill="#8a8a8a" filter="url(#b05)"/>
<circle cx="567.41" cy="157.91" r="0.44" fill="#6c6c6c" filter="url(#b05)"/>
<circle cx="576.73" cy="152.97" r="0.78" fill="#8a8a8a" filter="url(#b05)"/>
<circle cx="580.62" cy="143.75" r="0.53" fill="#969696" filter="url(#b05)"/>
<circle cx="571.53" cy="159.80" r="0.53" fill="#6c6c6c" filter="url(#b05)"/>
<circle cx="561.43" cy="160.65" r="0.48" fill="#909090" filter="url(#b05)"/>
<circle cx="543.47" cy="149.16" r="0.67" fill="#6c6c6c" filter="url(#b05)"/>
<circle cx="572.11" cy="159.61" r="0.74" fill="#8a8a8a" filter="url(#b05)"/>
<circle cx="586.29" cy="143.40" r="0.76" fill="#6c6c6c" filter="url(#b05)"/>
<circle cx="565.18" cy="155.12" r="0.49" fill="#6c6c6c" filter="url(#b05)"/>
<circle cx="579.40" cy="141.96" r="0.53" fill="#909090" filter="url(#b05)"/>
<circle cx="552.30" cy="153.05" r="0.57" fill="#5e5e5e" filter="url(#b05)"/>
<circle cx="584.50" cy="146.11" r="0.61" fill="#686868" filter="url(#b05)"/>
<circle cx="582.59" cy="130.72" r="0.59" fill="#969696" filter="url(#b05)"/>
<circle cx="562.24" cy="156.45" r="0.56" fill="#5e5e5e" filter="url(#b05)"/>
<circle cx="566.72" cy="152.93" r="0.68" fill="#8a8a8a" filter="url(#b05)"/>
<circle cx="579.79" cy="148.34" r="0.78" fill="#969696" filter="url(#b05)"/>
<circle cx="580.19" cy="137.30" r="0.43" fill="#686868" filter="url(#b05)"/>
<circle cx="578.59" cy="149.31" r="0.73" fill="#686868" filter="url(#b05)"/>
<circle cx="584.08" cy="131.60" r="0.84" fill="#909090" filter="url(#b05)"/>
<circle cx="581.90" cy="130.76" r="0.51" fill="#626262" filter="url(#b05)"/>
<circle cx="588.79" cy="131.41" r="0.56" fill="#626262" filter="url(#b05)"/>
<circle cx="582.22" cy="143.75" r="0.65" fill="#626262" filter="url(#b05)"/>
<circle cx="581.73" cy="135.45" r="0.53" fill="#626262" filter="url(#b05)"/>
<circle cx="546.07" cy="149.35" r="0.41" fill="#969696" filter="url(#b05)"/>
<circle cx="551.17" cy="158.24" r="0.62" fill="#626262" filter="url(#b05)"/>
<circle cx="586.85" cy="141.40" r="0.52" fill="#8a8a8a" filter="url(#b05)"/>
<circle cx="568.75" cy="151.87" r="0.41" fill="#969696" filter="url(#b05)"/>
<circle cx="580.82" cy="148.02" r="0.53" fill="#8a8a8a" filter="url(#b05)"/>
<circle cx="585.07" cy="128.63" r="0.59" fill="#8a8a8a" filter="url(#b05)"/>
<circle cx="589.16" cy="132.93" r="0.53" fill="#626262" filter="url(#b05)"/>
<circle cx="545.51" cy="157.76" r="0.51" fill="#626262" filter="url(#b05)"/>
<circle cx="545.87" cy="153.74" r="0.66" fill="#6c6c6c" filter="url(#b05)"/>
<circle cx="546.74" cy="156.09" r="0.84" fill="#909090" filter="url(#b05)"/>
<circle cx="576.85" cy="153.31" r="0.54" fill="#5e5e5e" filter="url(#b05)"/>
<circle cx="546.13" cy="148.41" r="0.65" fill="#8a8a8a" filter="url(#b05)"/>
<circle cx="558.36" cy="160.42" r="0.56" fill="#6c6c6c" filter="url(#b05)"/>
<circle cx="579.49" cy="140.19" r="0.81" fill="#909090" filter="url(#b05)"/>
<circle cx="589.13" cy="128.01" r="0.66" fill="#5e5e5e" filter="url(#b05)"/>
<circle cx="580.89" cy="151.67" r="0.42" fill="#969696" filter="url(#b05)"/>
<circle cx="582.24" cy="147.42" r="0.49" fill="#8a8a8a" filter="url(#b05)"/>
<circle cx="546.37" cy="150.78" r="0.60" fill="#686868" filter="url(#b05)"/>
<circle cx="551.54" cy="154.67" r="0.50" fill="#6c6c6c" filter="url(#b05)"/>
<circle cx="568.91" cy="157.70" r="0.78" fill="#5e5e5e" filter="url(#b05)"/>
<circle cx="550.20" cy="151.68" r="0.73" fill="#626262" filter="url(#b05)"/>
<circle cx="584.90" cy="140.72" r="0.66" fill="#6c6c6c" filter="url(#b05)"/>
<circle cx="559.10" cy="161.92" r="0.53" fill="#6c6c6c" filter="url(#b05)"/>
<circle cx="558.27" cy="157.80" r="0.35" fill="#626262" filter="url(#b05)"/>
<circle cx="571.88" cy="154.06" r="0.79" fill="#626262" filter="url(#b05)"/>
<circle cx="574.88" cy="158.22" r="0.75" fill="#969696" filter="url(#b05)"/>
<circle cx="569.11" cy="155.28" r="0.67" fill="#5e5e5e" filter="url(#b05)"/>
<circle cx="551.18" cy="152.95" r="0.55" fill="#909090" filter="url(#b05)"/>
<circle cx="549.09" cy="158.76" r="0.58" fill="#6c6c6c" filter="url(#b05)"/>
<circle cx="556.92" cy="160.25" r="0.70" fill="#626262" filter="url(#b05)"/>
<circle cx="581.53" cy="151.03" r="0.59" fill="#969696" filter="url(#b05)"/>
<circle cx="587.38" cy="142.44" r="0.62" fill="#5e5e5e" filter="url(#b05)"/>
<circle cx="577.36" cy="154.53" r="0.56" fill="#686868" filter="url(#b05)"/>
<circle cx="575.16" cy="157.97" r="0.47" fill="#5e5e5e" filter="url(#b05)"/>
<circle cx="553.44" cy="154.50" r="0.82" fill="#5e5e5e" filter="url(#b05)"/>
<circle cx="584.91" cy="143.46" r="0.85" fill="#626262" filter="url(#b05)"/>
<circle cx="561.75" cy="161.88" r="0.41" fill="#969696" filter="url(#b05)"/>
<circle cx="567.28" cy="154.24" r="0.71" fill="#626262" filter="url(#b05)"/>
<circle cx="587.63" cy="127.53" r="0.42" fill="#909090" filter="url(#b05)"/>
<circle cx="568.88" cy="158.28" r="0.38" fill="#686868" filter="url(#b05)"/>
<circle cx="585.85" cy="134.01" r="0.54" fill="#5e5e5e" filter="url(#b05)"/>
<circle cx="587.30" cy="122.00" r="0.41" fill="#8a8a8a" filter="url(#b05)"/>
<circle cx="580.79" cy="147.00" r="0.57" fill="#626262" filter="url(#b05)"/>
<circle cx="583.91" cy="141.51" r="0.53" fill="#909090" filter="url(#b05)"/>
<circle cx="564.33" cy="153.79" r="0.70" fill="#686868" filter="url(#b05)"/>
<circle cx="584.81" cy="129.36" r="0.50" fill="#8a8a8a" filter="url(#b05)"/>
<circle cx="544.37" cy="152.45" r="0.48" fill="#686868" filter="url(#b05)"/>
<circle cx="573.87" cy="157.48" r="0.49" fill="#969696" filter="url(#b05)"/>
<circle cx="544.54" cy="148.70" r="0.54" fill="#969696" filter="url(#b05)"/>
<circle cx="558.66" cy="161.25" r="0.36" fill="#5e5e5e" filter="url(#b05)"/>
<circle cx="583.38" cy="143.52" r="0.40" fill="#626262" filter="url(#b05)"/>
<circle cx="584.83" cy="127.33" r="0.54" fill="#686868" filter="url(#b05)"/>
<circle cx="574.84" cy="147.73" r="0.75" fill="#626262" filter="url(#b05)"/>
<circle cx="580.93" cy="121.33" r="0.77" fill="#626262" filter="url(#b05)"/>
<circle cx="543.48" cy="153.18" r="0.46" fill="#969696" filter="url(#b05)"/>
<circle cx="580.30" cy="127.84" r="0.60" fill="#5e5e5e" filter="url(#b05)"/>
<circle cx="584.30" cy="133.83" r="0.53" fill="#909090" filter="url(#b05)"/>
<circle cx="587.71" cy="135.91" r="0.70" fill="#8a8a8a" filter="url(#b05)"/>
<circle cx="553.95" cy="159.07" r="0.77" fill="#5e5e5e" filter="url(#b05)"/>
<path d="M548.6,108.0 q4,8 8,12" fill="none" stroke="#8c8c8c" stroke-width="0.5" filter="url(#b05)"/>
<path d="M556.6,113.0 q8,-4 14,-1" fill="none" stroke="#8a8a8a" stroke-width="0.5" filter="url(#b05)"/>
</g>
<rect x="602.40" y="92.70" width="82.00" height="81.40" fill="#787878" />
<g clip-path="url(#cp13)">
<circle cx="646.00" cy="133.00" r="37.50" fill="none" stroke="#7f7f7f" stroke-width="4" filter="url(#b2)"/>
<circle cx="644.00" cy="139.00" r="33.00" fill="none" stroke="#717171" stroke-width="3" filter="url(#b2)"/>
<circle cx="646.00" cy="133.00" r="29.40" fill="#7d7d7d" stroke="#686868" stroke-width="0.8" filter="url(#b05)"/>
<circle cx="640.00" cy="126.00" r="17.00" fill="#818181" filter="url(#b4)"/>
<g clip-path="url(#cp13c)">
<path d="M673.0,119.0 Q658.0,141.0 624.0,151.0 L632.0,167.0 L680.0,153.0Z" fill="#727272" stroke="none" stroke-width="0" filter="url(#b2)"/>
</g>
<circle cx="652.41" cy="155.35" r="0.70" fill="#969696" filter="url(#b05)"/>
<circle cx="636.81" cy="155.45" r="0.36" fill="#8a8a8a" filter="url(#b05)"/>
<circle cx="660.29" cy="148.05" r="0.38" fill="#5e5e5e" filter="url(#b05)"/>
<circle cx="672.73" cy="129.46" r="0.47" fill="#969696" filter="url(#b05)"/>
<circle cx="658.48" cy="154.76" r="0.72" fill="#626262" filter="url(#b05)"/>
<circle cx="668.77" cy="149.80" r="0.73" fill="#969696" filter="url(#b05)"/>
<circle cx="668.42" cy="130.22" r="0.66" fill="#686868" filter="url(#b05)"/>
<circle cx="666.94" cy="152.43" r="0.35" fill="#969696" filter="url(#b05)"/>
<circle cx="642.30" cy="153.20" r="0.79" fill="#686868" filter="url(#b05)"/>
<circle cx="665.76" cy="138.53" r="0.79" fill="#8a8a8a" filter="url(#b05)"/>
<circle cx="653.56" cy="160.27" r="0.45" fill="#5e5e5e" filter="url(#b05)"/>
<circle cx="627.37" cy="152.36" r="0.53" fill="#626262" filter="url(#b05)"/>
<circle cx="674.35" cy="130.04" r="0.52" fill="#626262" filter="url(#b05)"/>
<circle cx="638.27" cy="156.73" r="0.69" fill="#8a8a8a" filter="url(#b05)"/>
<circle cx="671.05" cy="144.22" r="0.50" fill="#969696" filter="url(#b05)"/>
<circle cx="647.54" cy="161.24" r="0.70" fill="#909090" filter="url(#b05)"/>
<circle cx="664.43" cy="124.40" r="0.82" fill="#626262" filter="url(#b05)"/>
<circle cx="669.65" cy="145.36" r="0.74" fill="#8a8a8a" filter="url(#b05)"/>
<circle cx="667.88" cy="145.17" r="0.58" fill="#626262" filter="url(#b05)"/>
<circle cx="646.49" cy="157.56" r="0.41" fill="#686868" filter="url(#b05)"/>
<circle cx="668.10" cy="136.13" r="0.52" fill="#909090" filter="url(#b05)"/>
<circle cx="668.77" cy="144.65" r="0.58" fill="#969696" filter="url(#b05)"/>
<circle cx="654.46" cy="154.16" r="0.78" fill="#6c6c6c" filter="url(#b05)"/>
<circle cx="664.20" cy="123.08" r="0.45" fill="#626262" filter="url(#b05)"/>
<circle cx="661.60" cy="155.08" r="0.52" fill="#686868" filter="url(#b05)"/>
<circle cx="630.82" cy="153.34" r="0.69" fill="#6c6c6c" filter="url(#b05)"/>
<circle cx="667.40" cy="140.19" r="0.42" fill="#5e5e5e" filter="url(#b05)"/>
<circle cx="647.54" cy="152.99" r="0.71" fill="#686868" filter="url(#b05)"/>
<circle cx="669.19" cy="124.18" r="0.37" fill="#909090" filter="url(#b05)"/>
<circle cx="643.82" cy="160.10" r="0.58" fill="#6c6c6c" filter="url(#b05)"/>
<circle cx="668.51" cy="151.10" r="0.37" fill="#5e5e5e" filter="url(#b05)"/>
<circle cx="659.79" cy="150.26" r="0.84" fill="#686868" filter="url(#b05)"/>
<circle cx="658.65" cy="158.61" r="0.56" fill="#969696" filter="url(#b05)"/>
<circle cx="672.83" cy="130.44" r="0.77" fill="#626262" filter="url(#b05)"/>
<circle cx="671.16" cy="140.50" r="0.78" fill="#8a8a8a" filter="url(#b05)"/>
<circle cx="627.18" cy="151.30" r="0.69" fill="#909090" filter="url(#b05)"/>
<circle cx="671.94" cy="142.75" r="0.55" fill="#909090" filter="url(#b05)"/>
<circle cx="672.56" cy="128.62" r="0.83" fill="#8a8a8a" filter="url(#b05)"/>
<circle cx="652.81" cy="157.91" r="0.44" fill="#6c6c6c" filter="url(#b05)"/>
<circle cx="662.13" cy="152.97" r="0.78" fill="#8a8a8a" filter="url(#b05)"/>
<circle cx="666.02" cy="143.75" r="0.53" fill="#969696" filter="url(#b05)"/>
<circle cx="656.93" cy="159.80" r="0.53" fill="#6c6c6c" filter="url(#b05)"/>
<circle cx="646.83" cy="160.65" r="0.48" fill="#909090" filter="url(#b05)"/>
<circle cx="628.87" cy="149.16" r="0.67" fill="#6c6c6c" filter="url(#b05)"/>
<circle cx="657.51" cy="159.61" r="0.74" fill="#8a8a8a" filter="url(#b05)"/>
<circle cx="671.69" cy="143.40" r="0.76" fill="#6c6c6c" filter="url(#b05)"/>
<circle cx="650.58" cy="155.12" r="0.49" fill="#6c6c6c" filter="url(#b05)"/>
<circle cx="664.80" cy="141.96" r="0.53" fill="#909090" filter="url(#b05)"/>
<circle cx="637.70" cy="153.05" r="0.57" fill="#5e5e5e" filter="url(#b05)"/>
<circle cx="669.90" cy="146.11" r="0.61" fill="#686868" filter="url(#b05)"/>
<circle cx="667.99" cy="130.72" r="0.59" fill="#969696" filter="url(#b05)"/>
<circle cx="647.64" cy="156.45" r="0.56" fill="#5e5e5e" filter="url(#b05)"/>
<circle cx="652.12" cy="152.93" r="0.68" fill="#8a8a8a" filter="url(#b05)"/>
<circle cx="665.19" cy="148.34" r="0.78" fill="#969696" filter="url(#b05)"/>
<circle cx="665.59" cy="137.30" r="0.43" fill="#686868" filter="url(#b05)"/>
<circle cx="663.99" cy="149.31" r="0.73" fill="#686868" filter="url(#b05)"/>
<circle cx="669.48" cy="131.60" r="0.84" fill="#909090" filter="url(#b05)"/>
<circle cx="667.30" cy="130.76" r="0.51" fill="#626262" filter="url(#b05)"/>
<circle cx="674.19" cy="131.41" r="0.56" fill="#626262" filter="url(#b05)"/>
<circle cx="667.62" cy="143.75" r="0.65" fill="#626262" filter="url(#b05)"/>
<circle cx="667.13" cy="135.45" r="0.53" fill="#626262" filter="url(#b05)"/>
<circle cx="631.47" cy="149.35" r="0.41" fill="#969696" filter="url(#b05)"/>
<circle cx="636.57" cy="158.24" r="0.62" fill="#626262" filter="url(#b05)"/>
<circle cx="672.25" cy="141.40" r="0.52" fill="#8a8a8a" filter="url(#b05)"/>
<circle cx="654.15" cy="151.87" r="0.41" fill="#969696" filter="url(#b05)"/>
<circle cx="666.22" cy="148.02" r="0.53" fill="#8a8a8a" filter="url(#b05)"/>
<circle cx="670.47" cy="128.63" r="0.59" fill="#8a8a8a" filter="url(#b05)"/>
<circle cx="674.56" cy="132.93" r="0.53" fill="#626262" filter="url(#b05)"/>
<circle cx="630.91" cy="157.76" r="0.51" fill="#626262" filter="url(#b05)"/>
<circle cx="631.27" cy="153.74" r="0.66" fill="#6c6c6c" filter="url(#b05)"/>
<circle cx="632.14" cy="156.09" r="0.84" fill="#909090" filter="url(#b05)"/>
<circle cx="662.25" cy="153.31" r="0.54" fill="#5e5e5e" filter="url(#b05)"/>
<circle cx="631.53" cy="148.41" r="0.65" fill="#8a8a8a" filter="url(#b05)"/>
<circle cx="643.76" cy="160.42" r="0.56" fill="#6c6c6c" filter="url(#b05)"/>
<circle cx="664.89" cy="140.19" r="0.81" fill="#909090" filter="url(#b05)"/>
<circle cx="674.53" cy="128.01" r="0.66" fill="#5e5e5e" filter="url(#b05)"/>
<circle cx="666.29" cy="151.67" r="0.42" fill="#969696" filter="url(#b05)"/>
<circle cx="667.64" cy="147.42" r="0.49" fill="#8a8a8a" filter="url(#b05)"/>
<circle cx="631.77" cy="150.78" r="0.60" fill="#686868" filter="url(#b05)"/>
<circle cx="636.94" cy="154.67" r="0.50" fill="#6c6c6c" filter="url(#b05)"/>
<circle cx="654.31" cy="157.70" r="0.78" fill="#5e5e5e" filter="url(#b05)"/>
<circle cx="635.60" cy="151.68" r="0.73" fill="#626262" filter="url(#b05)"/>
<circle cx="670.30" cy="140.72" r="0.66" fill="#6c6c6c" filter="url(#b05)"/>
<circle cx="644.50" cy="161.92" r="0.53" fill="#6c6c6c" filter="url(#b05)"/>
<circle cx="643.67" cy="157.80" r="0.35" fill="#626262" filter="url(#b05)"/>
<circle cx="657.28" cy="154.06" r="0.79" fill="#626262" filter="url(#b05)"/>
<circle cx="660.28" cy="158.22" r="0.75" fill="#969696" filter="url(#b05)"/>
<circle cx="654.51" cy="155.28" r="0.67" fill="#5e5e5e" filter="url(#b05)"/>
<circle cx="636.58" cy="152.95" r="0.55" fill="#909090" filter="url(#b05)"/>
<circle cx="634.49" cy="158.76" r="0.58" fill="#6c6c6c" filter="url(#b05)"/>
<circle cx="642.32" cy="160.25" r="0.70" fill="#626262" filter="url(#b05)"/>
<circle cx="666.93" cy="151.03" r="0.59" fill="#969696" filter="url(#b05)"/>
<circle cx="672.78" cy="142.44" r="0.62" fill="#5e5e5e" filter="url(#b05)"/>
<circle cx="662.76" cy="154.53" r="0.56" fill="#686868" filter="url(#b05)"/>
<circle cx="660.56" cy="157.97" r="0.47" fill="#5e5e5e" filter="url(#b05)"/>
<circle cx="638.84" cy="154.50" r="0.82" fill="#5e5e5e" filter="url(#b05)"/>
<circle cx="670.31" cy="143.46" r="0.85" fill="#626262" filter="url(#b05)"/>
<circle cx="647.15" cy="161.88" r="0.41" fill="#969696" filter="url(#b05)"/>
<circle cx="652.68" cy="154.24" r="0.71" fill="#626262" filter="url(#b05)"/>
<circle cx="673.03" cy="127.53" r="0.42" fill="#909090" filter="url(#b05)"/>
<circle cx="654.28" cy="158.28" r="0.38" fill="#686868" filter="url(#b05)"/>
<circle cx="671.25" cy="134.01" r="0.54" fill="#5e5e5e" filter="url(#b05)"/>
<circle cx="672.70" cy="122.00" r="0.41" fill="#8a8a8a" filter="url(#b05)"/>
<circle cx="666.19" cy="147.00" r="0.57" fill="#626262" filter="url(#b05)"/>
<circle cx="669.31" cy="141.51" r="0.53" fill="#909090" filter="url(#b05)"/>
<circle cx="649.73" cy="153.79" r="0.70" fill="#686868" filter="url(#b05)"/>
<circle cx="670.21" cy="129.36" r="0.50" fill="#8a8a8a" filter="url(#b05)"/>
<circle cx="629.77" cy="152.45" r="0.48" fill="#686868" filter="url(#b05)"/>
<circle cx="659.27" cy="157.48" r="0.49" fill="#969696" filter="url(#b05)"/>
<circle cx="629.94" cy="148.70" r="0.54" fill="#969696" filter="url(#b05)"/>
<circle cx="644.06" cy="161.25" r="0.36" fill="#5e5e5e" filter="url(#b05)"/>
<circle cx="668.78" cy="143.52" r="0.40" fill="#626262" filter="url(#b05)"/>
<circle cx="670.23" cy="127.33" r="0.54" fill="#686868" filter="url(#b05)"/>
<circle cx="660.24" cy="147.73" r="0.75" fill="#626262" filter="url(#b05)"/>
<circle cx="666.33" cy="121.33" r="0.77" fill="#626262" filter="url(#b05)"/>
<circle cx="628.88" cy="153.18" r="0.46" fill="#969696" filter="url(#b05)"/>
<circle cx="665.70" cy="127.84" r="0.60" fill="#5e5e5e" filter="url(#b05)"/>
<circle cx="669.70" cy="133.83" r="0.53" fill="#909090" filter="url(#b05)"/>
<circle cx="673.11" cy="135.91" r="0.70" fill="#8a8a8a" filter="url(#b05)"/>
<circle cx="639.35" cy="159.07" r="0.77" fill="#5e5e5e" filter="url(#b05)"/>
<path d="M634.0,108.0 q4,8 8,12" fill="none" stroke="#8c8c8c" stroke-width="0.5" filter="url(#b05)"/>
<path d="M642.0,113.0 q8,-4 14,-1" fill="none" stroke="#8a8a8a" stroke-width="0.5" filter="url(#b05)"/>
</g>
<circle cx="665.30" cy="115.10" r="1.70" fill="#a8c83a" filter="url(#b05)" opacity="0.75"/>
<circle cx="665.30" cy="115.10" r="1.20" fill="#d8f030" filter="url(#b05)" opacity="1.00"/>
<circle cx="668.30" cy="132.00" r="1.62" fill="#a8c83a" filter="url(#b05)" opacity="0.75"/>
<circle cx="668.30" cy="132.00" r="1.12" fill="#d8f030" filter="url(#b05)" opacity="1.00"/>
<circle cx="666.60" cy="138.40" r="1.62" fill="#a8c83a" filter="url(#b05)" opacity="0.75"/>
<circle cx="666.60" cy="138.40" r="1.12" fill="#d8f030" filter="url(#b05)" opacity="1.00"/>
<circle cx="665.30" cy="141.70" r="1.22" fill="#a8c83a" filter="url(#b05)" opacity="0.60"/>
<circle cx="665.30" cy="141.70" r="0.72" fill="#d8f030" filter="url(#b05)" opacity="0.80"/>
<circle cx="654.60" cy="144.30" r="1.62" fill="#a8c83a" filter="url(#b05)" opacity="0.75"/>
<circle cx="654.60" cy="144.30" r="1.12" fill="#d8f030" filter="url(#b05)" opacity="1.00"/>
<circle cx="643.10" cy="137.40" r="1.78" fill="#d08040" filter="url(#b05)" opacity="0.41"/>
<circle cx="643.10" cy="137.40" r="1.28" fill="#f0a030" filter="url(#b05)" opacity="0.55"/>
<circle cx="640.50" cy="150.70" r="1.22" fill="#a8c83a" filter="url(#b05)" opacity="0.68"/>
<circle cx="640.50" cy="150.70" r="0.72" fill="#d8f030" filter="url(#b05)" opacity="0.90"/>
<circle cx="641.80" cy="153.20" r="1.38" fill="#a8c83a" filter="url(#b05)" opacity="0.75"/>
<circle cx="641.80" cy="153.20" r="0.88" fill="#d8f030" filter="url(#b05)" opacity="1.00"/>
<circle cx="633.60" cy="157.30" r="1.70" fill="#a8c83a" filter="url(#b05)" opacity="0.75"/>
<circle cx="633.60" cy="157.30" r="1.20" fill="#d8f030" filter="url(#b05)" opacity="1.00"/>
<circle cx="634.60" cy="159.90" r="1.54" fill="#a8c83a" filter="url(#b05)" opacity="0.75"/>
<circle cx="634.60" cy="159.90" r="1.04" fill="#d8f030" filter="url(#b05)" opacity="1.00"/>
<circle cx="650.20" cy="157.60" r="1.78" fill="#a8c83a" filter="url(#b05)" opacity="0.75"/>
<circle cx="650.20" cy="157.60" r="1.28" fill="#d8f030" filter="url(#b05)" opacity="1.00"/>
<circle cx="628.80" cy="146.30" r="0.90" fill="#d08040" filter="url(#b05)" opacity="0.22"/>
<circle cx="628.80" cy="146.30" r="0.40" fill="#f0a030" filter="url(#b05)" opacity="0.30"/>
<circle cx="641.80" cy="161.00" r="0.90" fill="#d08040" filter="url(#b05)" opacity="0.30"/>
<circle cx="641.80" cy="161.00" r="0.40" fill="#f0a030" filter="url(#b05)" opacity="0.40"/>
<text x="347.30" y="171.20" font-size="9.0" fill="#fff">GFP–OsKAT1</text>
<text x="432.70" y="171.20" font-size="9.2" fill="#fff">mCherry–AIM1</text>
<text x="521.20" y="171.20" font-size="9.4" fill="#fff">Bright</text>
<text x="604.60" y="171.20" font-size="9.4" fill="#fff">Merge</text>
<text x="682.00" y="103.00" font-size="9.0" text-anchor="end" fill="#fff">43/43</text>
<rect x="678.00" y="155.90" width="2.50" height="10.60" fill="#fff" />
<rect x="346.10" y="178.30" width="82.00" height="81.60" fill="#000" />
<rect x="431.50" y="178.30" width="82.00" height="81.60" fill="#000" />
<circle cx="389.80" cy="201.20" r="1.52" fill="rgb(0,127,0)" filter="url(#b05)"/>
<circle cx="389.80" cy="201.20" r="1.02" fill="rgb(30,255,30)" filter="url(#b05)"/>
<circle cx="475.20" cy="201.20" r="1.42" fill="rgb(137,0,0)" filter="url(#b05)"/>
<circle cx="475.20" cy="201.20" r="0.96" fill="rgb(250,20,20)" filter="url(#b05)"/>
<circle cx="388.00" cy="203.80" r="1.52" fill="rgb(0,127,0)" filter="url(#b05)"/>
<circle cx="388.00" cy="203.80" r="1.02" fill="rgb(30,255,30)" filter="url(#b05)"/>
<circle cx="473.40" cy="203.80" r="1.42" fill="rgb(137,0,0)" filter="url(#b05)"/>
<circle cx="473.40" cy="203.80" r="0.96" fill="rgb(250,20,20)" filter="url(#b05)"/>
<circle cx="386.80" cy="205.10" r="1.27" fill="rgb(0,118,0)" filter="url(#b05)"/>
<circle cx="386.80" cy="205.10" r="0.77" fill="rgb(27,237,27)" filter="url(#b05)"/>
<circle cx="472.20" cy="205.10" r="1.17" fill="rgb(129,0,0)" filter="url(#b05)"/>
<circle cx="472.20" cy="205.10" r="0.72" fill="rgb(236,18,18)" filter="url(#b05)"/>
<circle cx="402.90" cy="215.80" r="1.35" fill="rgb(0,127,0)" filter="url(#b05)"/>
<circle cx="402.90" cy="215.80" r="0.85" fill="rgb(30,255,30)" filter="url(#b05)"/>
<circle cx="488.30" cy="215.80" r="1.25" fill="rgb(137,0,0)" filter="url(#b05)"/>
<circle cx="488.30" cy="215.80" r="0.80" fill="rgb(250,20,20)" filter="url(#b05)"/>
<circle cx="403.40" cy="225.00" r="1.52" fill="rgb(0,127,0)" filter="url(#b05)"/>
<circle cx="403.40" cy="225.00" r="1.02" fill="rgb(30,255,30)" filter="url(#b05)"/>
<circle cx="488.80" cy="225.00" r="1.42" fill="rgb(137,0,0)" filter="url(#b05)"/>
<circle cx="488.80" cy="225.00" r="0.96" fill="rgb(250,20,20)" filter="url(#b05)"/>
<circle cx="402.30" cy="227.10" r="1.35" fill="rgb(0,127,0)" filter="url(#b05)"/>
<circle cx="402.30" cy="227.10" r="0.85" fill="rgb(30,255,30)" filter="url(#b05)"/>
<circle cx="487.70" cy="227.10" r="1.25" fill="rgb(137,0,0)" filter="url(#b05)"/>
<circle cx="487.70" cy="227.10" r="0.80" fill="rgb(250,20,20)" filter="url(#b05)"/>
<circle cx="405.70" cy="232.40" r="1.27" fill="rgb(0,127,0)" filter="url(#b05)"/>
<circle cx="405.70" cy="232.40" r="0.77" fill="rgb(30,255,30)" filter="url(#b05)"/>
<circle cx="491.10" cy="232.40" r="1.17" fill="rgb(137,0,0)" filter="url(#b05)"/>
<circle cx="491.10" cy="232.40" r="0.72" fill="rgb(250,20,20)" filter="url(#b05)"/>
<circle cx="386.80" cy="228.60" r="1.44" fill="rgb(0,127,0)" filter="url(#b05)"/>
<circle cx="386.80" cy="228.60" r="0.94" fill="rgb(30,255,30)" filter="url(#b05)"/>
<circle cx="472.20" cy="228.60" r="1.33" fill="rgb(137,0,0)" filter="url(#b05)"/>
<circle cx="472.20" cy="228.60" r="0.88" fill="rgb(250,20,20)" filter="url(#b05)"/>
<circle cx="387.80" cy="231.10" r="1.35" fill="rgb(0,127,0)" filter="url(#b05)"/>
<circle cx="387.80" cy="231.10" r="0.85" fill="rgb(30,255,30)" filter="url(#b05)"/>
<circle cx="473.20" cy="231.10" r="1.25" fill="rgb(137,0,0)" filter="url(#b05)"/>
<circle cx="473.20" cy="231.10" r="0.80" fill="rgb(250,20,20)" filter="url(#b05)"/>
<circle cx="380.10" cy="234.00" r="1.35" fill="rgb(0,118,0)" filter="url(#b05)"/>
<circle cx="380.10" cy="234.00" r="0.85" fill="rgb(27,237,27)" filter="url(#b05)"/>
<circle cx="465.50" cy="234.00" r="1.25" fill="rgb(129,0,0)" filter="url(#b05)"/>
<circle cx="465.50" cy="234.00" r="0.80" fill="rgb(236,18,18)" filter="url(#b05)"/>
<circle cx="374.50" cy="222.20" r="1.18" fill="rgb(0,110,0)" filter="url(#b05)"/>
<circle cx="374.50" cy="222.20" r="0.68" fill="rgb(24,220,24)" filter="url(#b05)"/>
<circle cx="459.90" cy="222.20" r="1.08" fill="rgb(119,0,0)" filter="url(#b05)"/>
<circle cx="459.90" cy="222.20" r="0.64" fill="rgb(218,16,16)" filter="url(#b05)"/>
<circle cx="380.10" cy="217.10" r="1.09" fill="rgb(0,110,0)" filter="url(#b05)"/>
<circle cx="380.10" cy="217.10" r="0.59" fill="rgb(24,220,24)" filter="url(#b05)"/>
<circle cx="465.50" cy="217.10" r="0.99" fill="rgb(119,0,0)" filter="url(#b05)"/>
<circle cx="465.50" cy="217.10" r="0.56" fill="rgb(218,16,16)" filter="url(#b05)"/>
<circle cx="395.70" cy="243.40" r="1.18" fill="rgb(0,118,0)" filter="url(#b05)"/>
<circle cx="395.70" cy="243.40" r="0.68" fill="rgb(27,237,27)" filter="url(#b05)"/>
<circle cx="481.10" cy="243.40" r="1.08" fill="rgb(129,0,0)" filter="url(#b05)"/>
<circle cx="481.10" cy="243.40" r="0.64" fill="rgb(236,18,18)" filter="url(#b05)"/>
<circle cx="384.50" cy="210.00" r="1.01" fill="rgb(0,83,0)" filter="url(#b05)"/>
<circle cx="384.50" cy="210.00" r="0.51" fill="rgb(15,167,15)" filter="url(#b05)"/>
<circle cx="469.90" cy="210.00" r="0.91" fill="rgb(89,0,0)" filter="url(#b05)"/>
<circle cx="469.90" cy="210.00" r="0.48" fill="rgb(162,10,10)" filter="url(#b05)"/>
<circle cx="369.50" cy="223.50" r="0.93" fill="rgb(0,75,0)" filter="url(#b05)"/>
<circle cx="369.50" cy="223.50" r="0.42" fill="rgb(12,150,12)" filter="url(#b05)"/>
<circle cx="454.90" cy="223.50" r="0.82" fill="rgb(79,0,0)" filter="url(#b05)"/>
<circle cx="454.90" cy="223.50" r="0.40" fill="rgb(144,8,8)" filter="url(#b05)"/>
<circle cx="372.00" cy="212.00" r="0.93" fill="rgb(0,66,0)" filter="url(#b05)"/>
<circle cx="372.00" cy="212.00" r="0.42" fill="rgb(9,132,9)" filter="url(#b05)"/>
<circle cx="457.40" cy="212.00" r="0.82" fill="rgb(68,0,0)" filter="url(#b05)"/>
<circle cx="457.40" cy="212.00" r="0.40" fill="rgb(125,6,6)" filter="url(#b05)"/>
<circle cx="396.00" cy="201.50" r="0.93" fill="rgb(0,66,0)" filter="url(#b05)"/>
<circle cx="396.00" cy="201.50" r="0.42" fill="rgb(9,132,9)" filter="url(#b05)"/>
<circle cx="481.40" cy="201.50" r="0.82" fill="rgb(68,0,0)" filter="url(#b05)"/>
<circle cx="481.40" cy="201.50" r="0.40" fill="rgb(125,6,6)" filter="url(#b05)"/>
<rect x="517.00" y="178.30" width="82.00" height="81.60" fill="#7b7b7b" />
<g clip-path="url(#cp22)">
<circle cx="587.00" cy="250.30" r="16.00" fill="#6b6b6b" filter="url(#b4)"/>
<circle cx="527.00" cy="208.30" r="14.00" fill="#6f6f6f" filter="url(#b4)"/>
<circle cx="585.00" cy="190.30" r="14.00" fill="#858585" filter="url(#b4)"/>
<circle cx="557.00" cy="256.30" r="10.00" fill="#727272" filter="url(#b4)"/>
<circle cx="525.00" cy="186.30" r="9.00" fill="#848484" filter="url(#b4)"/>
<circle cx="570.00" cy="187.30" r="7.00" fill="#6e6e6e" filter="url(#b4)"/>
<circle cx="519.00" cy="209.30" r="6.00" fill="#6a6a6a" filter="url(#b4)"/>
<circle cx="562.00" cy="221.90" r="27.60" fill="#8b8b8b" stroke="#727272" stroke-width="1.2" filter="url(#b1)"/>
<circle cx="563.00" cy="222.90" r="22.00" fill="#8f8f8f" filter="url(#b2)"/>
<circle cx="546.50" cy="200.80" r="3.20" fill="#4e4e4e" filter="url(#b1)"/>
<circle cx="550.50" cy="204.30" r="2.80" fill="#525252" filter="url(#b1)"/>
<circle cx="552.50" cy="208.80" r="2.00" fill="#5a5a5a" filter="url(#b1)"/>
<circle cx="543.00" cy="199.30" r="2.00" fill="#5a5a5a" filter="url(#b1)"/>
<circle cx="537.50" cy="209.30" r="2.60" fill="#626262" filter="url(#b1)"/>
<circle cx="535.50" cy="215.80" r="2.00" fill="#666" filter="url(#b1)"/>
<circle cx="541.00" cy="222.30" r="1.80" fill="#686868" filter="url(#b1)"/>
<circle cx="545.00" cy="222.80" r="1.40" fill="#6a6a6a" filter="url(#b1)"/>
<circle cx="589.50" cy="223.80" r="2.40" fill="#626262" filter="url(#b1)"/>
<circle cx="588.00" cy="229.30" r="1.80" fill="#686868" filter="url(#b1)"/>
<circle cx="540.60" cy="186.70" r="6.60" fill="#747474" stroke="#585858" stroke-width="1.2" filter="url(#b05)"/>
<circle cx="531.20" cy="240.90" r="7.20" fill="#6e6e6e" stroke="#5c5c5c" stroke-width="1.2" filter="url(#b05)"/>
<circle cx="538.71" cy="187.15" r="0.68" fill="#5c5c5c" filter="url(#b05)"/>
<circle cx="539.33" cy="188.75" r="0.96" fill="#8a8a8a" filter="url(#b05)"/>
<circle cx="537.58" cy="185.63" r="0.62" fill="#606060" filter="url(#b05)"/>
<circle cx="542.99" cy="191.00" r="1.17" fill="#606060" filter="url(#b05)"/>
<circle cx="541.28" cy="187.73" r="0.67" fill="#5c5c5c" filter="url(#b05)"/>
<circle cx="540.90" cy="184.73" r="1.05" fill="#5c5c5c" filter="url(#b05)"/>
<circle cx="541.53" cy="186.18" r="0.73" fill="#606060" filter="url(#b05)"/>
<circle cx="543.69" cy="184.13" r="1.15" fill="#606060" filter="url(#b05)"/>
<circle cx="539.78" cy="190.83" r="0.72" fill="#5c5c5c" filter="url(#b05)"/>
<circle cx="540.81" cy="186.50" r="0.83" fill="#606060" filter="url(#b05)"/>
<circle cx="541.39" cy="187.64" r="1.04" fill="#5c5c5c" filter="url(#b05)"/>
<circle cx="540.62" cy="186.70" r="1.06" fill="#666" filter="url(#b05)"/>
<circle cx="541.44" cy="186.05" r="0.60" fill="#5c5c5c" filter="url(#b05)"/>
<circle cx="543.80" cy="190.24" r="0.90" fill="#606060" filter="url(#b05)"/>
<circle cx="530.08" cy="240.63" r="0.64" fill="#666" filter="url(#b05)"/>
<circle cx="530.85" cy="240.49" r="0.95" fill="#666" filter="url(#b05)"/>
<circle cx="535.08" cy="239.36" r="0.62" fill="#8a8a8a" filter="url(#b05)"/>
<circle cx="527.89" cy="239.71" r="0.69" fill="#8a8a8a" filter="url(#b05)"/>
<circle cx="530.93" cy="237.57" r="0.62" fill="#606060" filter="url(#b05)"/>
<circle cx="532.51" cy="240.48" r="0.97" fill="#5c5c5c" filter="url(#b05)"/>
<circle cx="530.77" cy="236.01" r="0.91" fill="#5c5c5c" filter="url(#b05)"/>
<circle cx="531.63" cy="240.43" r="1.13" fill="#8a8a8a" filter="url(#b05)"/>
<circle cx="528.98" cy="241.60" r="1.19" fill="#5c5c5c" filter="url(#b05)"/>
<circle cx="528.65" cy="243.33" r="0.60" fill="#5c5c5c" filter="url(#b05)"/>
<circle cx="531.79" cy="243.41" r="0.79" fill="#5c5c5c" filter="url(#b05)"/>
<circle cx="530.62" cy="242.45" r="0.91" fill="#5c5c5c" filter="url(#b05)"/>
<circle cx="535.67" cy="241.62" r="1.08" fill="#606060" filter="url(#b05)"/>
<circle cx="528.64" cy="244.61" r="0.94" fill="#5c5c5c" filter="url(#b05)"/>
<path d="M554.0,201.9 q-6,14 -2,26 q4,10 12,14" fill="none" stroke="#a2a2a2" stroke-width="0.45" stroke-dasharray="1.2 1.4"/>
<path d="M566.0,199.9 q10,10 8,24 q-2,10 -10,18" fill="none" stroke="#a2a2a2" stroke-width="0.45" stroke-dasharray="1.2 1.4"/>
<path d="M542.0,223.9 q14,-8 30,-2" fill="none" stroke="#a0a0a0" stroke-width="0.45" stroke-dasharray="1.2 1.4"/>
<circle cx="556.86" cy="224.52" r="0.79" fill="#747474" filter="url(#b05)"/>
<circle cx="538.15" cy="220.42" r="0.62" fill="#a6a6a6" filter="url(#b05)"/>
<circle cx="559.88" cy="218.19" r="0.74" fill="#747474" filter="url(#b05)"/>
<circle cx="585.09" cy="226.21" r="0.72" fill="#747474" filter="url(#b05)"/>
<circle cx="585.28" cy="213.77" r="0.64" fill="#a6a6a6" filter="url(#b05)"/>
<circle cx="572.74" cy="225.30" r="0.71" fill="#747474" filter="url(#b05)"/>
<circle cx="543.53" cy="206.32" r="0.54" fill="#a6a6a6" filter="url(#b05)"/>
<circle cx="555.11" cy="222.73" r="0.78" fill="#b0b0b0" filter="url(#b05)"/>
<circle cx="545.66" cy="215.91" r="0.43" fill="#747474" filter="url(#b05)"/>
<circle cx="570.78" cy="232.86" r="0.72" fill="#b0b0b0" filter="url(#b05)"/>
<circle cx="565.21" cy="219.15" r="0.69" fill="#b0b0b0" filter="url(#b05)"/>
<circle cx="571.02" cy="213.45" r="0.44" fill="#a6a6a6" filter="url(#b05)"/>
<circle cx="561.46" cy="225.06" r="0.72" fill="#a6a6a6" filter="url(#b05)"/>
<circle cx="572.34" cy="238.71" r="0.74" fill="#a6a6a6" filter="url(#b05)"/>
<circle cx="567.13" cy="232.10" r="0.62" fill="#747474" filter="url(#b05)"/>
<circle cx="573.88" cy="228.75" r="0.64" fill="#747474" filter="url(#b05)"/>
<circle cx="539.05" cy="216.70" r="0.41" fill="#b0b0b0" filter="url(#b05)"/>
<circle cx="572.43" cy="213.16" r="0.61" fill="#b0b0b0" filter="url(#b05)"/>
</g>
<rect x="602.40" y="178.30" width="82.00" height="81.60" fill="#7b7b7b" />
<g clip-path="url(#cp23)">
<circle cx="672.40" cy="250.30" r="16.00" fill="#6b6b6b" filter="url(#b4)"/>
<circle cx="612.40" cy="208.30" r="14.00" fill="#6f6f6f" filter="url(#b4)"/>
<circle cx="670.40" cy="190.30" r="14.00" fill="#858585" filter="url(#b4)"/>
<circle cx="642.40" cy="256.30" r="10.00" fill="#727272" filter="url(#b4)"/>
<circle cx="610.40" cy="186.30" r="9.00" fill="#848484" filter="url(#b4)"/>
<circle cx="655.40" cy="187.30" r="7.00" fill="#6e6e6e" filter="url(#b4)"/>
<circle cx="604.40" cy="209.30" r="6.00" fill="#6a6a6a" filter="url(#b4)"/>
<circle cx="647.40" cy="221.90" r="27.60" fill="#8b8b8b" stroke="#727272" stroke-width="1.2" filter="url(#b1)"/>
<circle cx="648.40" cy="222.90" r="22.00" fill="#8f8f8f" filter="url(#b2)"/>
<circle cx="631.90" cy="200.80" r="3.20" fill="#4e4e4e" filter="url(#b1)"/>
<circle cx="635.90" cy="204.30" r="2.80" fill="#525252" filter="url(#b1)"/>
<circle cx="637.90" cy="208.80" r="2.00" fill="#5a5a5a" filter="url(#b1)"/>
<circle cx="628.40" cy="199.30" r="2.00" fill="#5a5a5a" filter="url(#b1)"/>
<circle cx="622.90" cy="209.30" r="2.60" fill="#626262" filter="url(#b1)"/>
<circle cx="620.90" cy="215.80" r="2.00" fill="#666" filter="url(#b1)"/>
<circle cx="626.40" cy="222.30" r="1.80" fill="#686868" filter="url(#b1)"/>
<circle cx="630.40" cy="222.80" r="1.40" fill="#6a6a6a" filter="url(#b1)"/>
<circle cx="674.90" cy="223.80" r="2.40" fill="#626262" filter="url(#b1)"/>
<circle cx="673.40" cy="229.30" r="1.80" fill="#686868" filter="url(#b1)"/>
<circle cx="626.00" cy="186.70" r="6.60" fill="#747474" stroke="#585858" stroke-width="1.2" filter="url(#b05)"/>
<circle cx="616.60" cy="240.90" r="7.20" fill="#6e6e6e" stroke="#5c5c5c" stroke-width="1.2" filter="url(#b05)"/>
<circle cx="624.11" cy="187.15" r="0.68" fill="#5c5c5c" filter="url(#b05)"/>
<circle cx="624.73" cy="188.75" r="0.96" fill="#8a8a8a" filter="url(#b05)"/>
<circle cx="622.98" cy="185.63" r="0.62" fill="#606060" filter="url(#b05)"/>
<circle cx="628.39" cy="191.00" r="1.17" fill="#606060" filter="url(#b05)"/>
<circle cx="626.68" cy="187.73" r="0.67" fill="#5c5c5c" filter="url(#b05)"/>
<circle cx="626.30" cy="184.73" r="1.05" fill="#5c5c5c" filter="url(#b05)"/>
<circle cx="626.93" cy="186.18" r="0.73" fill="#606060" filter="url(#b05)"/>
<circle cx="629.09" cy="184.13" r="1.15" fill="#606060" filter="url(#b05)"/>
<circle cx="625.18" cy="190.83" r="0.72" fill="#5c5c5c" filter="url(#b05)"/>
<circle cx="626.21" cy="186.50" r="0.83" fill="#606060" filter="url(#b05)"/>
<circle cx="626.79" cy="187.64" r="1.04" fill="#5c5c5c" filter="url(#b05)"/>
<circle cx="626.02" cy="186.70" r="1.06" fill="#666" filter="url(#b05)"/>
<circle cx="626.84" cy="186.05" r="0.60" fill="#5c5c5c" filter="url(#b05)"/>
<circle cx="629.20" cy="190.24" r="0.90" fill="#606060" filter="url(#b05)"/>
<circle cx="615.48" cy="240.63" r="0.64" fill="#666" filter="url(#b05)"/>
<circle cx="616.25" cy="240.49" r="0.95" fill="#666" filter="url(#b05)"/>
<circle cx="620.48" cy="239.36" r="0.62" fill="#8a8a8a" filter="url(#b05)"/>
<circle cx="613.29" cy="239.71" r="0.69" fill="#8a8a8a" filter="url(#b05)"/>
<circle cx="616.33" cy="237.57" r="0.62" fill="#606060" filter="url(#b05)"/>
<circle cx="617.91" cy="240.48" r="0.97" fill="#5c5c5c" filter="url(#b05)"/>
<circle cx="616.17" cy="236.01" r="0.91" fill="#5c5c5c" filter="url(#b05)"/>
<circle cx="617.03" cy="240.43" r="1.13" fill="#8a8a8a" filter="url(#b05)"/>
<circle cx="614.38" cy="241.60" r="1.19" fill="#5c5c5c" filter="url(#b05)"/>
<circle cx="614.05" cy="243.33" r="0.60" fill="#5c5c5c" filter="url(#b05)"/>
<circle cx="617.19" cy="243.41" r="0.79" fill="#5c5c5c" filter="url(#b05)"/>
<circle cx="616.02" cy="242.45" r="0.91" fill="#5c5c5c" filter="url(#b05)"/>
<circle cx="621.07" cy="241.62" r="1.08" fill="#606060" filter="url(#b05)"/>
<circle cx="614.04" cy="244.61" r="0.94" fill="#5c5c5c" filter="url(#b05)"/>
<path d="M639.4,201.9 q-6,14 -2,26 q4,10 12,14" fill="none" stroke="#a2a2a2" stroke-width="0.45" stroke-dasharray="1.2 1.4"/>
<path d="M651.4,199.9 q10,10 8,24 q-2,10 -10,18" fill="none" stroke="#a2a2a2" stroke-width="0.45" stroke-dasharray="1.2 1.4"/>
<path d="M627.4,223.9 q14,-8 30,-2" fill="none" stroke="#a0a0a0" stroke-width="0.45" stroke-dasharray="1.2 1.4"/>
<circle cx="642.26" cy="224.52" r="0.79" fill="#747474" filter="url(#b05)"/>
<circle cx="623.55" cy="220.42" r="0.62" fill="#a6a6a6" filter="url(#b05)"/>
<circle cx="645.28" cy="218.19" r="0.74" fill="#747474" filter="url(#b05)"/>
<circle cx="670.49" cy="226.21" r="0.72" fill="#747474" filter="url(#b05)"/>
<circle cx="670.68" cy="213.77" r="0.64" fill="#a6a6a6" filter="url(#b05)"/>
<circle cx="658.14" cy="225.30" r="0.71" fill="#747474" filter="url(#b05)"/>
<circle cx="628.93" cy="206.32" r="0.54" fill="#a6a6a6" filter="url(#b05)"/>
<circle cx="640.51" cy="222.73" r="0.78" fill="#b0b0b0" filter="url(#b05)"/>
<circle cx="631.06" cy="215.91" r="0.43" fill="#747474" filter="url(#b05)"/>
<circle cx="656.18" cy="232.86" r="0.72" fill="#b0b0b0" filter="url(#b05)"/>
<circle cx="650.61" cy="219.15" r="0.69" fill="#b0b0b0" filter="url(#b05)"/>
<circle cx="656.42" cy="213.45" r="0.44" fill="#a6a6a6" filter="url(#b05)"/>
<circle cx="646.86" cy="225.06" r="0.72" fill="#a6a6a6" filter="url(#b05)"/>
<circle cx="657.74" cy="238.71" r="0.74" fill="#a6a6a6" filter="url(#b05)"/>
<circle cx="652.53" cy="232.10" r="0.62" fill="#747474" filter="url(#b05)"/>
<circle cx="659.28" cy="228.75" r="0.64" fill="#747474" filter="url(#b05)"/>
<circle cx="624.45" cy="216.70" r="0.41" fill="#b0b0b0" filter="url(#b05)"/>
<circle cx="657.83" cy="213.16" r="0.61" fill="#b0b0b0" filter="url(#b05)"/>
</g>
<circle cx="646.10" cy="201.20" r="1.46" fill="#9cc040" filter="url(#b05)" opacity="0.75"/>
<circle cx="646.10" cy="201.20" r="0.96" fill="#c4ee38" filter="url(#b05)" opacity="1.00"/>
<circle cx="644.30" cy="203.80" r="1.46" fill="#9cc040" filter="url(#b05)" opacity="0.75"/>
<circle cx="644.30" cy="203.80" r="0.96" fill="#c4ee38" filter="url(#b05)" opacity="1.00"/>
<circle cx="643.10" cy="205.10" r="1.22" fill="#9cc040" filter="url(#b05)" opacity="0.68"/>
<circle cx="643.10" cy="205.10" r="0.72" fill="#c4ee38" filter="url(#b05)" opacity="0.90"/>
<circle cx="659.20" cy="215.80" r="1.30" fill="#9cc040" filter="url(#b05)" opacity="0.75"/>
<circle cx="659.20" cy="215.80" r="0.80" fill="#c4ee38" filter="url(#b05)" opacity="1.00"/>
<circle cx="659.70" cy="225.00" r="1.46" fill="#9cc040" filter="url(#b05)" opacity="0.75"/>
<circle cx="659.70" cy="225.00" r="0.96" fill="#c4ee38" filter="url(#b05)" opacity="1.00"/>
<circle cx="658.60" cy="227.10" r="1.30" fill="#9cc040" filter="url(#b05)" opacity="0.75"/>
<circle cx="658.60" cy="227.10" r="0.80" fill="#c4ee38" filter="url(#b05)" opacity="1.00"/>
<circle cx="662.00" cy="232.40" r="1.22" fill="#9cc040" filter="url(#b05)" opacity="0.75"/>
<circle cx="662.00" cy="232.40" r="0.72" fill="#c4ee38" filter="url(#b05)" opacity="1.00"/>
<circle cx="643.10" cy="228.60" r="1.38" fill="#9cc040" filter="url(#b05)" opacity="0.75"/>
<circle cx="643.10" cy="228.60" r="0.88" fill="#c4ee38" filter="url(#b05)" opacity="1.00"/>
<circle cx="644.10" cy="231.10" r="1.30" fill="#9cc040" filter="url(#b05)" opacity="0.75"/>
<circle cx="644.10" cy="231.10" r="0.80" fill="#c4ee38" filter="url(#b05)" opacity="1.00"/>
<circle cx="636.40" cy="234.00" r="1.30" fill="#9cc040" filter="url(#b05)" opacity="0.68"/>
<circle cx="636.40" cy="234.00" r="0.80" fill="#c4ee38" filter="url(#b05)" opacity="0.90"/>
<circle cx="630.80" cy="222.20" r="1.14" fill="#9cc040" filter="url(#b05)" opacity="0.60"/>
<circle cx="630.80" cy="222.20" r="0.64" fill="#c4ee38" filter="url(#b05)" opacity="0.80"/>
<circle cx="636.40" cy="217.10" r="1.06" fill="#9cc040" filter="url(#b05)" opacity="0.60"/>
<circle cx="636.40" cy="217.10" r="0.56" fill="#c4ee38" filter="url(#b05)" opacity="0.80"/>
<circle cx="652.00" cy="243.40" r="1.14" fill="#9cc040" filter="url(#b05)" opacity="0.68"/>
<circle cx="652.00" cy="243.40" r="0.64" fill="#c4ee38" filter="url(#b05)" opacity="0.90"/>
<circle cx="640.80" cy="210.00" r="0.98" fill="#9cc040" filter="url(#b05)" opacity="0.38"/>
<circle cx="640.80" cy="210.00" r="0.48" fill="#c4ee38" filter="url(#b05)" opacity="0.50"/>
<circle cx="625.80" cy="223.50" r="0.90" fill="#9cc040" filter="url(#b05)" opacity="0.30"/>
<circle cx="625.80" cy="223.50" r="0.40" fill="#c4ee38" filter="url(#b05)" opacity="0.40"/>
<circle cx="628.30" cy="212.00" r="0.90" fill="#9cc040" filter="url(#b05)" opacity="0.22"/>
<circle cx="628.30" cy="212.00" r="0.40" fill="#c4ee38" filter="url(#b05)" opacity="0.30"/>
<circle cx="652.30" cy="201.50" r="0.90" fill="#9cc040" filter="url(#b05)" opacity="0.22"/>
<circle cx="652.30" cy="201.50" r="0.40" fill="#c4ee38" filter="url(#b05)" opacity="0.30"/>
<text x="347.30" y="257.00" font-size="9.0" fill="#fff">GFP–OsKAT2</text>
<text x="432.70" y="257.00" font-size="9.2" fill="#fff">mCherry–AIM1</text>
<text x="521.20" y="257.00" font-size="9.4" fill="#fff">Bright</text>
<text x="604.60" y="257.00" font-size="9.4" fill="#fff">Merge</text>
<text x="682.00" y="188.60" font-size="9.0" text-anchor="end" fill="#fff">26/26</text>
<rect x="678.00" y="241.50" width="2.50" height="10.60" fill="#fff" />
<text x="0.20" y="279.90" font-size="12.3" fill="#000" font-weight="bold" stroke="#000" stroke-width="0.4" stroke-linejoin="round">d</text>
<path d="M26.90,295.30 L41.62,303.80 L41.62,320.80 L26.90,329.30 L12.18,320.80 L12.18,303.80Z" fill="none" stroke="#f26a55" stroke-width="1.1" stroke-linejoin="round"/>
<line x1="27.17" y1="298.92" x2="38.36" y2="305.38" stroke="#f26a55" stroke-width="1.1" />
<line x1="38.36" y1="319.22" x2="27.17" y2="325.68" stroke="#f26a55" stroke-width="1.1" />
<line x1="15.18" y1="318.76" x2="15.18" y2="305.84" stroke="#f26a55" stroke-width="1.1" />
<path d="M41.62,303.80 L55.90,295.70 L70.50,303.90 L85.30,295.70" fill="none" stroke="#1a1a1a" stroke-width="1.1" stroke-linejoin="round"/>
<line x1="55.20" y1="299.30" x2="69.00" y2="305.30" stroke="#1a1a1a" stroke-width="1.1" />
<line x1="84.00" y1="296.10" x2="84.00" y2="284.30" stroke="#1a1a1a" stroke-width="1.1" />
<line x1="86.60" y1="296.10" x2="86.60" y2="284.30" stroke="#1a1a1a" stroke-width="1.1" />
<text x="85.30" y="282.60" font-size="10.2" text-anchor="middle" fill="#ff2d2d">O</text>
<line x1="85.30" y1="295.70" x2="93.50" y2="300.40" stroke="#1a1a1a" stroke-width="1.1" />
<text x="95.20" y="307.40" font-size="10.2" fill="#ff2d2d">OH</text>
<text x="72.20" y="326.70" font-size="8.8" text-anchor="middle" fill="#1a1a1a">CA</text>
<line x1="117.00" y1="312.30" x2="176.20" y2="312.30" stroke="#1a1a1a" stroke-width="0.9" />
<path d="M179.20,312.3 L173.60,309.90 L174.90,312.3 L173.60,314.70Z" fill="#1a1a1a" stroke="none" stroke-width="0" />
<text x="147.80" y="306.50" font-size="9.0" text-anchor="middle" fill="#3a3af0">OSD1</text>
<path d="M201.40,295.30 L216.12,303.80 L216.12,320.80 L201.40,329.30 L186.68,320.80 L186.68,303.80Z" fill="none" stroke="#f26a55" stroke-width="1.1" stroke-linejoin="round"/>
<line x1="201.67" y1="298.92" x2="212.86" y2="305.38" stroke="#f26a55" stroke-width="1.1" />
<line x1="212.86" y1="319.22" x2="201.67" y2="325.68" stroke="#f26a55" stroke-width="1.1" />
<line x1="189.68" y1="318.76" x2="189.68" y2="305.84" stroke="#f26a55" stroke-width="1.1" />
<path d="M216.12,303.80 L230.70,295.70 L245.60,303.90 L259.90,295.70" fill="none" stroke="#1a1a1a" stroke-width="1.1" stroke-linejoin="round"/>
<line x1="230.00" y1="299.30" x2="244.10" y2="305.30" stroke="#1a1a1a" stroke-width="1.1" />
<line x1="258.60" y1="296.10" x2="258.60" y2="284.30" stroke="#1a1a1a" stroke-width="1.1" />
<line x1="261.20" y1="296.10" x2="261.20" y2="284.30" stroke="#1a1a1a" stroke-width="1.1" />
<text x="259.90" y="282.60" font-size="10.2" text-anchor="middle" fill="#ff2d2d">O</text>
<line x1="259.90" y1="295.70" x2="269.80" y2="301.30" stroke="#1a1a1a" stroke-width="1.1" />
<text x="274.30" y="307.40" font-size="10.2" text-anchor="middle" fill="#c9a032">S</text>
<line x1="278.60" y1="301.40" x2="284.40" y2="298.10" stroke="#1a1a1a" stroke-width="1.1" />
<text x="285.60" y="299.20" font-size="9.7" fill="#1a1a1a">CoA</text>
<text x="258.80" y="326.70" font-size="9.25" text-anchor="middle" fill="#1a1a1a">CA-CoA</text>
<line x1="306.10" y1="312.30" x2="365.30" y2="312.30" stroke="#1a1a1a" stroke-width="0.9" />
<path d="M368.30,312.3 L362.70,309.90 L364.00,312.3 L362.70,314.70Z" fill="#1a1a1a" stroke="none" stroke-width="0" />
<text x="336.60" y="306.50" font-size="9.0" text-anchor="middle" fill="#3aa83a">AIM1</text>
<path d="M395.50,295.30 L410.22,303.80 L410.22,320.80 L395.50,329.30 L380.78,320.80 L380.78,303.80Z" fill="none" stroke="#f26a55" stroke-width="1.1" stroke-linejoin="round"/>
<line x1="395.77" y1="298.92" x2="406.96" y2="305.38" stroke="#f26a55" stroke-width="1.1" />
<line x1="406.96" y1="319.22" x2="395.77" y2="325.68" stroke="#f26a55" stroke-width="1.1" />
<line x1="383.78" y1="318.76" x2="383.78" y2="305.84" stroke="#f26a55" stroke-width="1.1" />
<path d="M410.22,303.80 L424.50,295.70 L438.90,303.90 L453.80,295.70" fill="none" stroke="#1a1a1a" stroke-width="1.1" stroke-linejoin="round"/>
<line x1="423.20" y1="296.10" x2="423.20" y2="284.30" stroke="#1a1a1a" stroke-width="1.1" />
<line x1="425.80" y1="296.10" x2="425.80" y2="284.30" stroke="#1a1a1a" stroke-width="1.1" />
<text x="424.50" y="282.60" font-size="10.2" text-anchor="middle" fill="#ff2d2d">O</text>
<line x1="452.50" y1="296.10" x2="452.50" y2="284.30" stroke="#1a1a1a" stroke-width="1.1" />
<line x1="455.10" y1="296.10" x2="455.10" y2="284.30" stroke="#1a1a1a" stroke-width="1.1" />
<text x="453.80" y="282.60" font-size="10.2" text-anchor="middle" fill="#ff2d2d">O</text>
<line x1="453.80" y1="295.70" x2="463.60" y2="301.30" stroke="#1a1a1a" stroke-width="1.1" />
<text x="468.00" y="307.40" font-size="10.2" text-anchor="middle" fill="#c9a032">S</text>
<line x1="472.30" y1="301.40" x2="478.10" y2="298.10" stroke="#1a1a1a" stroke-width="1.1" />
<text x="479.60" y="299.20" font-size="9.7" fill="#1a1a1a">CoA</text>
<text x="449.80" y="326.30" font-size="9.45" text-anchor="middle" fill="#1a1a1a">BAc-CoA</text>
<line x1="502.80" y1="312.30" x2="574.70" y2="312.30" stroke="#1a1a1a" stroke-width="0.9" />
<path d="M577.70,312.3 L572.10,309.90 L573.40,312.3 L572.10,314.70Z" fill="#1a1a1a" stroke="none" stroke-width="0" />
<text x="540.00" y="306.50" font-size="9.4" text-anchor="middle" fill="#a3965e"><tspan font-style="italic">Os</tspan>KAT1/KAT2</text>
<path d="M601.80,295.30 L616.52,303.80 L616.52,320.80 L601.80,329.30 L587.08,320.80 L587.08,303.80Z" fill="none" stroke="#f26a55" stroke-width="1.1" stroke-linejoin="round"/>
<line x1="602.07" y1="298.92" x2="613.26" y2="305.38" stroke="#f26a55" stroke-width="1.1" />
<line x1="613.26" y1="319.22" x2="602.07" y2="325.68" stroke="#f26a55" stroke-width="1.1" />
<line x1="590.08" y1="318.76" x2="590.08" y2="305.84" stroke="#f26a55" stroke-width="1.1" />
<path d="M616.52,303.80 L630.40,295.70" fill="none" stroke="#1a1a1a" stroke-width="1.1" />
<line x1="629.10" y1="296.10" x2="629.10" y2="284.30" stroke="#1a1a1a" stroke-width="1.1" />
<line x1="631.70" y1="296.10" x2="631.70" y2="284.30" stroke="#1a1a1a" stroke-width="1.1" />
<text x="630.40" y="282.60" font-size="10.2" text-anchor="middle" fill="#ff2d2d">O</text>
<line x1="630.40" y1="295.70" x2="640.30" y2="301.30" stroke="#1a1a1a" stroke-width="1.1" />
<text x="644.80" y="307.40" font-size="10.2" text-anchor="middle" fill="#c9a032">S</text>
<line x1="649.10" y1="301.40" x2="654.90" y2="298.10" stroke="#1a1a1a" stroke-width="1.1" />
<text x="656.60" y="299.20" font-size="9.7" fill="#1a1a1a">CoA</text>
<text x="642.30" y="326.30" font-size="9.4" text-anchor="middle" fill="#1a1a1a">BA-CoA</text>
<text x="0.20" y="353.80" font-size="12.3" fill="#000" font-weight="bold" stroke="#000" stroke-width="0.4" stroke-linejoin="round">e</text>
<line x1="16.80" y1="500.50" x2="193.40" y2="500.50" stroke="#333" stroke-width="0.7" />
<line x1="16.80" y1="500.50" x2="16.80" y2="503.70" stroke="#333" stroke-width="0.7" />
<text x="16.80" y="514.60" font-size="9.2" text-anchor="middle" fill="#111">2</text>
<line x1="60.95" y1="500.50" x2="60.95" y2="503.70" stroke="#333" stroke-width="0.7" />
<text x="60.95" y="514.60" font-size="9.2" text-anchor="middle" fill="#111">4</text>
<line x1="105.10" y1="500.50" x2="105.10" y2="503.70" stroke="#333" stroke-width="0.7" />
<text x="105.10" y="514.60" font-size="9.2" text-anchor="middle" fill="#111">6</text>
<line x1="149.25" y1="500.50" x2="149.25" y2="503.70" stroke="#333" stroke-width="0.7" />
<text x="149.25" y="514.60" font-size="9.2" text-anchor="middle" fill="#111">8</text>
<line x1="193.40" y1="500.50" x2="193.40" y2="503.70" stroke="#333" stroke-width="0.7" />
<text x="193.40" y="514.60" font-size="9.2" text-anchor="middle" fill="#111">10</text>
<text x="105.00" y="528.90" font-size="9.4" text-anchor="middle" fill="#111">Retention time (min)</text>
<text x="8.00" y="439.70" font-size="9.4" text-anchor="middle" fill="#111" transform="rotate(-90 8.00 439.70)">DAD (265 nm)</text>
<line x1="50.40" y1="364.00" x2="50.40" y2="500.50" stroke="#f58220" stroke-width="1.0" stroke-dasharray="5.7 3.5"/>
<line x1="125.60" y1="364.00" x2="125.60" y2="500.50" stroke="#f58220" stroke-width="1.0" stroke-dasharray="5.7 3.5"/>
<text x="51.40" y="361.00" font-size="9.5" text-anchor="middle" fill="#7d24aa">CA</text>
<text x="128.90" y="361.00" font-size="9.5" text-anchor="middle" fill="#f0505a">CA-CoA</text>
<path d="M16.8,394.40 L17.5,394.40 L18.1,394.40 L18.8,394.40 L19.4,394.40 L20.1,394.40 L20.8,394.40 L21.4,394.40 L22.1,394.40 L22.8,394.40 L23.4,394.40 L24.1,394.40 L24.7,394.40 L25.4,394.40 L26.1,394.40 L26.7,394.40 L27.4,394.40 L28.1,394.40 L28.7,394.40 L29.4,394.40 L30.0,394.40 L30.7,394.40 L31.4,394.40 L32.0,394.40 L32.7,394.40 L33.4,394.40 L34.0,394.40 L34.7,394.40 L35.3,394.40 L36.0,394.40 L36.7,394.40 L37.3,394.40 L38.0,394.40 L38.7,394.40 L39.3,394.40 L40.0,394.40 L40.6,394.40 L41.3,394.40 L42.0,394.40 L42.6,394.40 L43.3,394.40 L44.0,394.39 L44.6,394.37 L45.3,394.29 L45.9,394.04 L46.6,393.40 L47.3,392.12 L47.9,390.07 L48.6,387.54 L49.3,385.37 L49.9,384.50 L50.6,384.69 L51.2,385.22 L51.9,386.05 L52.6,387.09 L53.2,388.24 L53.9,389.40 L54.5,390.49 L55.2,391.46 L55.9,392.27 L56.5,392.92 L57.2,393.40 L57.9,393.76 L58.5,394.00 L59.2,394.16 L59.8,394.26 L60.5,394.32 L61.2,394.36 L61.8,394.38 L62.5,394.39 L63.2,394.39 L63.8,394.40 L64.5,394.40 L65.1,394.40 L65.8,394.40 L66.5,394.40 L67.1,394.40 L67.8,394.40 L68.5,394.40 L69.1,394.40 L69.8,394.40 L70.4,394.40 L71.1,394.40 L71.8,394.40 L72.4,394.40 L73.1,394.40 L73.8,394.40 L74.4,394.40 L75.1,394.40 L75.7,394.40 L76.4,394.40 L77.1,394.40 L77.7,394.40 L78.4,394.40 L79.1,394.40 L79.7,394.40 L80.4,394.40 L81.0,394.40 L81.7,394.40 L82.4,394.40 L83.0,394.40 L83.7,394.40 L84.3,394.40 L85.0,394.40 L85.7,394.40 L86.3,394.40 L87.0,394.40 L87.7,394.40 L88.3,394.40 L89.0,394.40 L89.6,394.40 L90.3,394.40 L91.0,394.40 L91.6,394.40 L92.3,394.40 L93.0,394.40 L93.6,394.40 L94.3,394.40 L94.9,394.40 L95.6,394.40 L96.3,394.40 L96.9,394.40 L97.6,394.40 L98.3,394.40 L98.9,394.40 L99.6,394.40 L100.2,394.40 L100.9,394.40 L101.6,394.40 L102.2,394.40 L102.9,394.40 L103.6,394.40 L104.2,394.40 L104.9,394.40 L105.5,394.40 L106.2,394.40 L106.9,394.40 L107.5,394.40 L108.2,394.40 L108.9,394.40 L109.5,394.40 L110.2,394.40 L110.8,394.40 L111.5,394.40 L112.2,394.40 L112.8,394.40 L113.5,394.40 L114.2,394.40 L114.8,394.40 L115.5,394.40 L116.1,394.40 L116.8,394.40 L117.5,394.40 L118.1,394.40 L118.8,394.40 L119.4,394.40 L120.1,394.40 L120.8,394.40 L121.4,394.37 L122.1,394.20 L122.8,393.46 L123.4,391.14 L124.1,386.03 L124.7,378.46 L125.4,371.84 L126.1,370.38 L126.7,371.58 L127.4,374.01 L128.1,377.27 L128.7,380.87 L129.4,384.35 L130.0,387.38 L130.7,389.78 L131.4,391.55 L132.0,392.74 L132.7,393.49 L133.4,393.93 L134.0,394.18 L134.7,394.30 L135.3,394.36 L136.0,394.38 L136.7,394.39 L137.3,394.40 L138.0,394.40 L138.7,394.40 L139.3,394.40 L140.0,394.40 L140.6,394.40 L141.3,394.40 L142.0,394.40 L142.6,394.40 L143.3,394.40 L144.0,394.40 L144.6,394.40 L145.3,394.40 L145.9,394.40 L146.6,394.40 L147.3,394.40 L147.9,394.40 L148.6,394.40 L149.2,394.40 L149.9,394.41 L150.6,394.42 L151.2,394.45 L151.9,394.49 L152.6,394.53 L153.2,394.58 L153.9,394.60 L154.5,394.59 L155.2,394.53 L155.9,394.43 L156.5,394.28 L157.2,394.09 L157.9,393.85 L158.5,393.54 L159.2,393.18 L159.8,392.84 L160.5,392.54 L161.2,392.32 L161.8,392.17 L162.5,392.08 L163.2,392.05 L163.8,392.07 L164.5,392.12 L165.1,392.20 L165.8,392.29 L166.5,392.39 L167.1,392.49 L167.8,392.58 L168.5,392.67 L169.1,392.73 L169.8,392.79 L170.4,392.84 L171.1,392.87 L171.8,392.91 L172.4,392.93 L173.1,392.96 L173.8,392.98 L174.4,393.01 L175.1,393.03 L175.7,393.05 L176.4,393.07 L177.1,393.10 L177.7,393.12 L178.4,393.14 L179.1,393.16 L179.7,393.18 L180.4,393.21 L181.0,393.23 L181.7,393.25 L182.4,393.27 L183.0,393.29 L183.7,393.32 L184.3,393.34 L185.0,393.36 L185.7,393.38 L186.3,393.40 L187.0,393.43 L187.7,393.45 L188.3,393.47 L189.0,393.49 L189.6,393.51 L190.3,393.54 L191.0,393.56 L191.6,393.58 L192.3,393.60 L193.0,393.63" fill="none" stroke="#3c3cf5" stroke-width="0.75" stroke-linejoin="round"/>
<path d="M16.8,432.00 L17.5,432.00 L18.1,432.00 L18.8,432.00 L19.4,432.00 L20.1,432.00 L20.8,432.01 L21.4,432.01 L22.1,432.01 L22.8,432.01 L23.4,432.01 L24.1,432.01 L24.7,432.01 L25.4,432.01 L26.1,432.01 L26.7,432.01 L27.4,432.01 L28.1,432.02 L28.7,432.02 L29.4,432.02 L30.0,432.02 L30.7,432.02 L31.4,432.02 L32.0,432.02 L32.7,432.02 L33.4,432.02 L34.0,432.02 L34.7,432.02 L35.3,432.03 L36.0,432.03 L36.7,432.03 L37.3,432.03 L38.0,432.03 L38.7,432.03 L39.3,432.03 L40.0,432.03 L40.6,432.03 L41.3,432.03 L42.0,432.03 L42.6,432.04 L43.3,432.04 L44.0,432.04 L44.6,432.03 L45.3,431.99 L45.9,431.80 L46.6,431.11 L47.3,429.17 L47.9,425.16 L48.6,419.18 L49.3,413.34 L49.9,410.85 L50.6,411.23 L51.2,412.36 L51.9,414.10 L52.6,416.28 L53.2,418.70 L53.9,421.16 L54.5,423.48 L55.2,425.56 L55.9,427.31 L56.5,428.72 L57.2,429.79 L57.9,430.58 L58.5,431.13 L59.2,431.49 L59.8,431.73 L60.5,431.87 L61.2,431.96 L61.8,432.01 L62.5,432.04 L63.2,432.05 L63.8,432.06 L64.5,432.06 L65.1,432.06 L65.8,432.07 L66.5,432.07 L67.1,432.07 L67.8,432.07 L68.5,432.07 L69.1,432.07 L69.8,432.07 L70.4,432.07 L71.1,432.07 L71.8,432.07 L72.4,432.08 L73.1,432.08 L73.8,432.08 L74.4,432.08 L75.1,432.08 L75.7,432.08 L76.4,432.08 L77.1,432.08 L77.7,432.08 L78.4,432.08 L79.1,432.08 L79.7,432.09 L80.4,432.09 L81.0,432.09 L81.7,432.09 L82.4,432.09 L83.0,432.09 L83.7,432.09 L84.3,432.09 L85.0,432.09 L85.7,432.09 L86.3,432.09 L87.0,432.10 L87.7,432.10 L88.3,432.10 L89.0,432.10 L89.6,432.10 L90.3,432.10 L91.0,432.10 L91.6,432.10 L92.3,432.10 L93.0,432.10 L93.6,432.10 L94.3,432.11 L94.9,432.11 L95.6,432.11 L96.3,432.11 L96.9,432.11 L97.6,432.11 L98.3,432.11 L98.9,432.11 L99.6,432.11 L100.2,432.11 L100.9,432.11 L101.6,432.12 L102.2,432.12 L102.9,432.12 L103.6,432.12 L104.2,432.12 L104.9,432.12 L105.5,432.12 L106.2,432.12 L106.9,432.12 L107.5,432.12 L108.2,432.12 L108.9,432.13 L109.5,432.13 L110.2,432.13 L110.8,432.13 L111.5,432.13 L112.2,432.13 L112.8,432.13 L113.5,432.13 L114.2,432.13 L114.8,432.13 L115.5,432.13 L116.1,432.13 L116.8,432.14 L117.5,432.14 L118.1,432.14 L118.8,432.14 L119.4,432.14 L120.1,432.14 L120.8,432.14 L121.4,432.14 L122.1,432.14 L122.8,432.14 L123.4,432.14 L124.1,432.15 L124.7,432.15 L125.4,432.15 L126.1,432.15 L126.7,432.15 L127.4,432.15 L128.1,432.15 L128.7,432.15 L129.4,432.15 L130.0,432.15 L130.7,432.15 L131.4,432.16 L132.0,432.16 L132.7,432.16 L133.4,432.16 L134.0,432.16 L134.7,432.16 L135.3,432.16 L136.0,432.16 L136.7,432.16 L137.3,432.16 L138.0,432.16 L138.7,432.17 L139.3,432.17 L140.0,432.17 L140.6,432.17 L141.3,432.17 L142.0,432.17 L142.6,432.17 L143.3,432.17 L144.0,432.17 L144.6,432.17 L145.3,432.17 L145.9,432.18 L146.6,432.18 L147.3,432.18 L147.9,432.18 L148.6,432.18 L149.2,432.18 L149.9,432.19 L150.6,432.20 L151.2,432.22 L151.9,432.26 L152.6,432.30 L153.2,432.33 L153.9,432.35 L154.5,432.34 L155.2,432.30 L155.9,432.21 L156.5,432.09 L157.2,431.93 L157.9,431.73 L158.5,431.47 L159.2,431.17 L159.8,430.88 L160.5,430.63 L161.2,430.45 L161.8,430.33 L162.5,430.26 L163.2,430.24 L163.8,430.26 L164.5,430.30 L165.1,430.37 L165.8,430.46 L166.5,430.55 L167.1,430.63 L167.8,430.72 L168.5,430.79 L169.1,430.85 L169.8,430.90 L170.4,430.94 L171.1,430.98 L171.8,431.01 L172.4,431.04 L173.1,431.06 L173.8,431.09 L174.4,431.11 L175.1,431.14 L175.7,431.16 L176.4,431.18 L177.1,431.20 L177.7,431.23 L178.4,431.25 L179.1,431.27 L179.7,431.29 L180.4,431.32 L181.0,431.34 L181.7,431.36 L182.4,431.38 L183.0,431.41 L183.7,431.43 L184.3,431.45 L185.0,431.47 L185.7,431.50 L186.3,431.52 L187.0,431.54 L187.7,431.56 L188.3,431.59 L189.0,431.61 L189.6,431.63 L190.3,431.65 L191.0,431.68 L191.6,431.70 L192.3,431.72 L193.0,431.74" fill="none" stroke="#333" stroke-width="0.75" stroke-linejoin="round"/>
<path d="M16.8,466.40 L17.5,466.40 L18.1,466.40 L18.8,466.40 L19.4,466.40 L20.1,466.40 L20.8,466.40 L21.4,466.40 L22.1,466.40 L22.8,466.40 L23.4,466.40 L24.1,466.40 L24.7,466.40 L25.4,466.40 L26.1,466.40 L26.7,466.40 L27.4,466.40 L28.1,466.40 L28.7,466.40 L29.4,466.40 L30.0,466.40 L30.7,466.40 L31.4,466.40 L32.0,466.40 L32.7,466.40 L33.4,466.40 L34.0,466.40 L34.7,466.40 L35.3,466.40 L36.0,466.40 L36.7,466.40 L37.3,466.40 L38.0,466.40 L38.7,466.40 L39.3,466.40 L40.0,466.40 L40.6,466.40 L41.3,466.40 L42.0,466.40 L42.6,466.40 L43.3,466.40 L44.0,466.40 L44.6,466.40 L45.3,466.40 L45.9,466.40 L46.6,466.40 L47.3,466.40 L47.9,466.40 L48.6,466.40 L49.3,466.40 L49.9,466.40 L50.6,466.40 L51.2,466.40 L51.9,466.40 L52.6,466.40 L53.2,466.40 L53.9,466.40 L54.5,466.40 L55.2,466.40 L55.9,466.40 L56.5,466.40 L57.2,466.40 L57.9,466.40 L58.5,466.40 L59.2,466.40 L59.8,466.40 L60.5,466.40 L61.2,466.40 L61.8,466.40 L62.5,466.40 L63.2,466.40 L63.8,466.40 L64.5,466.40 L65.1,466.40 L65.8,466.40 L66.5,466.40 L67.1,466.40 L67.8,466.40 L68.5,466.40 L69.1,466.40 L69.8,466.40 L70.4,466.40 L71.1,466.40 L71.8,466.40 L72.4,466.40 L73.1,466.40 L73.8,466.40 L74.4,466.40 L75.1,466.40 L75.7,466.40 L76.4,466.40 L77.1,466.40 L77.7,466.40 L78.4,466.40 L79.1,466.40 L79.7,466.40 L80.4,466.40 L81.0,466.40 L81.7,466.40 L82.4,466.40 L83.0,466.40 L83.7,466.40 L84.3,466.40 L85.0,466.40 L85.7,466.40 L86.3,466.40 L87.0,466.40 L87.7,466.40 L88.3,466.40 L89.0,466.40 L89.6,466.40 L90.3,466.40 L91.0,466.40 L91.6,466.40 L92.3,466.40 L93.0,466.40 L93.6,466.40 L94.3,466.40 L94.9,466.40 L95.6,466.40 L96.3,466.40 L96.9,466.40 L97.6,466.40 L98.3,466.40 L98.9,466.40 L99.6,466.40 L100.2,466.40 L100.9,466.40 L101.6,466.40 L102.2,466.40 L102.9,466.40 L103.6,466.40 L104.2,466.40 L104.9,466.40 L105.5,466.40 L106.2,466.40 L106.9,466.40 L107.5,466.40 L108.2,466.40 L108.9,466.40 L109.5,466.40 L110.2,466.40 L110.8,466.40 L111.5,466.40 L112.2,466.40 L112.8,466.40 L113.5,466.40 L114.2,466.40 L114.8,466.40 L115.5,466.40 L116.1,466.40 L116.8,466.40 L117.5,466.40 L118.1,466.40 L118.8,466.40 L119.4,466.40 L120.1,466.40 L120.8,466.38 L121.4,466.26 L122.1,465.58 L122.8,463.15 L123.4,457.39 L124.1,448.97 L124.7,442.88 L125.4,442.73 L126.1,444.40 L126.7,447.18 L127.4,450.63 L128.1,454.25 L128.7,457.60 L129.4,460.42 L130.0,462.58 L130.7,464.10 L131.4,465.11 L132.0,465.71 L132.7,466.06 L133.4,466.24 L134.0,466.33 L134.7,466.37 L135.3,466.39 L136.0,466.40 L136.7,466.40 L137.3,466.40 L138.0,466.40 L138.7,466.40 L139.3,466.40 L140.0,466.40 L140.6,466.40 L141.3,466.40 L142.0,466.40 L142.6,466.40 L143.3,466.40 L144.0,466.40 L144.6,466.40 L145.3,466.40 L145.9,466.40 L146.6,466.40 L147.3,466.40 L147.9,466.40 L148.6,466.40 L149.2,466.40 L149.9,466.40 L150.6,466.41 L151.2,466.42 L151.9,466.44 L152.6,466.46 L153.2,466.48 L153.9,466.49 L154.5,466.49 L155.2,466.46 L155.9,466.41 L156.5,466.34 L157.2,466.25 L157.9,466.14 L158.5,465.99 L159.2,465.82 L159.8,465.66 L160.5,465.52 L161.2,465.41 L161.8,465.34 L162.5,465.29 L163.2,465.28 L163.8,465.28 L164.5,465.31 L165.1,465.34 L165.8,465.38 L166.5,465.43 L167.1,465.48 L167.8,465.52 L168.5,465.55 L169.1,465.58 L169.8,465.61 L170.4,465.63 L171.1,465.65 L171.8,465.66 L172.4,465.67 L173.1,465.68 L173.8,465.69 L174.4,465.70 L175.1,465.71 L175.7,465.72 L176.4,465.73 L177.1,465.74 L177.7,465.74 L178.4,465.75 L179.1,465.76 L179.7,465.77 L180.4,465.78 L181.0,465.79 L181.7,465.80 L182.4,465.80 L183.0,465.81 L183.7,465.82 L184.3,465.83 L185.0,465.84 L185.7,465.85 L186.3,465.86 L187.0,465.87 L187.7,465.87 L188.3,465.88 L189.0,465.89 L189.6,465.90 L190.3,465.91 L191.0,465.92 L191.6,465.93 L192.3,465.94 L193.0,465.94" fill="none" stroke="#f0505a" stroke-width="0.75" stroke-linejoin="round"/>
<path d="M16.8,495.60 L17.5,495.60 L18.1,495.61 L18.8,495.61 L19.4,495.61 L20.1,495.62 L20.8,495.62 L21.4,495.63 L22.1,495.63 L22.8,495.63 L23.4,495.64 L24.1,495.64 L24.7,495.64 L25.4,495.65 L26.1,495.65 L26.7,495.65 L27.4,495.66 L28.1,495.66 L28.7,495.66 L29.4,495.67 L30.0,495.67 L30.7,495.68 L31.4,495.68 L32.0,495.68 L32.7,495.69 L33.4,495.69 L34.0,495.69 L34.7,495.70 L35.3,495.70 L36.0,495.70 L36.7,495.71 L37.3,495.71 L38.0,495.72 L38.7,495.72 L39.3,495.72 L40.0,495.73 L40.6,495.73 L41.3,495.73 L42.0,495.74 L42.6,495.74 L43.3,495.74 L44.0,495.73 L44.6,495.69 L45.3,495.58 L45.9,495.26 L46.6,494.55 L47.3,493.15 L47.9,490.80 L48.6,487.42 L49.3,483.38 L49.9,479.55 L50.6,477.01 L51.2,476.52 L51.9,477.02 L52.6,478.06 L53.2,479.56 L53.9,481.39 L54.5,483.41 L55.2,485.47 L55.9,487.46 L56.5,489.27 L57.2,490.85 L57.9,492.16 L58.5,493.21 L59.2,494.02 L59.8,494.62 L60.5,495.05 L61.2,495.35 L61.8,495.54 L62.5,495.67 L63.2,495.75 L63.8,495.80 L64.5,495.83 L65.1,495.85 L65.8,495.86 L66.5,495.87 L67.1,495.87 L67.8,495.88 L68.5,495.88 L69.1,495.88 L69.8,495.89 L70.4,495.89 L71.1,495.90 L71.8,495.90 L72.4,495.90 L73.1,495.91 L73.8,495.91 L74.4,495.91 L75.1,495.92 L75.7,495.92 L76.4,495.92 L77.1,495.93 L77.7,495.93 L78.4,495.93 L79.1,495.94 L79.7,495.94 L80.4,495.95 L81.0,495.95 L81.7,495.95 L82.4,495.96 L83.0,495.96 L83.7,495.96 L84.3,495.97 L85.0,495.97 L85.7,495.97 L86.3,495.98 L87.0,495.98 L87.7,495.99 L88.3,495.99 L89.0,495.99 L89.6,496.00 L90.3,496.00 L91.0,496.00 L91.6,496.01 L92.3,496.01 L93.0,496.01 L93.6,496.02 L94.3,496.02 L94.9,496.02 L95.6,496.03 L96.3,496.03 L96.9,496.04 L97.6,496.04 L98.3,496.04 L98.9,496.05 L99.6,496.05 L100.2,496.05 L100.9,496.06 L101.6,496.06 L102.2,496.06 L102.9,496.07 L103.6,496.07 L104.2,496.08 L104.9,496.08 L105.5,496.08 L106.2,496.09 L106.9,496.09 L107.5,496.09 L108.2,496.10 L108.9,496.10 L109.5,496.10 L110.2,496.11 L110.8,496.11 L111.5,496.11 L112.2,496.12 L112.8,496.12 L113.5,496.13 L114.2,496.13 L114.8,496.13 L115.5,496.14 L116.1,496.14 L116.8,496.14 L117.5,496.15 L118.1,496.15 L118.8,496.15 L119.4,496.16 L120.1,496.16 L120.8,496.17 L121.4,496.17 L122.1,496.17 L122.8,496.18 L123.4,496.18 L124.1,496.18 L124.7,496.19 L125.4,496.19 L126.1,496.19 L126.7,496.20 L127.4,496.20 L128.1,496.20 L128.7,496.21 L129.4,496.21 L130.0,496.22 L130.7,496.22 L131.4,496.22 L132.0,496.23 L132.7,496.23 L133.4,496.23 L134.0,496.24 L134.7,496.24 L135.3,496.24 L136.0,496.25 L136.7,496.25 L137.3,496.26 L138.0,496.26 L138.7,496.26 L139.3,496.27 L140.0,496.27 L140.6,496.27 L141.3,496.28 L142.0,496.28 L142.6,496.28 L143.3,496.29 L144.0,496.29 L144.6,496.29 L145.3,496.30 L145.9,496.30 L146.6,496.31 L147.3,496.31 L147.9,496.31 L148.6,496.32 L149.2,496.33 L149.9,496.35 L150.6,496.39 L151.2,496.47 L151.9,496.59 L152.6,496.73 L153.2,496.86 L153.9,496.93 L154.5,496.89 L155.2,496.73 L155.9,496.43 L156.5,496.02 L157.2,495.46 L157.9,494.74 L158.5,493.83 L159.2,492.78 L159.8,491.77 L160.5,490.90 L161.2,490.25 L161.8,489.81 L162.5,489.57 L163.2,489.49 L163.8,489.54 L164.5,489.70 L165.1,489.93 L165.8,490.21 L166.5,490.52 L167.1,490.82 L167.8,491.10 L168.5,491.34 L169.1,491.55 L169.8,491.72 L170.4,491.86 L171.1,491.98 L171.8,492.08 L172.4,492.17 L173.1,492.25 L173.8,492.33 L174.4,492.40 L175.1,492.47 L175.7,492.54 L176.4,492.61 L177.1,492.69 L177.7,492.76 L178.4,492.83 L179.1,492.90 L179.7,492.97 L180.4,493.04 L181.0,493.11 L181.7,493.18 L182.4,493.25 L183.0,493.32 L183.7,493.39 L184.3,493.46 L185.0,493.54 L185.7,493.61 L186.3,493.68 L187.0,493.75 L187.7,493.82 L188.3,493.89 L189.0,493.96 L189.6,494.03 L190.3,494.10 L191.0,494.17 L191.6,494.24 L192.3,494.31 L193.0,494.38" fill="none" stroke="#8a2db8" stroke-width="0.75" stroke-linejoin="round"/>
<text x="192.60" y="390.60" font-size="9.2" text-anchor="end" fill="#3030e8">OSD1</text>
<text x="192.60" y="428.20" font-size="9.2" text-anchor="end" fill="#1a1a1a">MBP</text>
<text x="192.60" y="463.00" font-size="9.6" text-anchor="end" fill="#f0505a">CA-CoA</text>
<text x="192.60" y="490.30" font-size="9.2" text-anchor="end" fill="#7d24aa">CA</text>
<text x="239.60" y="353.90" font-size="12.3" fill="#000" font-weight="bold" stroke="#000" stroke-width="0.4" stroke-linejoin="round">g</text>
<line x1="255.90" y1="500.50" x2="432.50" y2="500.50" stroke="#333" stroke-width="0.7" />
<line x1="255.90" y1="500.50" x2="255.90" y2="503.70" stroke="#333" stroke-width="0.7" />
<text x="255.90" y="514.60" font-size="9.2" text-anchor="middle" fill="#111">4</text>
<line x1="291.22" y1="500.50" x2="291.22" y2="503.70" stroke="#333" stroke-width="0.7" />
<text x="291.22" y="514.60" font-size="9.2" text-anchor="middle" fill="#111">5</text>
<line x1="326.54" y1="500.50" x2="326.54" y2="503.70" stroke="#333" stroke-width="0.7" />
<text x="326.54" y="514.60" font-size="9.2" text-anchor="middle" fill="#111">6</text>
<line x1="361.86" y1="500.50" x2="361.86" y2="503.70" stroke="#333" stroke-width="0.7" />
<text x="361.86" y="514.60" font-size="9.2" text-anchor="middle" fill="#111">7</text>
<line x1="397.18" y1="500.50" x2="397.18" y2="503.70" stroke="#333" stroke-width="0.7" />
<text x="397.18" y="514.60" font-size="9.2" text-anchor="middle" fill="#111">8</text>
<line x1="432.50" y1="500.50" x2="432.50" y2="503.70" stroke="#333" stroke-width="0.7" />
<text x="432.50" y="514.60" font-size="9.2" text-anchor="middle" fill="#111">9</text>
<text x="344.20" y="528.90" font-size="9.4" text-anchor="middle" fill="#111">Retention time (min)</text>
<text x="248.90" y="439.70" font-size="9.4" text-anchor="middle" fill="#111" transform="rotate(-90 248.90 439.70)">DAD (252 nm)</text>
<line x1="272.40" y1="364.00" x2="272.40" y2="500.50" stroke="#f58220" stroke-width="1.0" stroke-dasharray="5.7 3.5"/>
<line x1="358.70" y1="364.00" x2="358.70" y2="500.50" stroke="#f58220" stroke-width="1.0" stroke-dasharray="5.7 3.5"/>
<text x="277.00" y="361.00" font-size="9.5" text-anchor="middle" fill="#1a1a1a">BAc-CoA</text>
<text x="361.00" y="361.00" font-size="9.5" text-anchor="middle" fill="#f0505a">CA-CoA</text>
<path d="M255.9,393.90 L257.0,393.90 L258.0,393.90 L259.1,393.90 L260.1,393.90 L261.2,393.90 L262.3,393.89 L263.3,393.85 L264.4,393.69 L265.4,393.20 L266.5,391.97 L267.6,389.48 L268.6,385.50 L269.7,380.60 L270.7,376.38 L271.8,374.70 L272.9,375.18 L273.9,376.56 L275.0,378.63 L276.0,381.12 L277.1,383.74 L278.2,386.22 L279.2,388.38 L280.3,390.13 L281.3,391.45 L282.4,392.39 L283.4,393.02 L284.5,393.41 L285.6,393.64 L286.6,393.77 L287.7,393.84 L288.7,393.87 L289.8,393.89 L290.9,393.89 L291.9,393.90 L293.0,393.90 L294.0,393.90 L295.1,393.90 L296.2,393.90 L297.2,393.90 L298.3,393.90 L299.3,393.90 L300.4,393.90 L301.5,393.90 L302.5,393.90 L303.6,393.90 L304.6,393.90 L305.7,393.90 L306.8,393.90 L307.8,393.90 L308.9,393.90 L309.9,393.90 L311.0,393.90 L312.1,393.90 L313.1,393.90 L314.2,393.90 L315.2,393.90 L316.3,393.90 L317.4,393.90 L318.4,393.90 L319.5,393.90 L320.5,393.90 L321.6,393.90 L322.7,393.90 L323.7,393.90 L324.8,393.90 L325.8,393.90 L326.9,393.90 L328.0,393.90 L329.0,393.90 L330.1,393.90 L331.1,393.90 L332.2,393.90 L333.3,393.90 L334.3,393.90 L335.4,393.90 L336.4,393.90 L337.5,393.90 L338.5,393.90 L339.6,393.90 L340.7,393.90 L341.7,393.90 L342.8,393.90 L343.8,393.90 L344.9,393.90 L346.0,393.90 L347.0,393.90 L348.1,393.90 L349.1,393.90 L350.2,393.90 L351.3,393.90 L352.3,393.89 L353.4,393.83 L354.4,393.35 L355.5,391.27 L356.6,385.92 L357.6,378.37 L358.7,374.50 L359.7,375.55 L360.8,378.37 L361.9,382.13 L362.9,385.92 L364.0,389.06 L365.0,391.27 L366.1,392.62 L367.2,393.35 L368.2,393.68 L369.3,393.83 L370.3,393.88 L371.4,393.89 L372.5,393.90 L373.5,393.90 L374.6,393.90 L375.6,393.90 L376.7,393.90 L377.8,393.90 L378.8,393.90 L379.9,393.90 L380.9,393.90 L382.0,393.90 L383.1,393.90 L384.1,393.90 L385.2,393.90 L386.2,393.90 L387.3,393.90 L388.4,393.90 L389.4,393.90 L390.5,393.90 L391.5,393.90 L392.6,393.90 L393.6,393.90 L394.7,393.90 L395.8,393.90 L396.8,393.91 L397.9,393.92 L398.9,393.95 L400.0,393.99 L401.1,394.05 L402.1,394.11 L403.2,394.14 L404.2,394.13 L405.3,394.06 L406.4,393.92 L407.4,393.72 L408.5,393.47 L409.5,393.16 L410.6,392.79 L411.7,392.38 L412.7,391.97 L413.8,391.60 L414.8,391.31 L415.9,391.09 L417.0,390.96 L418.0,390.91 L419.1,390.93 L420.1,391.00 L421.2,391.12 L422.3,391.27 L423.3,391.43 L424.4,391.60 L425.4,391.76 L426.5,391.91 L427.6,392.04 L428.6,392.15 L429.7,392.25 L430.7,392.33 L431.8,392.41" fill="none" stroke="#2c9c3c" stroke-width="0.75" stroke-linejoin="round"/>
<path d="M255.9,432.40 L257.0,432.40 L258.0,432.40 L259.1,432.40 L260.1,432.40 L261.2,432.40 L262.3,432.40 L263.3,432.40 L264.4,432.37 L265.4,432.23 L266.5,431.61 L267.6,429.67 L268.6,425.39 L269.7,419.04 L270.7,413.49 L271.8,412.24 L272.9,412.87 L273.9,414.18 L275.0,416.04 L276.0,418.25 L277.1,420.63 L278.2,422.96 L279.2,425.12 L280.3,426.99 L281.3,428.53 L282.4,429.74 L283.4,430.63 L284.5,431.27 L285.6,431.71 L286.6,431.99 L287.7,432.17 L288.7,432.27 L289.8,432.33 L290.9,432.37 L291.9,432.38 L293.0,432.39 L294.0,432.40 L295.1,432.40 L296.2,432.40 L297.2,432.40 L298.3,432.40 L299.3,432.40 L300.4,432.40 L301.5,432.40 L302.5,432.40 L303.6,432.40 L304.6,432.40 L305.7,432.40 L306.8,432.40 L307.8,432.40 L308.9,432.40 L309.9,432.40 L311.0,432.40 L312.1,432.40 L313.1,432.40 L314.2,432.40 L315.2,432.40 L316.3,432.40 L317.4,432.40 L318.4,432.40 L319.5,432.40 L320.5,432.40 L321.6,432.40 L322.7,432.40 L323.7,432.40 L324.8,432.40 L325.8,432.40 L326.9,432.40 L328.0,432.40 L329.0,432.40 L330.1,432.40 L331.1,432.40 L332.2,432.40 L333.3,432.40 L334.3,432.40 L335.4,432.40 L336.4,432.40 L337.5,432.40 L338.5,432.40 L339.6,432.40 L340.7,432.40 L341.7,432.40 L342.8,432.40 L343.8,432.40 L344.9,432.40 L346.0,432.40 L347.0,432.40 L348.1,432.40 L349.1,432.40 L350.2,432.40 L351.3,432.40 L352.3,432.39 L353.4,432.35 L354.4,432.14 L355.5,431.49 L356.6,430.16 L357.6,428.56 L358.7,427.80 L359.7,428.00 L360.8,428.56 L361.9,429.33 L362.9,430.16 L364.0,430.91 L365.0,431.49 L366.1,431.89 L367.2,432.14 L368.2,432.28 L369.3,432.35 L370.3,432.38 L371.4,432.39 L372.5,432.40 L373.5,432.40 L374.6,432.40 L375.6,432.40 L376.7,432.40 L377.8,432.40 L378.8,432.40 L379.9,432.40 L380.9,432.40 L382.0,432.40 L383.1,432.40 L384.1,432.40 L385.2,432.40 L386.2,432.40 L387.3,432.40 L388.4,432.40 L389.4,432.40 L390.5,432.40 L391.5,432.40 L392.6,432.40 L393.6,432.40 L394.7,432.40 L395.8,432.40 L396.8,432.40 L397.9,432.41 L398.9,432.42 L400.0,432.43 L401.1,432.45 L402.1,432.47 L403.2,432.48 L404.2,432.48 L405.3,432.46 L406.4,432.41 L407.4,432.34 L408.5,432.25 L409.5,432.14 L410.6,432.02 L411.7,431.87 L412.7,431.73 L413.8,431.60 L414.8,431.49 L415.9,431.41 L417.0,431.35 L418.0,431.33 L419.1,431.33 L420.1,431.35 L421.2,431.38 L422.3,431.42 L423.3,431.47 L424.4,431.52 L425.4,431.57 L426.5,431.61 L427.6,431.65 L428.6,431.68 L429.7,431.71 L430.7,431.73 L431.8,431.75" fill="none" stroke="#f050e0" stroke-width="0.75" stroke-linejoin="round"/>
<path d="M255.9,467.00 L257.0,467.00 L258.0,467.00 L259.1,467.00 L260.1,467.00 L261.2,467.00 L262.3,467.00 L263.3,467.00 L264.4,467.00 L265.4,467.00 L266.5,467.00 L267.6,467.00 L268.6,467.00 L269.7,467.00 L270.7,467.00 L271.8,467.00 L272.9,467.00 L273.9,467.00 L275.0,467.00 L276.0,467.00 L277.1,467.00 L278.2,467.00 L279.2,467.00 L280.3,467.00 L281.3,467.00 L282.4,467.00 L283.4,467.00 L284.5,467.00 L285.6,467.00 L286.6,467.00 L287.7,467.00 L288.7,467.00 L289.8,467.00 L290.9,467.00 L291.9,467.00 L293.0,467.00 L294.0,467.00 L295.1,467.00 L296.2,467.00 L297.2,467.00 L298.3,467.00 L299.3,467.00 L300.4,467.00 L301.5,467.00 L302.5,467.00 L303.6,467.00 L304.6,467.00 L305.7,467.00 L306.8,467.00 L307.8,467.00 L308.9,467.00 L309.9,467.00 L311.0,467.00 L312.1,467.00 L313.1,467.00 L314.2,467.00 L315.2,467.00 L316.3,467.00 L317.4,467.00 L318.4,467.00 L319.5,467.00 L320.5,467.00 L321.6,467.00 L322.7,467.00 L323.7,467.00 L324.8,467.00 L325.8,467.00 L326.9,467.00 L328.0,467.00 L329.0,467.00 L330.1,467.00 L331.1,467.00 L332.2,467.00 L333.3,467.00 L334.3,467.00 L335.4,467.00 L336.4,467.00 L337.5,467.00 L338.5,467.00 L339.6,467.00 L340.7,467.00 L341.7,467.00 L342.8,467.00 L343.8,467.00 L344.9,467.00 L346.0,467.00 L347.0,467.00 L348.1,467.00 L349.1,467.00 L350.2,467.00 L351.3,467.00 L352.3,466.97 L353.4,466.71 L354.4,465.39 L355.5,461.33 L356.6,454.20 L357.6,448.46 L358.7,448.26 L359.7,449.54 L360.8,451.70 L361.9,454.39 L362.9,457.22 L364.0,459.86 L365.0,462.10 L366.1,463.83 L367.2,465.08 L368.2,465.90 L369.3,466.41 L370.3,466.70 L371.4,466.86 L372.5,466.94 L373.5,466.97 L374.6,466.99 L375.6,467.00 L376.7,467.00 L377.8,467.00 L378.8,467.00 L379.9,467.00 L380.9,467.00 L382.0,467.00 L383.1,467.00 L384.1,467.00 L385.2,467.00 L386.2,467.00 L387.3,467.00 L388.4,467.00 L389.4,467.00 L390.5,467.00 L391.5,467.00 L392.6,467.00 L393.6,467.00 L394.7,467.00 L395.8,467.00 L396.8,467.00 L397.9,467.01 L398.9,467.02 L400.0,467.05 L401.1,467.07 L402.1,467.10 L403.2,467.12 L404.2,467.12 L405.3,467.08 L406.4,467.01 L407.4,466.91 L408.5,466.79 L409.5,466.63 L410.6,466.45 L411.7,466.24 L412.7,466.03 L413.8,465.84 L414.8,465.68 L415.9,465.56 L417.0,465.49 L418.0,465.45 L419.1,465.45 L420.1,465.48 L421.2,465.53 L422.3,465.59 L423.3,465.66 L424.4,465.73 L425.4,465.80 L426.5,465.87 L427.6,465.92 L428.6,465.97 L429.7,466.00 L430.7,466.04 L431.8,466.07" fill="none" stroke="#333" stroke-width="0.75" stroke-linejoin="round"/>
<path d="M255.9,496.60 L257.0,496.60 L258.0,496.60 L259.1,496.60 L260.1,496.60 L261.2,496.60 L262.3,496.60 L263.3,496.60 L264.4,496.60 L265.4,496.60 L266.5,496.60 L267.6,496.60 L268.6,496.60 L269.7,496.60 L270.7,496.60 L271.8,496.60 L272.9,496.60 L273.9,496.60 L275.0,496.60 L276.0,496.60 L277.1,496.60 L278.2,496.60 L279.2,496.60 L280.3,496.60 L281.3,496.60 L282.4,496.60 L283.4,496.60 L284.5,496.60 L285.6,496.60 L286.6,496.60 L287.7,496.60 L288.7,496.60 L289.8,496.60 L290.9,496.60 L291.9,496.60 L293.0,496.60 L294.0,496.60 L295.1,496.60 L296.2,496.60 L297.2,496.60 L298.3,496.60 L299.3,496.60 L300.4,496.60 L301.5,496.60 L302.5,496.60 L303.6,496.60 L304.6,496.60 L305.7,496.60 L306.8,496.60 L307.8,496.60 L308.9,496.60 L309.9,496.60 L311.0,496.60 L312.1,496.60 L313.1,496.60 L314.2,496.60 L315.2,496.60 L316.3,496.60 L317.4,496.60 L318.4,496.60 L319.5,496.60 L320.5,496.60 L321.6,496.60 L322.7,496.60 L323.7,496.60 L324.8,496.60 L325.8,496.60 L326.9,496.60 L328.0,496.60 L329.0,496.60 L330.1,496.60 L331.1,496.60 L332.2,496.60 L333.3,496.60 L334.3,496.60 L335.4,496.60 L336.4,496.60 L337.5,496.60 L338.5,496.60 L339.6,496.60 L340.7,496.60 L341.7,496.60 L342.8,496.60 L343.8,496.60 L344.9,496.60 L346.0,496.60 L347.0,496.60 L348.1,496.60 L349.1,496.60 L350.2,496.60 L351.3,496.60 L352.3,496.58 L353.4,496.43 L354.4,495.53 L355.5,492.21 L356.6,485.11 L357.6,477.30 L358.7,475.37 L359.7,476.42 L360.8,478.56 L361.9,481.42 L362.9,484.58 L364.0,487.65 L365.0,490.33 L366.1,492.47 L367.2,494.04 L368.2,495.10 L369.3,495.78 L370.3,496.18 L371.4,496.39 L372.5,496.51 L373.5,496.56 L374.6,496.58 L375.6,496.59 L376.7,496.60 L377.8,496.60 L378.8,496.60 L379.9,496.60 L380.9,496.60 L382.0,496.60 L383.1,496.60 L384.1,496.60 L385.2,496.60 L386.2,496.60 L387.3,496.60 L388.4,496.60 L389.4,496.60 L390.5,496.60 L391.5,496.60 L392.6,496.60 L393.6,496.60 L394.7,496.60 L395.8,496.60 L396.8,496.60 L397.9,496.61 L398.9,496.62 L400.0,496.65 L401.1,496.67 L402.1,496.70 L403.2,496.72 L404.2,496.72 L405.3,496.68 L406.4,496.61 L407.4,496.51 L408.5,496.39 L409.5,496.23 L410.6,496.05 L411.7,495.84 L412.7,495.64 L413.8,495.46 L414.8,495.32 L415.9,495.23 L417.0,495.17 L418.0,495.16 L419.1,495.18 L420.1,495.23 L421.2,495.30 L422.3,495.38 L423.3,495.47 L424.4,495.57 L425.4,495.66 L426.5,495.74 L427.6,495.82 L428.6,495.88 L429.7,495.94 L430.7,495.99 L431.8,496.04" fill="none" stroke="#f0505a" stroke-width="0.75" stroke-linejoin="round"/>
<text x="431.30" y="389.50" font-size="9.2" text-anchor="end" fill="#2c9c3c">AIM1</text>
<text x="431.30" y="428.20" font-size="9.2" text-anchor="end" fill="#f050e0">PhCHD</text>
<text x="431.30" y="463.00" font-size="9.2" text-anchor="end" fill="#1a1a1a">MBP</text>
<text x="431.30" y="492.90" font-size="9.6" text-anchor="end" fill="#f0505a">CA-CoA</text>
<text x="479.70" y="354.00" font-size="12.8" fill="#000" font-weight="bold" stroke="#000" stroke-width="0.15">i</text>
<line x1="497.30" y1="500.50" x2="674.60" y2="500.50" stroke="#333" stroke-width="0.7" />
<line x1="497.30" y1="500.50" x2="497.30" y2="503.70" stroke="#333" stroke-width="0.7" />
<text x="497.30" y="514.60" font-size="9.2" text-anchor="middle" fill="#111">4</text>
<line x1="532.76" y1="500.50" x2="532.76" y2="503.70" stroke="#333" stroke-width="0.7" />
<text x="532.76" y="514.60" font-size="9.2" text-anchor="middle" fill="#111">5</text>
<line x1="568.22" y1="500.50" x2="568.22" y2="503.70" stroke="#333" stroke-width="0.7" />
<text x="568.22" y="514.60" font-size="9.2" text-anchor="middle" fill="#111">6</text>
<line x1="603.68" y1="500.50" x2="603.68" y2="503.70" stroke="#333" stroke-width="0.7" />
<text x="603.68" y="514.60" font-size="9.2" text-anchor="middle" fill="#111">7</text>
<line x1="639.14" y1="500.50" x2="639.14" y2="503.70" stroke="#333" stroke-width="0.7" />
<text x="639.14" y="514.60" font-size="9.2" text-anchor="middle" fill="#111">8</text>
<line x1="674.60" y1="500.50" x2="674.60" y2="503.70" stroke="#333" stroke-width="0.7" />
<text x="674.60" y="514.60" font-size="9.2" text-anchor="middle" fill="#111">9</text>
<text x="585.30" y="528.90" font-size="9.4" text-anchor="middle" fill="#111">Retention time (min)</text>
<text x="487.60" y="439.70" font-size="9.4" text-anchor="middle" fill="#111" transform="rotate(-90 487.60 439.70)">DAD (260 nm)</text>
<line x1="529.30" y1="364.00" x2="529.30" y2="500.50" stroke="#f58220" stroke-width="1.0" stroke-dasharray="5.7 3.5"/>
<line x1="601.50" y1="364.00" x2="601.50" y2="500.50" stroke="#f58220" stroke-width="1.0" stroke-dasharray="5.7 3.5"/>
<text x="533.60" y="361.00" font-size="9.5" text-anchor="middle" fill="#b030e0">BA-CoA</text>
<text x="602.70" y="361.00" font-size="9.5" text-anchor="middle" fill="#ff3030">CA-CoA</text>
<path d="M497.3,388.80 L498.4,388.80 L499.4,388.80 L500.5,388.80 L501.6,388.80 L502.6,388.80 L503.7,388.80 L504.7,388.80 L505.8,388.80 L506.9,388.80 L507.9,388.80 L509.0,388.80 L510.1,388.80 L511.1,388.80 L512.2,388.80 L513.3,388.80 L514.3,388.80 L515.4,388.80 L516.4,388.80 L517.5,388.80 L518.6,388.80 L519.6,388.80 L520.7,388.80 L521.8,388.80 L522.8,388.79 L523.9,388.65 L525.0,387.86 L526.0,384.97 L527.1,378.77 L528.2,371.95 L529.2,370.26 L530.3,371.18 L531.3,373.04 L532.4,375.54 L533.5,378.31 L534.5,380.98 L535.6,383.32 L536.7,385.19 L537.7,386.56 L538.8,387.49 L539.9,388.08 L540.9,388.43 L542.0,388.62 L543.0,388.72 L544.1,388.76 L545.2,388.79 L546.2,388.79 L547.3,388.80 L548.4,388.80 L549.4,388.80 L550.5,388.80 L551.6,388.80 L552.6,388.80 L553.7,388.80 L554.7,388.80 L555.8,388.80 L556.9,388.80 L557.9,388.80 L559.0,388.80 L560.1,388.80 L561.1,388.80 L562.2,388.80 L563.3,388.80 L564.3,388.80 L565.4,388.80 L566.4,388.80 L567.5,388.80 L568.6,388.80 L569.6,388.80 L570.7,388.80 L571.8,388.80 L572.8,388.80 L573.9,388.80 L575.0,388.80 L576.0,388.80 L577.1,388.80 L578.1,388.80 L579.2,388.80 L580.3,388.80 L581.3,388.80 L582.4,388.80 L583.5,388.80 L584.5,388.80 L585.6,388.80 L586.7,388.80 L587.7,388.80 L588.8,388.80 L589.9,388.80 L590.9,388.80 L592.0,388.80 L593.0,388.80 L594.1,388.80 L595.2,388.77 L596.2,388.55 L597.3,387.42 L598.4,383.94 L599.4,377.82 L600.5,372.90 L601.6,372.80 L602.6,374.30 L603.7,376.71 L604.7,379.53 L605.8,382.27 L606.9,384.57 L607.9,386.28 L609.0,387.42 L610.1,388.11 L611.1,388.48 L612.2,388.66 L613.3,388.75 L614.3,388.78 L615.4,388.79 L616.4,388.80 L617.5,388.80 L618.6,388.80 L619.6,388.80 L620.7,388.80 L621.8,388.80 L622.8,388.80 L623.9,388.80 L625.0,388.80 L626.0,388.80 L627.1,388.80 L628.1,388.80 L629.2,388.80 L630.3,388.80 L631.3,388.80 L632.4,388.80 L633.5,388.80 L634.5,388.80 L635.6,388.80 L636.7,388.80 L637.7,388.80 L638.8,388.80 L639.8,388.81 L640.9,388.82 L642.0,388.84 L643.0,388.87 L644.1,388.90 L645.2,388.91 L646.2,388.91 L647.3,388.87 L648.4,388.81 L649.4,388.72 L650.5,388.60 L651.6,388.46 L652.6,388.29 L653.7,388.10 L654.7,387.91 L655.8,387.74 L656.9,387.61 L657.9,387.51 L659.0,387.46 L660.1,387.44 L661.1,387.45 L662.2,387.49 L663.3,387.54 L664.3,387.62 L665.4,387.70 L666.4,387.78 L667.5,387.85 L668.6,387.92 L669.6,387.99 L670.7,388.04 L671.8,388.09 L672.8,388.13 L673.9,388.17" fill="none" stroke="#c98a3c" stroke-width="0.75" stroke-linejoin="round"/>
<path d="M497.3,416.00 L498.4,416.00 L499.4,416.00 L500.5,416.00 L501.6,416.00 L502.6,416.00 L503.7,416.00 L504.7,416.00 L505.8,416.00 L506.9,416.00 L507.9,416.00 L509.0,416.00 L510.1,416.00 L511.1,416.00 L512.2,416.00 L513.3,416.00 L514.3,416.00 L515.4,416.00 L516.4,416.00 L517.5,416.00 L518.6,416.00 L519.6,416.00 L520.7,416.00 L521.8,416.00 L522.8,416.00 L523.9,416.00 L525.0,416.00 L526.0,416.00 L527.1,416.00 L528.2,416.00 L529.2,416.00 L530.3,416.00 L531.3,416.00 L532.4,416.00 L533.5,416.00 L534.5,416.00 L535.6,416.00 L536.7,416.00 L537.7,416.00 L538.8,416.00 L539.9,416.00 L540.9,416.00 L542.0,416.00 L543.0,416.00 L544.1,416.00 L545.2,416.00 L546.2,416.00 L547.3,416.00 L548.4,416.00 L549.4,416.00 L550.5,416.00 L551.6,416.00 L552.6,416.00 L553.7,416.00 L554.7,416.00 L555.8,416.00 L556.9,416.00 L557.9,416.00 L559.0,416.00 L560.1,416.00 L561.1,416.00 L562.2,416.00 L563.3,416.00 L564.3,416.00 L565.4,416.00 L566.4,416.00 L567.5,416.00 L568.6,416.00 L569.6,416.00 L570.7,416.00 L571.8,416.00 L572.8,416.00 L573.9,416.00 L575.0,416.00 L576.0,416.00 L577.1,416.00 L578.1,416.00 L579.2,416.00 L580.3,416.00 L581.3,416.00 L582.4,416.00 L583.5,416.00 L584.5,416.00 L585.6,416.00 L586.7,416.00 L587.7,416.00 L588.8,416.00 L589.9,416.00 L590.9,416.00 L592.0,416.00 L593.0,415.97 L594.1,415.78 L595.2,414.89 L596.2,412.08 L597.3,406.36 L598.4,399.46 L599.4,396.20 L600.5,396.76 L601.6,398.35 L602.6,400.72 L603.7,403.51 L604.7,406.36 L605.8,408.98 L606.9,411.17 L607.9,412.87 L609.0,414.08 L610.1,414.89 L611.1,415.39 L612.2,415.69 L613.3,415.85 L614.3,415.93 L615.4,415.97 L616.4,415.99 L617.5,416.00 L618.6,416.00 L619.6,416.00 L620.7,416.00 L621.8,416.00 L622.8,416.00 L623.9,416.00 L625.0,416.00 L626.0,416.00 L627.1,416.00 L628.1,416.00 L629.2,416.00 L630.3,416.00 L631.3,416.00 L632.4,416.00 L633.5,416.00 L634.5,416.00 L635.6,416.00 L636.7,416.00 L637.7,416.00 L638.8,416.00 L639.8,416.01 L640.9,416.02 L642.0,416.04 L643.0,416.06 L644.1,416.08 L645.2,416.09 L646.2,416.09 L647.3,416.06 L648.4,416.01 L649.4,415.93 L650.5,415.84 L651.6,415.72 L652.6,415.57 L653.7,415.41 L654.7,415.26 L655.8,415.12 L656.9,415.01 L657.9,414.93 L659.0,414.88 L660.1,414.86 L661.1,414.87 L662.2,414.91 L663.3,414.95 L664.3,415.01 L665.4,415.08 L666.4,415.15 L667.5,415.21 L668.6,415.27 L669.6,415.32 L670.7,415.37 L671.8,415.41 L672.8,415.44 L673.9,415.47" fill="none" stroke="#aaa066" stroke-width="0.75" stroke-linejoin="round"/>
<path d="M497.3,442.20 L498.4,442.20 L499.4,442.20 L500.5,442.20 L501.6,442.20 L502.6,442.20 L503.7,442.20 L504.7,442.20 L505.8,442.20 L506.9,442.20 L507.9,442.20 L509.0,442.20 L510.1,442.20 L511.1,442.20 L512.2,442.20 L513.3,442.20 L514.3,442.20 L515.4,442.20 L516.4,442.20 L517.5,442.20 L518.6,442.20 L519.6,442.20 L520.7,442.20 L521.8,442.20 L522.8,442.20 L523.9,442.20 L525.0,442.20 L526.0,442.20 L527.1,442.20 L528.2,442.20 L529.2,442.20 L530.3,442.20 L531.3,442.20 L532.4,442.20 L533.5,442.20 L534.5,442.20 L535.6,442.20 L536.7,442.20 L537.7,442.20 L538.8,442.20 L539.9,442.20 L540.9,442.20 L542.0,442.20 L543.0,442.20 L544.1,442.20 L545.2,442.20 L546.2,442.20 L547.3,442.20 L548.4,442.20 L549.4,442.20 L550.5,442.20 L551.6,442.20 L552.6,442.20 L553.7,442.20 L554.7,442.20 L555.8,442.20 L556.9,442.20 L557.9,442.20 L559.0,442.20 L560.1,442.20 L561.1,442.20 L562.2,442.20 L563.3,442.20 L564.3,442.20 L565.4,442.20 L566.4,442.20 L567.5,442.20 L568.6,442.20 L569.6,442.20 L570.7,442.20 L571.8,442.20 L572.8,442.20 L573.9,442.20 L575.0,442.20 L576.0,442.20 L577.1,442.20 L578.1,442.20 L579.2,442.20 L580.3,442.20 L581.3,442.20 L582.4,442.20 L583.5,442.20 L584.5,442.20 L585.6,442.20 L586.7,442.20 L587.7,442.20 L588.8,442.20 L589.9,442.20 L590.9,442.20 L592.0,442.20 L593.0,442.20 L594.1,442.18 L595.2,442.04 L596.2,441.20 L597.3,438.10 L598.4,431.47 L599.4,424.17 L600.5,422.36 L601.6,423.21 L602.6,424.97 L603.7,427.36 L604.7,430.08 L605.8,432.81 L606.9,435.30 L607.9,437.39 L609.0,439.02 L610.1,440.21 L611.1,441.02 L612.2,441.53 L613.3,441.84 L614.3,442.02 L615.4,442.11 L616.4,442.16 L617.5,442.18 L618.6,442.19 L619.6,442.20 L620.7,442.20 L621.8,442.20 L622.8,442.20 L623.9,442.20 L625.0,442.20 L626.0,442.20 L627.1,442.20 L628.1,442.20 L629.2,442.20 L630.3,442.20 L631.3,442.20 L632.4,442.20 L633.5,442.20 L634.5,442.20 L635.6,442.20 L636.7,442.20 L637.7,442.20 L638.8,442.20 L639.8,442.21 L640.9,442.22 L642.0,442.24 L643.0,442.27 L644.1,442.30 L645.2,442.31 L646.2,442.31 L647.3,442.27 L648.4,442.21 L649.4,442.12 L650.5,442.00 L651.6,441.86 L652.6,441.69 L653.7,441.50 L654.7,441.30 L655.8,441.13 L656.9,440.98 L657.9,440.87 L659.0,440.81 L660.1,440.77 L661.1,440.77 L662.2,440.79 L663.3,440.84 L664.3,440.90 L665.4,440.96 L666.4,441.03 L667.5,441.09 L668.6,441.15 L669.6,441.20 L670.7,441.25 L671.8,441.28 L672.8,441.31 L673.9,441.34" fill="none" stroke="#333" stroke-width="0.75" stroke-linejoin="round"/>
<path d="M497.3,468.80 L498.4,468.80 L499.4,468.80 L500.5,468.80 L501.6,468.80 L502.6,468.80 L503.7,468.80 L504.7,468.80 L505.8,468.80 L506.9,468.80 L507.9,468.80 L509.0,468.80 L510.1,468.80 L511.1,468.80 L512.2,468.80 L513.3,468.80 L514.3,468.80 L515.4,468.80 L516.4,468.80 L517.5,468.80 L518.6,468.80 L519.6,468.80 L520.7,468.80 L521.8,468.80 L522.8,468.79 L523.9,468.70 L525.0,467.97 L526.0,464.71 L527.1,457.34 L528.2,450.48 L529.2,450.10 L530.3,451.14 L531.3,452.90 L532.4,455.17 L533.5,457.67 L534.5,460.15 L535.6,462.39 L536.7,464.28 L537.7,465.76 L538.8,466.85 L539.9,467.61 L540.9,468.11 L542.0,468.42 L543.0,468.60 L544.1,468.70 L545.2,468.75 L546.2,468.78 L547.3,468.79 L548.4,468.80 L549.4,468.80 L550.5,468.80 L551.6,468.80 L552.6,468.80 L553.7,468.80 L554.7,468.80 L555.8,468.80 L556.9,468.80 L557.9,468.80 L559.0,468.80 L560.1,468.80 L561.1,468.80 L562.2,468.80 L563.3,468.80 L564.3,468.80 L565.4,468.80 L566.4,468.80 L567.5,468.80 L568.6,468.80 L569.6,468.80 L570.7,468.80 L571.8,468.80 L572.8,468.80 L573.9,468.80 L575.0,468.80 L576.0,468.80 L577.1,468.80 L578.1,468.80 L579.2,468.80 L580.3,468.80 L581.3,468.80 L582.4,468.80 L583.5,468.80 L584.5,468.80 L585.6,468.80 L586.7,468.80 L587.7,468.80 L588.8,468.80 L589.9,468.80 L590.9,468.80 L592.0,468.80 L593.0,468.80 L594.1,468.80 L595.2,468.80 L596.2,468.80 L597.3,468.80 L598.4,468.80 L599.4,468.80 L600.5,468.80 L601.6,468.80 L602.6,468.80 L603.7,468.80 L604.7,468.80 L605.8,468.80 L606.9,468.80 L607.9,468.80 L609.0,468.80 L610.1,468.80 L611.1,468.80 L612.2,468.80 L613.3,468.80 L614.3,468.80 L615.4,468.80 L616.4,468.80 L617.5,468.80 L618.6,468.80 L619.6,468.80 L620.7,468.80 L621.8,468.80 L622.8,468.80 L623.9,468.80 L625.0,468.80 L626.0,468.80 L627.1,468.80 L628.1,468.80 L629.2,468.80 L630.3,468.80 L631.3,468.80 L632.4,468.80 L633.5,468.80 L634.5,468.80 L635.6,468.80 L636.7,468.80 L637.7,468.80 L638.8,468.80 L639.8,468.80 L640.9,468.80 L642.0,468.80 L643.0,468.80 L644.1,468.80 L645.2,468.80 L646.2,468.80 L647.3,468.80 L648.4,468.80 L649.4,468.80 L650.5,468.80 L651.6,468.80 L652.6,468.80 L653.7,468.80 L654.7,468.80 L655.8,468.80 L656.9,468.80 L657.9,468.80 L659.0,468.80 L660.1,468.80 L661.1,468.80 L662.2,468.80 L663.3,468.80 L664.3,468.80 L665.4,468.80 L666.4,468.80 L667.5,468.80 L668.6,468.80 L669.6,468.80 L670.7,468.80 L671.8,468.80 L672.8,468.80 L673.9,468.80" fill="none" stroke="#c048e8" stroke-width="0.75" stroke-linejoin="round"/>
<path d="M497.3,497.90 L498.4,497.90 L499.4,497.90 L500.5,497.90 L501.6,497.90 L502.6,497.90 L503.7,497.90 L504.7,497.90 L505.8,497.90 L506.9,497.90 L507.9,497.90 L509.0,497.90 L510.1,497.90 L511.1,497.90 L512.2,497.90 L513.3,497.90 L514.3,497.90 L515.4,497.90 L516.4,497.90 L517.5,497.90 L518.6,497.90 L519.6,497.90 L520.7,497.90 L521.8,497.90 L522.8,497.90 L523.9,497.90 L525.0,497.90 L526.0,497.90 L527.1,497.90 L528.2,497.90 L529.2,497.90 L530.3,497.90 L531.3,497.90 L532.4,497.90 L533.5,497.90 L534.5,497.90 L535.6,497.90 L536.7,497.90 L537.7,497.90 L538.8,497.90 L539.9,497.90 L540.9,497.90 L542.0,497.90 L543.0,497.90 L544.1,497.90 L545.2,497.90 L546.2,497.90 L547.3,497.90 L548.4,497.90 L549.4,497.90 L550.5,497.90 L551.6,497.90 L552.6,497.90 L553.7,497.90 L554.7,497.90 L555.8,497.90 L556.9,497.90 L557.9,497.90 L559.0,497.90 L560.1,497.90 L561.1,497.90 L562.2,497.90 L563.3,497.90 L564.3,497.90 L565.4,497.90 L566.4,497.90 L567.5,497.90 L568.6,497.90 L569.6,497.90 L570.7,497.90 L571.8,497.90 L572.8,497.90 L573.9,497.90 L575.0,497.90 L576.0,497.90 L577.1,497.90 L578.1,497.90 L579.2,497.90 L580.3,497.90 L581.3,497.90 L582.4,497.90 L583.5,497.90 L584.5,497.90 L585.6,497.90 L586.7,497.90 L587.7,497.90 L588.8,497.90 L589.9,497.90 L590.9,497.90 L592.0,497.90 L593.0,497.90 L594.1,497.90 L595.2,497.86 L596.2,497.55 L597.3,496.00 L598.4,491.19 L599.4,482.74 L600.5,475.95 L601.6,475.73 L602.6,477.36 L603.7,480.09 L604.7,483.44 L605.8,486.90 L606.9,490.07 L607.9,492.68 L609.0,494.64 L610.1,496.00 L611.1,496.86 L612.2,497.37 L613.3,497.64 L614.3,497.78 L615.4,497.85 L616.4,497.88 L617.5,497.89 L618.6,497.90 L619.6,497.90 L620.7,497.90 L621.8,497.90 L622.8,497.90 L623.9,497.90 L625.0,497.90 L626.0,497.90 L627.1,497.90 L628.1,497.90 L629.2,497.90 L630.3,497.90 L631.3,497.90 L632.4,497.90 L633.5,497.90 L634.5,497.90 L635.6,497.90 L636.7,497.90 L637.7,497.90 L638.8,497.90 L639.8,497.91 L640.9,497.93 L642.0,497.96 L643.0,497.99 L644.1,498.03 L645.2,498.05 L646.2,498.04 L647.3,498.00 L648.4,497.91 L649.4,497.79 L650.5,497.64 L651.6,497.45 L652.6,497.22 L653.7,496.96 L654.7,496.71 L655.8,496.50 L656.9,496.33 L657.9,496.21 L659.0,496.15 L660.1,496.13 L661.1,496.15 L662.2,496.21 L663.3,496.30 L664.3,496.40 L665.4,496.51 L666.4,496.63 L667.5,496.74 L668.6,496.84 L669.6,496.93 L670.7,497.02 L671.8,497.09 L672.8,497.15 L673.9,497.21" fill="none" stroke="#ff5050" stroke-width="0.75" stroke-linejoin="round"/>
<text x="683.60" y="383.80" font-size="9.2" text-anchor="end" fill="#a8742c">AIM1 + <tspan font-style="italic">Os</tspan>KAT1/2</text>
<text x="672.60" y="412.30" font-size="9.2" text-anchor="end" fill="#938b50"><tspan font-style="italic">Os</tspan>KAT1/2</text>
<text x="672.60" y="440.10" font-size="9.2" text-anchor="end" fill="#1a1a1a">MBP</text>
<text x="672.60" y="465.40" font-size="9.6" text-anchor="end" fill="#b030e0">BA-CoA</text>
<text x="672.60" y="493.60" font-size="9.6" text-anchor="end" fill="#ff3030">CA-CoA</text>
<text x="0.20" y="553.60" font-size="12.3" fill="#000" font-weight="bold" stroke="#000" stroke-width="0.4" stroke-linejoin="round">f</text>
<rect x="15.80" y="551.80" width="176.90" height="176.30" fill="none" stroke="#333" stroke-width="0.7" />
<line x1="15.80" y1="640.50" x2="192.70" y2="640.50" stroke="#111" stroke-width="0.8" />
<line x1="34.90" y1="728.10" x2="34.90" y2="731.50" stroke="#333" stroke-width="0.7" />
<text x="34.90" y="743.30" font-size="9.2" text-anchor="middle" fill="#111">200</text>
<line x1="74.50" y1="728.10" x2="74.50" y2="731.50" stroke="#333" stroke-width="0.7" />
<text x="74.50" y="743.30" font-size="9.2" text-anchor="middle" fill="#111">400</text>
<line x1="113.80" y1="728.10" x2="113.80" y2="731.50" stroke="#333" stroke-width="0.7" />
<text x="113.80" y="743.30" font-size="9.2" text-anchor="middle" fill="#111">600</text>
<line x1="153.10" y1="728.10" x2="153.10" y2="731.50" stroke="#333" stroke-width="0.7" />
<text x="153.10" y="743.30" font-size="9.2" text-anchor="middle" fill="#111">800</text>
<line x1="192.70" y1="728.10" x2="192.70" y2="731.50" stroke="#333" stroke-width="0.7" />
<text x="192.70" y="743.30" font-size="9.2" text-anchor="middle" fill="#111">1,000</text>
<line x1="15.80" y1="728.10" x2="15.80" y2="731.50" stroke="#333" stroke-width="0.7" />
<text x="104.10" y="756.90" font-size="9.4" text-anchor="middle" fill="#111">Mass/charge</text>
<text x="8.60" y="640.50" font-size="9.4" text-anchor="middle" fill="#111" transform="rotate(-90 8.60 640.50)">Intensity (cps)</text>
<line x1="76.23" y1="640.50" x2="76.23" y2="566.27" stroke="#5a5af5" stroke-width="0.8" />
<line x1="76.23" y1="640.50" x2="76.23" y2="714.69" stroke="#f47a80" stroke-width="0.8" />
<line x1="79.58" y1="640.50" x2="79.58" y2="597.16" stroke="#5a5af5" stroke-width="0.8" />
<line x1="79.58" y1="640.50" x2="79.58" y2="708.64" stroke="#f47a80" stroke-width="0.8" />
<line x1="87.98" y1="640.50" x2="87.98" y2="623.35" stroke="#5a5af5" stroke-width="0.8" />
<line x1="87.98" y1="640.50" x2="87.98" y2="668.35" stroke="#f47a80" stroke-width="0.8" />
<line x1="103.43" y1="640.50" x2="103.43" y2="583.73" stroke="#5a5af5" stroke-width="0.8" />
<line x1="103.43" y1="640.50" x2="103.43" y2="716.37" stroke="#f47a80" stroke-width="0.8" />
<line x1="107.12" y1="640.50" x2="107.12" y2="624.02" stroke="#5a5af5" stroke-width="0.8" />
<line x1="107.12" y1="640.50" x2="107.12" y2="671.03" stroke="#f47a80" stroke-width="0.8" />
<line x1="156.48" y1="640.50" x2="156.48" y2="594.81" stroke="#5a5af5" stroke-width="0.8" />
<line x1="156.48" y1="640.50" x2="156.48" y2="704.61" stroke="#f47a80" stroke-width="0.8" />
<line x1="171.93" y1="640.50" x2="171.93" y2="570.30" stroke="#5a5af5" stroke-width="0.8" />
<line x1="171.93" y1="640.50" x2="171.93" y2="713.01" stroke="#f47a80" stroke-width="0.8" />
<line x1="49.36" y1="640.50" x2="49.36" y2="631.07" stroke="#5a5af5" stroke-width="0.8" />
<line x1="49.36" y1="640.50" x2="49.36" y2="653.57" stroke="#f47a80" stroke-width="0.8" />
<line x1="60.44" y1="640.50" x2="60.44" y2="628.05" stroke="#5a5af5" stroke-width="0.8" />
<line x1="60.44" y1="640.50" x2="60.44" y2="661.97" stroke="#f47a80" stroke-width="0.8" />
<line x1="26.86" y1="640.50" x2="26.86" y2="635.10" stroke="#5a5af5" stroke-width="0.8" />
<line x1="26.86" y1="640.50" x2="26.86" y2="648.20" stroke="#f47a80" stroke-width="0.8" />
<line x1="21.83" y1="640.50" x2="21.83" y2="637.12" stroke="#5a5af5" stroke-width="0.8" />
<line x1="21.83" y1="640.50" x2="21.83" y2="644.17" stroke="#f47a80" stroke-width="0.8" />
<line x1="145.40" y1="640.50" x2="145.40" y2="634.10" stroke="#5a5af5" stroke-width="0.8" />
<line x1="145.40" y1="640.50" x2="145.40" y2="649.21" stroke="#f47a80" stroke-width="0.8" />
<line x1="152.79" y1="640.50" x2="152.79" y2="636.11" stroke="#5a5af5" stroke-width="0.8" />
<line x1="152.79" y1="640.50" x2="152.79" y2="645.85" stroke="#f47a80" stroke-width="0.8" />
<line x1="168.23" y1="640.50" x2="168.23" y2="635.10" stroke="#5a5af5" stroke-width="0.8" />
<line x1="168.23" y1="640.50" x2="168.23" y2="646.86" stroke="#f47a80" stroke-width="0.8" />
<line x1="91.34" y1="640.50" x2="91.34" y2="636.45" stroke="#5a5af5" stroke-width="0.8" />
<line x1="91.34" y1="640.50" x2="91.34" y2="645.85" stroke="#f47a80" stroke-width="0.8" />
<line x1="100.07" y1="640.50" x2="100.07" y2="637.12" stroke="#5a5af5" stroke-width="0.8" />
<line x1="100.07" y1="640.50" x2="100.07" y2="645.18" stroke="#f47a80" stroke-width="0.8" />
<line x1="63.47" y1="640.50" x2="63.47" y2="636.78" stroke="#5a5af5" stroke-width="0.8" />
<line x1="63.47" y1="640.50" x2="63.47" y2="644.51" stroke="#f47a80" stroke-width="0.8" />
<line x1="96.04" y1="640.50" x2="96.04" y2="637.45" stroke="#5a5af5" stroke-width="0.8" />
<line x1="96.04" y1="640.50" x2="96.04" y2="643.50" stroke="#f47a80" stroke-width="0.8" />
<line x1="117.53" y1="640.50" x2="117.53" y2="638.13" stroke="#5a5af5" stroke-width="0.8" />
<line x1="117.53" y1="640.50" x2="117.53" y2="642.49" stroke="#f47a80" stroke-width="0.8" />
<line x1="119.21" y1="640.50" x2="119.21" y2="638.46" stroke="#5a5af5" stroke-width="0.8" />
<line x1="119.21" y1="640.50" x2="119.21" y2="642.16" stroke="#f47a80" stroke-width="0.8" />
<line x1="125.92" y1="640.50" x2="125.92" y2="639.13" stroke="#5a5af5" stroke-width="0.8" />
<line x1="125.92" y1="640.50" x2="125.92" y2="641.48" stroke="#f47a80" stroke-width="0.8" />
<line x1="53.73" y1="640.50" x2="53.73" y2="639.13" stroke="#5a5af5" stroke-width="0.8" />
<line x1="53.73" y1="640.50" x2="53.73" y2="641.82" stroke="#f47a80" stroke-width="0.8" />
<line x1="71.19" y1="640.50" x2="71.19" y2="638.80" stroke="#5a5af5" stroke-width="0.8" />
<line x1="71.19" y1="640.50" x2="71.19" y2="642.16" stroke="#f47a80" stroke-width="0.8" />
<line x1="45.67" y1="640.50" x2="45.67" y2="639.47" stroke="#5a5af5" stroke-width="0.8" />
<line x1="45.67" y1="640.50" x2="45.67" y2="641.15" stroke="#f47a80" stroke-width="0.8" />
<line x1="141.03" y1="640.50" x2="141.03" y2="639.13" stroke="#5a5af5" stroke-width="0.8" />
<line x1="141.03" y1="640.50" x2="141.03" y2="641.48" stroke="#f47a80" stroke-width="0.8" />
<line x1="30.22" y1="640.50" x2="30.22" y2="639.47" stroke="#5a5af5" stroke-width="0.8" />
<line x1="30.22" y1="640.50" x2="30.22" y2="641.15" stroke="#f47a80" stroke-width="0.8" />
<line x1="56.41" y1="640.50" x2="56.41" y2="639.47" stroke="#5a5af5" stroke-width="0.8" />
<line x1="56.41" y1="640.50" x2="56.41" y2="640.81" stroke="#f47a80" stroke-width="0.8" />
<line x1="65.82" y1="640.50" x2="65.82" y2="639.13" stroke="#5a5af5" stroke-width="0.8" />
<line x1="65.82" y1="640.50" x2="65.82" y2="641.15" stroke="#f47a80" stroke-width="0.8" />
<text x="189.80" y="561.30" font-size="9.2" text-anchor="end" fill="#3030e8">OSD1</text>
<text x="189.80" y="725.90" font-size="9.6" text-anchor="end" fill="#f0505a">CA-CoA</text>
<text x="72.30" y="592.12" font-size="9.2" fill="#111" transform="rotate(-90 72.30 592.12)">408.0134</text>
<text x="87.40" y="592.12" font-size="9.2" fill="#111" transform="rotate(-90 87.40 592.12)">426.0245</text>
<text x="102.50" y="593.13" font-size="9.2" fill="#111" transform="rotate(-90 102.50 593.13)">549.0902</text>
<text x="115.30" y="617.98" font-size="9.2" fill="#111" transform="rotate(-90 115.30 617.98)">567.1016</text>
<text x="153.90" y="607.90" font-size="9.2" fill="#111" transform="rotate(-90 153.90 607.90)">816.1893</text>
<text x="170.70" y="607.90" font-size="9.2" fill="#111" transform="rotate(-90 170.70 607.90)">896.1550</text>
<text x="73.30" y="724.76" font-size="9.2" fill="#111" transform="rotate(-90 73.30 724.76)">408.0101</text>
<text x="88.40" y="724.76" font-size="9.2" fill="#111" transform="rotate(-90 88.40 724.76)">426.0213</text>
<text x="102.50" y="724.76" font-size="9.2" fill="#111" transform="rotate(-90 102.50 724.76)">549.0866</text>
<text x="117.60" y="697.90" font-size="9.2" fill="#111" transform="rotate(-90 117.60 697.90)">567.0984</text>
<text x="154.60" y="713.68" font-size="9.2" fill="#111" transform="rotate(-90 154.60 713.68)">816.1837</text>
<text x="171.40" y="713.68" font-size="9.2" fill="#111" transform="rotate(-90 171.40 713.68)">896.1492</text>
<text x="238.20" y="553.60" font-size="12.3" fill="#000" font-weight="bold" stroke="#000" stroke-width="0.4" stroke-linejoin="round">h</text>
<rect x="255.90" y="551.80" width="176.60" height="176.30" fill="none" stroke="#333" stroke-width="0.7" />
<line x1="255.90" y1="640.50" x2="432.50" y2="640.50" stroke="#111" stroke-width="0.8" />
<line x1="275.40" y1="728.10" x2="275.40" y2="731.50" stroke="#333" stroke-width="0.7" />
<text x="275.40" y="743.30" font-size="9.2" text-anchor="middle" fill="#111">200</text>
<line x1="314.70" y1="728.10" x2="314.70" y2="731.50" stroke="#333" stroke-width="0.7" />
<text x="314.70" y="743.30" font-size="9.2" text-anchor="middle" fill="#111">400</text>
<line x1="353.60" y1="728.10" x2="353.60" y2="731.50" stroke="#333" stroke-width="0.7" />
<text x="353.60" y="743.30" font-size="9.2" text-anchor="middle" fill="#111">600</text>
<line x1="392.90" y1="728.10" x2="392.90" y2="731.50" stroke="#333" stroke-width="0.7" />
<text x="392.90" y="743.30" font-size="9.2" text-anchor="middle" fill="#111">800</text>
<line x1="432.50" y1="728.10" x2="432.50" y2="731.50" stroke="#333" stroke-width="0.7" />
<text x="432.50" y="743.30" font-size="9.2" text-anchor="middle" fill="#111">1,000</text>
<line x1="255.90" y1="728.10" x2="255.90" y2="731.50" stroke="#333" stroke-width="0.7" />
<text x="344.20" y="756.90" font-size="9.4" text-anchor="middle" fill="#111">Mass/charge</text>
<text x="246.70" y="640.50" font-size="9.4" text-anchor="middle" fill="#111" transform="rotate(-90 246.70 640.50)">Intensity (cps)</text>
<line x1="316.34" y1="640.50" x2="316.34" y2="579.70" stroke="#2c9c3c" stroke-width="0.8" />
<line x1="316.34" y1="640.50" x2="316.34" y2="699.58" stroke="#f050e0" stroke-width="0.8" />
<line x1="319.36" y1="640.50" x2="319.36" y2="580.37" stroke="#2c9c3c" stroke-width="0.8" />
<line x1="319.36" y1="640.50" x2="319.36" y2="692.86" stroke="#f050e0" stroke-width="0.8" />
<line x1="321.71" y1="640.50" x2="321.71" y2="618.99" stroke="#2c9c3c" stroke-width="0.8" />
<line x1="321.71" y1="640.50" x2="321.71" y2="657.60" stroke="#f050e0" stroke-width="0.8" />
<line x1="370.40" y1="640.50" x2="370.40" y2="593.13" stroke="#2c9c3c" stroke-width="0.8" />
<line x1="370.40" y1="640.50" x2="370.40" y2="681.11" stroke="#f050e0" stroke-width="0.8" />
<line x1="386.52" y1="640.50" x2="386.52" y2="570.97" stroke="#2c9c3c" stroke-width="0.8" />
<line x1="386.52" y1="640.50" x2="386.52" y2="705.29" stroke="#f050e0" stroke-width="0.8" />
<line x1="415.06" y1="640.50" x2="415.06" y2="618.99" stroke="#2c9c3c" stroke-width="0.8" />
<line x1="415.06" y1="640.50" x2="415.06" y2="656.93" stroke="#f050e0" stroke-width="0.8" />
<line x1="299.88" y1="640.50" x2="299.88" y2="629.06" stroke="#2c9c3c" stroke-width="0.8" />
<line x1="299.88" y1="640.50" x2="299.88" y2="649.21" stroke="#f050e0" stroke-width="0.8" />
<line x1="302.57" y1="640.50" x2="302.57" y2="627.38" stroke="#2c9c3c" stroke-width="0.8" />
<line x1="302.57" y1="640.50" x2="302.57" y2="650.89" stroke="#f050e0" stroke-width="0.8" />
<line x1="289.47" y1="640.50" x2="289.47" y2="633.43" stroke="#2c9c3c" stroke-width="0.8" />
<line x1="289.47" y1="640.50" x2="289.47" y2="645.85" stroke="#f050e0" stroke-width="0.8" />
<line x1="262.27" y1="640.50" x2="262.27" y2="637.12" stroke="#2c9c3c" stroke-width="0.8" />
<line x1="262.27" y1="640.50" x2="262.27" y2="643.16" stroke="#f050e0" stroke-width="0.8" />
<line x1="267.31" y1="640.50" x2="267.31" y2="636.11" stroke="#2c9c3c" stroke-width="0.8" />
<line x1="267.31" y1="640.50" x2="267.31" y2="644.84" stroke="#f050e0" stroke-width="0.8" />
<line x1="359.99" y1="640.50" x2="359.99" y2="631.75" stroke="#2c9c3c" stroke-width="0.8" />
<line x1="359.99" y1="640.50" x2="359.99" y2="647.53" stroke="#f050e0" stroke-width="0.8" />
<line x1="367.38" y1="640.50" x2="367.38" y2="635.10" stroke="#2c9c3c" stroke-width="0.8" />
<line x1="367.38" y1="640.50" x2="367.38" y2="644.17" stroke="#f050e0" stroke-width="0.8" />
<line x1="382.49" y1="640.50" x2="382.49" y2="632.42" stroke="#2c9c3c" stroke-width="0.8" />
<line x1="382.49" y1="640.50" x2="382.49" y2="646.86" stroke="#f050e0" stroke-width="0.8" />
<line x1="399.61" y1="640.50" x2="399.61" y2="637.45" stroke="#2c9c3c" stroke-width="0.8" />
<line x1="399.61" y1="640.50" x2="399.61" y2="642.16" stroke="#f050e0" stroke-width="0.8" />
<line x1="331.45" y1="640.50" x2="331.45" y2="636.78" stroke="#2c9c3c" stroke-width="0.8" />
<line x1="331.45" y1="640.50" x2="331.45" y2="642.83" stroke="#f050e0" stroke-width="0.8" />
<line x1="306.60" y1="640.50" x2="306.60" y2="637.45" stroke="#2c9c3c" stroke-width="0.8" />
<line x1="306.60" y1="640.50" x2="306.60" y2="642.16" stroke="#f050e0" stroke-width="0.8" />
<line x1="313.99" y1="640.50" x2="313.99" y2="638.13" stroke="#2c9c3c" stroke-width="0.8" />
<line x1="313.99" y1="640.50" x2="313.99" y2="641.82" stroke="#f050e0" stroke-width="0.8" />
<line x1="335.81" y1="640.50" x2="335.81" y2="638.46" stroke="#2c9c3c" stroke-width="0.8" />
<line x1="335.81" y1="640.50" x2="335.81" y2="641.82" stroke="#f050e0" stroke-width="0.8" />
<line x1="345.89" y1="640.50" x2="345.89" y2="638.46" stroke="#2c9c3c" stroke-width="0.8" />
<line x1="345.89" y1="640.50" x2="345.89" y2="641.48" stroke="#f050e0" stroke-width="0.8" />
<line x1="350.92" y1="640.50" x2="350.92" y2="638.80" stroke="#2c9c3c" stroke-width="0.8" />
<line x1="350.92" y1="640.50" x2="350.92" y2="641.48" stroke="#f050e0" stroke-width="0.8" />
<line x1="355.96" y1="640.50" x2="355.96" y2="638.46" stroke="#2c9c3c" stroke-width="0.8" />
<line x1="355.96" y1="640.50" x2="355.96" y2="641.82" stroke="#f050e0" stroke-width="0.8" />
<line x1="340.85" y1="640.50" x2="340.85" y2="639.13" stroke="#2c9c3c" stroke-width="0.8" />
<line x1="340.85" y1="640.50" x2="340.85" y2="641.15" stroke="#f050e0" stroke-width="0.8" />
<line x1="270.33" y1="640.50" x2="270.33" y2="639.13" stroke="#2c9c3c" stroke-width="0.8" />
<line x1="270.33" y1="640.50" x2="270.33" y2="641.15" stroke="#f050e0" stroke-width="0.8" />
<line x1="325.74" y1="640.50" x2="325.74" y2="638.80" stroke="#2c9c3c" stroke-width="0.8" />
<line x1="325.74" y1="640.50" x2="325.74" y2="641.48" stroke="#f050e0" stroke-width="0.8" />
<line x1="318.35" y1="563.58" x2="318.35" y2="579.36" stroke="#f07a2a" stroke-width="0.9" stroke-dasharray="2.6 1.8"/>
<line x1="318.35" y1="697.23" x2="318.35" y2="714.02" stroke="#f07a2a" stroke-width="0.9" stroke-dasharray="2.6 1.8"/>
<text x="428.30" y="561.30" font-size="9.2" text-anchor="end" fill="#2c9c3c">AIM1</text>
<text x="430.60" y="725.90" font-size="9.2" text-anchor="end" fill="#f050e0"><tspan font-style="italic">Ph</tspan>CHD</text>
<text x="319.00" y="562.00" font-size="9.2" text-anchor="middle" fill="#111">419.0424</text>
<text x="319.00" y="724.20" font-size="9.2" text-anchor="middle" fill="#111">419.0429</text>
<text x="313.40" y="606.56" font-size="9.2" fill="#111" transform="rotate(-90 313.40 606.56)">408.0095</text>
<text x="329.90" y="606.56" font-size="9.2" fill="#111" transform="rotate(-90 329.90 606.56)">426.0201</text>
<text x="368.80" y="615.63" font-size="9.2" fill="#111" transform="rotate(-90 368.80 615.63)">686.1407</text>
<text x="384.60" y="615.63" font-size="9.2" fill="#111" transform="rotate(-90 384.60 615.63)">766.1051</text>
<text x="417.50" y="615.63" font-size="9.2" fill="#111" transform="rotate(-90 417.50 615.63)">912.1434</text>
<text x="313.40" y="707.30" font-size="9.2" fill="#111" transform="rotate(-90 313.40 707.30)">408.0095</text>
<text x="329.90" y="707.97" font-size="9.2" fill="#111" transform="rotate(-90 329.90 707.97)">426.0201</text>
<text x="368.50" y="705.29" font-size="9.2" fill="#111" transform="rotate(-90 368.50 705.29)">686.1414</text>
<text x="384.90" y="705.29" font-size="9.2" fill="#111" transform="rotate(-90 384.90 705.29)">766.1055</text>
<text x="418.90" y="694.54" font-size="9.2" fill="#111" transform="rotate(-90 418.90 694.54)">912.1440</text>
<text x="481.00" y="553.60" font-size="12.8" fill="#000" font-weight="bold" stroke="#000" stroke-width="0.15">j</text>
<rect x="497.00" y="551.80" width="176.90" height="176.30" fill="none" stroke="#333" stroke-width="0.7" />
<line x1="497.00" y1="640.50" x2="673.90" y2="640.50" stroke="#111" stroke-width="0.8" />
<line x1="516.50" y1="728.10" x2="516.50" y2="731.50" stroke="#333" stroke-width="0.7" />
<text x="516.50" y="743.30" font-size="9.2" text-anchor="middle" fill="#111">200</text>
<line x1="555.70" y1="728.10" x2="555.70" y2="731.50" stroke="#333" stroke-width="0.7" />
<text x="555.70" y="743.30" font-size="9.2" text-anchor="middle" fill="#111">400</text>
<line x1="595.00" y1="728.10" x2="595.00" y2="731.50" stroke="#333" stroke-width="0.7" />
<text x="595.00" y="743.30" font-size="9.2" text-anchor="middle" fill="#111">600</text>
<line x1="634.30" y1="728.10" x2="634.30" y2="731.50" stroke="#333" stroke-width="0.7" />
<text x="634.30" y="743.30" font-size="9.2" text-anchor="middle" fill="#111">800</text>
<line x1="673.90" y1="728.10" x2="673.90" y2="731.50" stroke="#333" stroke-width="0.7" />
<text x="673.90" y="743.30" font-size="9.2" text-anchor="middle" fill="#111">1,000</text>
<line x1="497.00" y1="728.10" x2="497.00" y2="731.50" stroke="#333" stroke-width="0.7" />
<text x="585.30" y="756.90" font-size="9.4" text-anchor="middle" fill="#111">Mass/charge</text>
<text x="489.40" y="640.50" font-size="9.4" text-anchor="middle" fill="#111" transform="rotate(-90 489.40 640.50)">Intensity (cps)</text>
<line x1="557.42" y1="640.50" x2="557.42" y2="570.30" stroke="#c98a3c" stroke-width="0.8" />
<line x1="557.42" y1="640.50" x2="557.42" y2="696.22" stroke="#c048e8" stroke-width="0.8" />
<line x1="560.78" y1="640.50" x2="560.78" y2="580.37" stroke="#c98a3c" stroke-width="0.8" />
<line x1="560.78" y1="640.50" x2="560.78" y2="696.89" stroke="#c048e8" stroke-width="0.8" />
<line x1="564.13" y1="640.50" x2="564.13" y2="616.64" stroke="#c98a3c" stroke-width="0.8" />
<line x1="564.13" y1="640.50" x2="564.13" y2="681.78" stroke="#c048e8" stroke-width="0.8" />
<line x1="579.92" y1="640.50" x2="579.92" y2="577.68" stroke="#c98a3c" stroke-width="0.8" />
<line x1="579.92" y1="640.50" x2="579.92" y2="693.87" stroke="#c048e8" stroke-width="0.8" />
<line x1="583.61" y1="640.50" x2="583.61" y2="617.98" stroke="#c98a3c" stroke-width="0.8" />
<line x1="583.61" y1="640.50" x2="583.61" y2="677.75" stroke="#c048e8" stroke-width="0.8" />
<line x1="632.30" y1="640.50" x2="632.30" y2="586.08" stroke="#c98a3c" stroke-width="0.8" />
<line x1="632.30" y1="640.50" x2="632.30" y2="694.54" stroke="#c048e8" stroke-width="0.8" />
<line x1="647.41" y1="640.50" x2="647.41" y2="583.73" stroke="#c98a3c" stroke-width="0.8" />
<line x1="647.41" y1="640.50" x2="647.41" y2="692.19" stroke="#c048e8" stroke-width="0.8" />
<line x1="541.64" y1="640.50" x2="541.64" y2="622.34" stroke="#c98a3c" stroke-width="0.8" />
<line x1="541.64" y1="640.50" x2="541.64" y2="667.00" stroke="#c048e8" stroke-width="0.8" />
<line x1="530.55" y1="640.50" x2="530.55" y2="627.38" stroke="#c98a3c" stroke-width="0.8" />
<line x1="530.55" y1="640.50" x2="530.55" y2="658.61" stroke="#c048e8" stroke-width="0.8" />
<line x1="508.39" y1="640.50" x2="508.39" y2="631.75" stroke="#c98a3c" stroke-width="0.8" />
<line x1="508.39" y1="640.50" x2="508.39" y2="650.89" stroke="#c048e8" stroke-width="0.8" />
<line x1="503.69" y1="640.50" x2="503.69" y2="635.10" stroke="#c98a3c" stroke-width="0.8" />
<line x1="503.69" y1="640.50" x2="503.69" y2="646.86" stroke="#c048e8" stroke-width="0.8" />
<line x1="621.89" y1="640.50" x2="621.89" y2="633.43" stroke="#c98a3c" stroke-width="0.8" />
<line x1="621.89" y1="640.50" x2="621.89" y2="649.21" stroke="#c048e8" stroke-width="0.8" />
<line x1="628.94" y1="640.50" x2="628.94" y2="636.11" stroke="#c98a3c" stroke-width="0.8" />
<line x1="628.94" y1="640.50" x2="628.94" y2="645.18" stroke="#c048e8" stroke-width="0.8" />
<line x1="644.72" y1="640.50" x2="644.72" y2="635.10" stroke="#c98a3c" stroke-width="0.8" />
<line x1="644.72" y1="640.50" x2="644.72" y2="646.86" stroke="#c048e8" stroke-width="0.8" />
<line x1="567.49" y1="640.50" x2="567.49" y2="635.78" stroke="#c98a3c" stroke-width="0.8" />
<line x1="567.49" y1="640.50" x2="567.49" y2="645.18" stroke="#c048e8" stroke-width="0.8" />
<line x1="572.53" y1="640.50" x2="572.53" y2="636.45" stroke="#c98a3c" stroke-width="0.8" />
<line x1="572.53" y1="640.50" x2="572.53" y2="645.85" stroke="#c048e8" stroke-width="0.8" />
<line x1="575.89" y1="640.50" x2="575.89" y2="637.12" stroke="#c98a3c" stroke-width="0.8" />
<line x1="575.89" y1="640.50" x2="575.89" y2="644.17" stroke="#c048e8" stroke-width="0.8" />
<line x1="545.66" y1="640.50" x2="545.66" y2="636.78" stroke="#c98a3c" stroke-width="0.8" />
<line x1="545.66" y1="640.50" x2="545.66" y2="646.52" stroke="#c048e8" stroke-width="0.8" />
<line x1="533.91" y1="640.50" x2="533.91" y2="638.13" stroke="#c98a3c" stroke-width="0.8" />
<line x1="533.91" y1="640.50" x2="533.91" y2="642.49" stroke="#c048e8" stroke-width="0.8" />
<line x1="537.27" y1="640.50" x2="537.27" y2="637.79" stroke="#c98a3c" stroke-width="0.8" />
<line x1="537.27" y1="640.50" x2="537.27" y2="642.83" stroke="#c048e8" stroke-width="0.8" />
<line x1="552.38" y1="640.50" x2="552.38" y2="638.13" stroke="#c98a3c" stroke-width="0.8" />
<line x1="552.38" y1="640.50" x2="552.38" y2="642.49" stroke="#c048e8" stroke-width="0.8" />
<line x1="596.03" y1="640.50" x2="596.03" y2="638.46" stroke="#c98a3c" stroke-width="0.8" />
<line x1="596.03" y1="640.50" x2="596.03" y2="642.16" stroke="#c048e8" stroke-width="0.8" />
<line x1="599.39" y1="640.50" x2="599.39" y2="638.13" stroke="#c98a3c" stroke-width="0.8" />
<line x1="599.39" y1="640.50" x2="599.39" y2="642.49" stroke="#c048e8" stroke-width="0.8" />
<line x1="604.43" y1="640.50" x2="604.43" y2="638.80" stroke="#c98a3c" stroke-width="0.8" />
<line x1="604.43" y1="640.50" x2="604.43" y2="641.82" stroke="#c048e8" stroke-width="0.8" />
<line x1="525.52" y1="640.50" x2="525.52" y2="639.13" stroke="#c98a3c" stroke-width="0.8" />
<line x1="525.52" y1="640.50" x2="525.52" y2="641.48" stroke="#c048e8" stroke-width="0.8" />
<line x1="517.12" y1="640.50" x2="517.12" y2="639.47" stroke="#c98a3c" stroke-width="0.8" />
<line x1="517.12" y1="640.50" x2="517.12" y2="641.15" stroke="#c048e8" stroke-width="0.8" />
<line x1="617.86" y1="640.50" x2="617.86" y2="639.13" stroke="#c98a3c" stroke-width="0.8" />
<line x1="617.86" y1="640.50" x2="617.86" y2="641.48" stroke="#c048e8" stroke-width="0.8" />
<line x1="560.78" y1="563.58" x2="560.78" y2="579.70" stroke="#f07a2a" stroke-width="0.9" stroke-dasharray="2.6 1.8"/>
<line x1="560.78" y1="697.56" x2="560.78" y2="711.67" stroke="#f07a2a" stroke-width="0.9" stroke-dasharray="2.6 1.8"/>
<line x1="584.28" y1="616.64" x2="591.00" y2="610.59" stroke="#f07a2a" stroke-width="0.9" stroke-dasharray="2.2 1.6"/>
<line x1="584.28" y1="677.75" x2="591.00" y2="677.75" stroke="#f07a2a" stroke-width="0.9" stroke-dasharray="2.2 1.6"/>
<text x="670.70" y="561.30" font-size="9.2" text-anchor="end" fill="#a8742c">AIM1 + <tspan font-style="italic">Os</tspan>KAT1</text>
<text x="671.70" y="725.90" font-size="9.6" text-anchor="end" fill="#b030e0">BA-CoA</text>
<text x="563.10" y="561.30" font-size="9.2" text-anchor="middle" fill="#111">426.0217</text>
<text x="559.80" y="720.50" font-size="9.2" text-anchor="middle" fill="#111">426.0199</text>
<text x="555.80" y="602.20" font-size="9.2" fill="#111" transform="rotate(-90 555.80 602.20)">408.0106</text>
<text x="572.00" y="612.27" font-size="9.2" fill="#111" transform="rotate(-90 572.00 612.27)">443.1048</text>
<text x="588.70" y="602.20" font-size="9.2" fill="#111" transform="rotate(-90 588.70 602.20)">523.0710</text>
<text x="600.10" y="612.27" font-size="9.2" fill="#111" transform="rotate(-90 600.10 612.27)">541.0830</text>
<text x="629.70" y="602.20" font-size="9.2" fill="#111" transform="rotate(-90 629.70 602.20)">790.1687</text>
<text x="657.60" y="602.20" font-size="9.2" fill="#111" transform="rotate(-90 657.60 602.20)">870.1350</text>
<text x="555.80" y="701.26" font-size="9.2" fill="#111" transform="rotate(-90 555.80 701.26)">408.0090</text>
<text x="573.30" y="701.26" font-size="9.2" fill="#111" transform="rotate(-90 573.30 701.26)">443.1035</text>
<text x="589.40" y="718.05" font-size="9.2" fill="#111" transform="rotate(-90 589.40 718.05)">523.0696</text>
<text x="599.50" y="701.26" font-size="9.2" fill="#111" transform="rotate(-90 599.50 701.26)">541.0813</text>
<text x="630.40" y="701.26" font-size="9.2" fill="#111" transform="rotate(-90 630.40 701.26)">790.1664</text>
<text x="658.30" y="701.26" font-size="9.2" fill="#111" transform="rotate(-90 658.30 701.26)">870.1320</text>
</svg>
</body></html>
